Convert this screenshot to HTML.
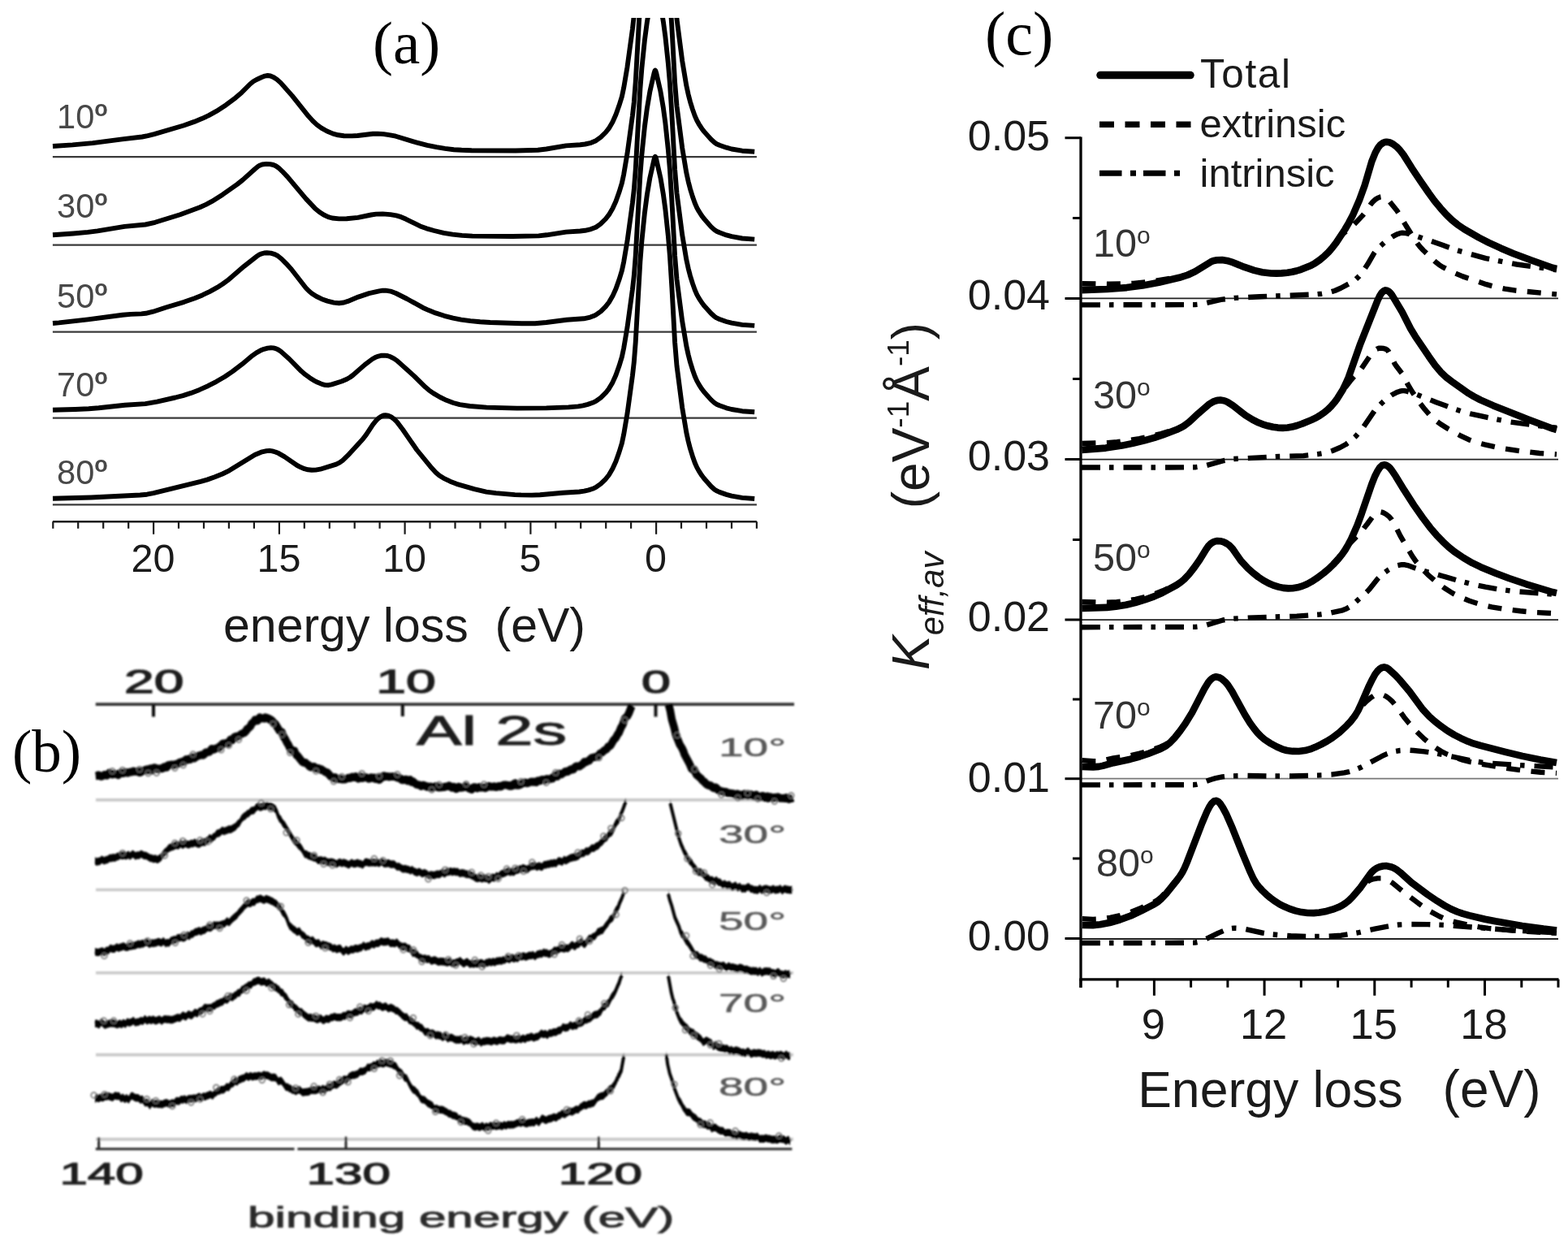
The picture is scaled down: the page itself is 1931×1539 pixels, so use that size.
<!DOCTYPE html><html><head><meta charset="utf-8"><title>Figure</title><style>html,body{margin:0;padding:0;background:#fff;overflow:hidden;}svg{display:block;}.sans{font-family:"Liberation Sans",Arial,sans-serif;}.serif{font-family:"Liberation Serif","Times New Roman",serif;}</style></head><body><svg xmlns="http://www.w3.org/2000/svg" width="1931" height="1539" viewBox="0 0 1931 1539"><rect width="1931" height="1539" fill="#fff"/><defs><clipPath id="clipA"><rect x="40" y="22" width="920" height="640"/></clipPath><filter id="blurB" x="-5%" y="-5%" width="110%" height="110%"><feGaussianBlur stdDeviation="1.1"/></filter><filter id="blurT" x="-5%" y="-5%" width="110%" height="110%"><feGaussianBlur stdDeviation="0.6"/></filter></defs><g id="panelA"><text class="serif" x="459" y="78" font-size="75" fill="#000">(a)</text><line x1="64.9" y1="193.2" x2="931.9" y2="193.2" stroke="#3a3a3a" stroke-width="2.2"/><line x1="64.9" y1="301.7" x2="931.9" y2="301.7" stroke="#3a3a3a" stroke-width="2.2"/><line x1="64.9" y1="408.6" x2="931.9" y2="408.6" stroke="#3a3a3a" stroke-width="2.2"/><line x1="64.9" y1="514.7" x2="931.9" y2="514.7" stroke="#3a3a3a" stroke-width="2.2"/><line x1="64.9" y1="621.4" x2="931.9" y2="621.4" stroke="#3a3a3a" stroke-width="2.2"/><g clip-path="url(#clipA)" fill="none" stroke="#000" stroke-width="5.9" stroke-linejoin="round" stroke-linecap="butt"><path d="M65,180 L89.3,178.4 L114.1,176.1 L150.5,171.3 L175,168.5 L182,167.1 L190,165.1 L226.2,154.5 L239.2,149.9 L248.6,146.1 L257.1,142.1 L266.5,136.9 L278.4,129.2 L290.2,120.3 L297.6,113.9 L308,103.5 L312,100.3 L316,98 L321.9,95.3 L326.2,93.6 L329.6,93 L333.1,93.5 L337.1,95.2 L341.1,97.9 L345.6,101.9 L360,118.1 L379.9,143.1 L385.3,149 L390.3,153.6 L395.8,157.6 L402.7,161.5 L410.1,164.6 L416.5,166.3 L423.5,167.2 L433.4,167.4 L440.4,167 L459.2,164.7 L465.2,164.6 L472.6,165.1 L480.5,166.3 L487.4,167.7 L512.7,175.4 L526.1,178.8 L537.5,181.2 L548,182.9 L558.9,184.2 L568.4,184.8 L580.8,185.2 L635,185.5 L662.4,184.8 L672.8,183.5 L697.1,179.4 L714.5,178.2 L720.5,177.5 L727.9,175.8 L733.9,173.2 L739.9,168.9 L745.9,163 L749.9,157.9 L754.4,150.2 L758.4,141.3 L762.4,130.1 L765.9,118.8 L768.2,107.9 L772.5,82.4 L778.9,35.8 L780.8,19 L782.7,-5.5 L788.4,-105.5 L790.4,-130.6 L793.9,-164.6 L796.9,-187.4 L800.4,-208.2 L805.6,-231 L806.5,-233.6 L806.9,-234.1 L807.3,-233.7 L808.2,-231 L813.4,-208.2 L816.9,-187.5 L819.4,-168.9 L822.9,-136 L824.9,-112.6 L827.4,-73.2 L831.1,-5.6 L833.5,23.4 L840.2,75 L845.3,105.4 L847.7,116.4 L850,125.3 L852.9,134.6 L855.7,142.6 L858.2,148.3 L860.7,152.8 L864.2,158.2 L867,161.9 L875.6,171.5 L880,175.5 L882.5,177.2 L886,178.8 L894.5,181.7 L901,183.5 L914,185.7 L929.2,186.7"/><path d="M65,289.2 L90.3,287.5 L108.2,285.9 L120.1,284.3 L153.4,278.9 L179,276.5 L191,273.8 L221.8,264.2 L246.1,255.3 L253.6,251.9 L261,247.9 L274.4,239.4 L292.2,226.9 L299.1,221.4 L314,208 L317.9,204.8 L320.4,203.4 L322.8,202.5 L328.1,201.9 L332.6,202.1 L336.6,203 L339.6,204.3 L343.1,206.7 L347.5,210.8 L354,217.6 L376.9,244.9 L387.8,256.4 L393.3,261 L398.7,264.5 L404.2,267.1 L409.1,268.5 L417.5,269.4 L426.9,269.3 L440.8,267.9 L457.2,264.5 L463.2,263.6 L471.2,263.4 L480.6,264.1 L488,265.4 L494,267.2 L500,269.8 L517.4,278.4 L525.3,281.3 L534.7,284 L546.5,286.8 L557.4,288.6 L568.9,289.9 L581.8,290.6 L631.5,291 L663.4,290.4 L673.3,289.3 L697.1,285.6 L714.5,284.5 L720.5,283.8 L727.9,282.1 L733.9,279.7 L739.4,275.9 L745.9,269.5 L749.9,264.4 L754.4,256.8 L758.4,248 L762.4,236.8 L765.9,225.4 L768.2,214.6 L772.5,189.1 L778.9,142.6 L780.8,125.8 L782.7,101.3 L788.4,1.4 L790.4,-23.7 L793.9,-57.7 L796.9,-80.5 L800.4,-101.2 L805.6,-124 L806.5,-126.7 L806.9,-127.1 L807.3,-126.7 L808.2,-124 L813.4,-101.2 L816.9,-80.4 L819.4,-61.9 L822.9,-28.9 L824.9,-5.4 L827.4,33.9 L831.1,101.6 L833.5,130.6 L840.2,182.2 L845.3,212.7 L847.7,223.7 L850,232.6 L852.9,242 L855.7,250 L858.2,255.7 L860.7,260.2 L864.2,265.6 L867,269.3 L875.6,279.1 L880,283.1 L882.5,284.7 L886,286.3 L894.5,289.4 L901,291.2 L914,293.5 L929.2,294.6"/><path d="M65,398 L72.5,397.4 L108.2,393.4 L151,387.8 L160.9,386.9 L174.1,386.4 L179.5,385.8 L188.5,383.7 L204.4,378.5 L226.7,371.8 L239.7,367.2 L249.1,363.4 L258.1,359.1 L267.5,353.9 L274.4,349.5 L280.4,345.2 L300.6,327.8 L316.5,315.4 L319.4,313.5 L322.4,312.3 L325.3,311.5 L328.7,311.2 L333.5,311.6 L338.4,313.1 L342.3,315.2 L346.7,318.7 L352.5,324.6 L359,331.8 L376.9,354.7 L380.4,358.3 L383.9,361.2 L389.8,365 L396.3,368.2 L403.2,370.6 L411.1,372.6 L417.5,373.2 L423.5,372.5 L428.4,370.9 L441.3,365.6 L454.6,361.1 L467,358.3 L471.4,357.7 L474.9,357.7 L480.9,358.6 L487.4,361 L501.3,368 L520.6,378.7 L528.1,382.1 L536.5,385.4 L547,388.8 L557.9,391.6 L567.9,393.6 L579.3,395.1 L591.2,396.3 L603.6,397 L642.4,398.3 L658.9,398.2 L672.8,397 L698.1,393.8 L719,392.3 L726.9,390.6 L730.9,389.1 L733.9,387.6 L739.9,383.4 L745.9,377.4 L749.9,372.3 L754.4,364.6 L758.4,355.8 L762.4,344.6 L765.9,333.2 L768.2,322.3 L772.5,296.8 L778.9,250.2 L780.8,233.4 L782.7,208.9 L788.4,108.9 L790.4,83.8 L793.9,49.7 L796.9,26.9 L800.4,6.2 L805.6,-16.7 L806.5,-19.3 L806.9,-19.7 L807.3,-19.3 L808.2,-16.7 L813.4,6.1 L816.9,26.9 L819.4,45.4 L822.9,78.4 L824.9,101.8 L827.4,141.1 L831.1,208.7 L833.5,237.8 L840.2,289.3 L845.3,319.7 L847.7,330.7 L850,339.6 L852.9,348.9 L855.7,356.9 L858.2,362.6 L860.7,367.1 L864.2,372.5 L867,376.2 L875.6,385.8 L880,389.8 L882.5,391.4 L886,393 L894.5,396 L901,397.7 L914,399.9 L929.2,400.9"/><path d="M65,504.8 L92.8,504 L109.2,503.2 L121.6,502.2 L153.9,498.7 L179,497.1 L193.4,494.6 L215.8,489.5 L225.2,487.1 L235.2,483.9 L245.6,479.9 L256.1,475.2 L266.5,469.8 L276.9,463.8 L286.3,457.4 L298.1,448.4 L310.8,437.8 L315.7,434.3 L320.7,431.6 L325.1,429.8 L329.6,428.6 L333.6,428.2 L336.6,428.4 L339.6,429.1 L342.6,430.5 L346.1,432.9 L356,441.7 L371.1,457.1 L376,461.2 L381.5,465.2 L386.4,468.3 L391.3,470.8 L396.8,473.1 L400.7,474.1 L404.7,474.2 L408.5,473.4 L420.8,469.5 L427.2,466.8 L431.1,464.5 L434.5,462 L449.2,449.1 L458.6,442 L462.1,440.1 L466.1,438.6 L470.1,437.7 L473.6,437.6 L477.1,438 L481,439.3 L485,441.4 L489,444.1 L510.4,463.4 L523.8,476.6 L528.2,480.3 L533.6,484.1 L541.9,489 L549.8,492.8 L558.2,496 L566.1,498.2 L578.5,500 L599.3,501.6 L636.5,502.6 L672.8,502.4 L700.1,501.4 L712,500.4 L718,499.4 L723.9,497.9 L729.9,495.8 L733.9,493.9 L739.9,489.6 L745.9,483.7 L749.9,478.6 L754.4,470.9 L758.4,462 L762.4,450.8 L765.9,439.4 L768.2,428.5 L772.5,403.1 L778.9,356.4 L780.8,339.7 L782.7,315.2 L788.4,215.2 L790.4,190.1 L793.9,156 L796.9,133.2 L800.4,112.5 L805.6,89.6 L806.5,87 L806.9,86.6 L807.3,87 L808.2,89.6 L813.4,112.4 L816.9,133.1 L819.4,151.7 L822.9,184.6 L824.9,208.1 L827.4,247.4 L831.1,315 L833.5,344.1 L840.2,395.6 L845.3,426 L847.7,437 L850,445.9 L852.9,455.2 L855.7,463.2 L858.2,468.9 L860.7,473.4 L864.2,478.8 L867,482.5 L875.6,492.1 L880,496.1 L882.5,497.7 L886,499.3 L894.5,502.3 L901,504 L914,506.2 L929.2,507.2"/><path d="M65,613.8 L112.2,612.5 L172.6,609.5 L181,608.7 L189,607.2 L247.1,592.9 L255.1,590.6 L264.5,587.3 L273.9,583.5 L282.4,579.3 L313.8,560 L321.6,556.7 L328.5,555.1 L331.9,554.9 L335.3,555.4 L339.2,556.5 L343.1,558.1 L350.5,562.4 L365.9,573 L370.4,575.3 L374.9,577.2 L379.4,578.3 L383.9,578.8 L388.8,578.6 L394.3,577.7 L414.1,571.6 L418.1,569.6 L422,566.8 L428.4,560.7 L446.7,540.8 L451.2,534.9 L459.1,522.8 L463.1,517.9 L466.1,515 L469.1,512.9 L472.1,511.5 L474.6,511.1 L478.1,511.6 L481.5,513.1 L485.5,516.1 L489,519.6 L495.9,528.7 L513.4,554 L531.7,576.3 L536.7,581.7 L541.1,585.5 L546,588.6 L554.4,592.7 L562.3,595.8 L584,602.2 L598.9,605.6 L610.8,607.1 L634.1,609.1 L641.5,609.4 L655,609.6 L665,609.3 L693,606.7 L713.4,605.5 L719.4,604.7 L724.9,603.4 L729.9,601.8 L733.9,599.9 L739.9,595.7 L745.9,589.8 L749.9,584.7 L754.4,577 L758.4,568.2 L762.4,557 L765.9,545.6 L768.2,534.7 L772.5,509.3 L778.9,462.7 L780.8,445.9 L782.7,421.4 L788.4,321.4 L790.4,296.4 L793.9,262.3 L796.9,239.5 L800.4,218.8 L805.6,195.9 L806.5,193.3 L806.9,192.9 L807.3,193.3 L808.2,195.9 L813.4,218.8 L816.9,239.5 L819.4,258 L822.9,291 L824.9,314.5 L827.4,353.8 L831.1,421.4 L833.5,450.5 L840.2,502 L845.3,532.5 L847.7,543.5 L850,552.4 L852.9,561.7 L855.7,569.7 L858.2,575.4 L860.7,579.9 L864.2,585.3 L867,589 L875.6,598.7 L880,602.7 L882.5,604.3 L886,605.9 L894.5,608.9 L901,610.7 L914,612.9 L929.2,614"/></g><text class="sans" x="70" y="158.3" font-size="41.6" fill="#484848">10<tspan font-size="27" font-weight="bold" dy="-15">o</tspan></text><text class="sans" x="70" y="268.3" font-size="41.6" fill="#484848">30<tspan font-size="27" font-weight="bold" dy="-15">o</tspan></text><text class="sans" x="70" y="379.3" font-size="41.6" fill="#484848">50<tspan font-size="27" font-weight="bold" dy="-15">o</tspan></text><text class="sans" x="70" y="488.3" font-size="41.6" fill="#484848">70<tspan font-size="27" font-weight="bold" dy="-15">o</tspan></text><text class="sans" x="70" y="595.8" font-size="41.6" fill="#484848">80<tspan font-size="27" font-weight="bold" dy="-15">o</tspan></text><line x1="64.9" y1="642.3" x2="931.9" y2="642.3" stroke="#1a1a1a" stroke-width="2.4"/><path d="M65.3,642.3 v8.5 M96.2,642.3 v8.5 M127.2,642.3 v8.5 M158.2,642.3 v8.5 M189.1,642.3 v15.5 M220,642.3 v8.5 M251,642.3 v8.5 M281.9,642.3 v8.5 M312.9,642.3 v8.5 M343.9,642.3 v15.5 M374.8,642.3 v8.5 M405.8,642.3 v8.5 M436.7,642.3 v8.5 M467.6,642.3 v8.5 M498.6,642.3 v15.5 M529.5,642.3 v8.5 M560.5,642.3 v8.5 M591.4,642.3 v8.5 M622.4,642.3 v8.5 M653.4,642.3 v15.5 M684.3,642.3 v8.5 M715.2,642.3 v8.5 M746.2,642.3 v8.5 M777.1,642.3 v8.5 M808.1,642.3 v15.5 M839,642.3 v8.5 M870,642.3 v8.5 M901,642.3 v8.5 M931.9,642.3 v8.5" stroke="#1a1a1a" stroke-width="2.2" fill="none"/><text class="sans" x="188.6" y="704.3" font-size="48.5" text-anchor="middle" fill="#1a1a1a">20</text><text class="sans" x="343.4" y="704.3" font-size="48.5" text-anchor="middle" fill="#1a1a1a">15</text><text class="sans" x="498.1" y="704.3" font-size="48.5" text-anchor="middle" fill="#1a1a1a">10</text><text class="sans" x="652.9" y="704.3" font-size="48.5" text-anchor="middle" fill="#1a1a1a">5</text><text class="sans" x="807.6" y="704.3" font-size="48.5" text-anchor="middle" fill="#1a1a1a">0</text><text class="sans" x="275" y="790" font-size="59" fill="#1a1a1a" xml:space="preserve">energy loss  (eV)</text></g><g id="panelB"><text class="serif" x="15" y="950" font-size="73" fill="#000">(b)</text><g filter="url(#blurB)"><line x1="118" y1="984.9" x2="977" y2="984.9" stroke="#c8c8c8" stroke-width="3.6"/><line x1="118" y1="1095.5" x2="977" y2="1095.5" stroke="#c8c8c8" stroke-width="3.6"/><line x1="118" y1="1197.7" x2="977" y2="1197.7" stroke="#c8c8c8" stroke-width="3.6"/><line x1="118" y1="1298.6" x2="977" y2="1298.6" stroke="#c8c8c8" stroke-width="3.6"/><line x1="118" y1="1402.6" x2="977" y2="1402.6" stroke="#c8c8c8" stroke-width="3.6"/><line x1="117.8" y1="867.2" x2="978" y2="867.2" stroke="#333" stroke-width="3.8"/><path d="M189,867 v15.5 M495.8,867 v15 M807.5,867 v15.5" stroke="#111" stroke-width="4"/><line x1="117.8" y1="1414.6" x2="362.5" y2="1414.6" stroke="#3a3a3a" stroke-width="3.4"/><line x1="366.4" y1="1414.6" x2="975.4" y2="1414.6" stroke="#3a3a3a" stroke-width="3.4"/><path d="M121.7,1414.6 v-14 M426,1414.6 v-15 M737.3,1414.6 v-15" stroke="#222" stroke-width="3"/><path d="M117.8,955.4 L119.8,955.2 L120.8,954.4 L121.8,954.3 L124.7,956 L127.7,954.8 L128.7,953.8 L130.7,954 L131.7,954.9 L134.6,951.6 L136.6,953 L138.6,953.7 L139.6,953.1 L142.5,952.9 L143.5,953.5 L144.5,953.5 L145.5,954.3 L148.5,951.4 L151.4,952.3 L154.4,950.7 L155.4,951.4 L157.4,951.6 L159.4,950.6 L160.4,950.4 L161.4,950.8 L163.4,950.1 L164.4,949.3 L166.3,950.1 L169.3,949.6 L170.3,949.9 L171.3,951 L172.3,951.2 L174.3,950.4 L175.3,948.9 L177.3,948.4 L178.3,948.7 L179.3,947.7 L181.3,947.2 L182.3,948.3 L185.2,946.3 L187.2,948.8 L189.2,945.4 L190.2,945.1 L193.2,946.1 L195.2,947.2 L197.2,946 L198.2,946.5 L200.2,946.3 L202.2,944.1 L204.1,944.2 L205.1,945 L207.1,942 L212.1,941.3 L213.1,941.9 L214.1,941.4 L215.1,941.7 L216.1,940.7 L219.1,940.4 L220.1,939.4 L222.1,938.4 L223.1,938.4 L225,937.4 L227,937.7 L229,935 L230,934.8 L232,935.4 L233,934.6 L234,935.1 L235,933.4 L237,932.4 L239,933.7 L242,931.6 L246,930.1 L249,929.2 L250,929.8 L252,928.3 L253,926.7 L254,926.1 L255,926.3 L258,925.7 L261,921.7 L262,922.7 L263,922.9 L266.9,920.9 L267.9,921.3 L269.9,920.4 L270.9,918.6 L272.9,917.6 L273.9,915.8 L274.9,915.2 L276.9,915.4 L278.8,914.6 L280.8,915.3 L283.8,910.7 L285.8,911.4 L286.8,909.6 L287.7,909.3 L288.7,907.4 L289.7,908.5 L290.6,906.5 L293.6,906.4 L297.5,903.5 L301.4,902 L302.4,900.1 L303.3,899.8 L304.3,897.4 L305.3,897.1 L308.2,894.5 L310.2,890.5 L313.2,888.2 L314.1,886.2 L316.1,886.7 L317.1,887.5 L320,883.2 L322,884.4 L324,884.8 L325,884.5 L326,884.9 L327,883.2 L329,883.9 L330,884.8 L331,884.6 L332,885.3 L333,886.7 L334,886.4 L336,888.2 L337,890.5 L339,891.3 L344,899.6 L347,901.3 L348,904.3 L349.9,908.2 L350.9,909.3 L353.8,915.2 L354.8,916.3 L357.7,922.3 L359.6,924 L360.6,923.6 L361.5,924.6 L362.5,924.4 L363.5,927.1 L364.4,928.1 L365.4,930.1 L366.4,930.5 L372.2,937.9 L374.1,938.9 L376.1,938.7 L377,940 L380,941.8 L381,943.5 L382,944.3 L384,944.8 L385,944.7 L386,943.9 L387,943.8 L389,946.1 L390,946.3 L392,945.7 L393,946.4 L394,946.6 L395,948 L396,947.3 L397,948.5 L397.9,948.5 L400.8,950.7 L401.8,951.1 L402.7,950.8 L407.6,956.3 L411.4,958.2 L412.4,956.9 L414.3,958.1 L415.3,959.2 L416.3,958.7 L417.3,959.2 L418.3,958.5 L421.3,959.8 L423.3,959.5 L424.3,959.8 L425.3,959.6 L429.2,957.6 L430.2,958.3 L431.2,958.1 L432.2,957.7 L433.2,956.7 L434.2,956.4 L436.2,957.2 L437.2,956.9 L438.2,956 L441.2,958.9 L442.2,956.3 L444.2,956.1 L445.2,958.3 L447.1,958.1 L449.1,956.5 L453.1,958.1 L454.1,958.9 L455.1,958.7 L457.1,957.1 L458.1,957.9 L459.1,958.1 L460,957.5 L462,959.2 L463,959.1 L464,957.4 L465,957.7 L467,960.2 L470,957.5 L471,955.8 L473,955.2 L474,956.4 L477,955.8 L479,956.6 L481,956.1 L484,956.2 L485,955.7 L490,957.9 L492,957.8 L493,958.3 L495,960.4 L497,960.5 L499,959.5 L500,959.6 L501,959.9 L502,961.5 L504.9,960 L506.9,963.1 L507.8,963.2 L508.8,962.3 L512.7,965.8 L514.7,966.3 L515.7,966.1 L518.6,968 L519.6,966.9 L521.6,966.5 L525.5,968.7 L526.5,968.1 L527.4,969.2 L528.4,969.5 L529.4,969.6 L530.4,968.5 L531.4,969.2 L533.3,969.7 L534.3,968.9 L535.3,969.2 L536.3,968.2 L537.3,967.9 L538.2,968.1 L539.2,969.3 L540.2,969.6 L544.1,969.5 L546.1,968.8 L547.1,969.1 L550,968.2 L552,968.2 L553,967.2 L555,968.3 L556,969.6 L556.9,970 L558.9,968.7 L560.9,970.2 L561.9,971.5 L562.9,970.2 L563.9,969.9 L564.9,968.5 L566.9,970 L567.9,970 L570.8,969.6 L572.8,967.9 L576.8,969.8 L577.8,970.9 L580.7,972.1 L583.7,969 L585.7,969.3 L587.7,970.6 L590.7,968.8 L592.7,969.9 L594.7,969.5 L597.7,970.4 L599.6,969.3 L600.6,967.9 L601.6,967.7 L602.6,967.7 L604.6,968.8 L606.6,968.7 L608.6,968 L609.6,968.9 L611.6,969.2 L613.6,968 L614.6,967.8 L615.6,968.5 L616.6,968.6 L617.6,968.2 L618.6,967 L620.6,966.4 L623.6,966.4 L624.6,966.9 L626.5,966.9 L627.5,967.9 L628.5,967.3 L629.5,968 L630.5,966.7 L631.5,967.3 L632.5,965.4 L634.5,964.2 L636.5,966.9 L638.5,967 L639.5,966 L640.5,966.2 L643.5,964.6 L644.5,963.7 L645.5,964.2 L646.5,963.3 L649.5,964.4 L651.5,963.5 L652.4,963.4 L654.4,962.3 L656.4,963 L657.4,962.3 L660.4,963.3 L662.4,961.1 L663.4,961.6 L664.4,961 L665.4,961.3 L666.4,960.2 L668.4,959.8 L669.4,960.5 L670.4,960.6 L671.4,959.7 L673.4,958.9 L676.4,959.6 L677.4,958.9 L678.3,959 L679.3,958.2 L680.3,958.6 L681.3,956.8 L682.3,956.5 L683.3,954.9 L684.3,955.8 L686.3,956.1 L688.3,952.2 L689.3,953 L691.3,953.5 L692.3,952.4 L695.2,950.9 L696.2,949.8 L698.1,949.6 L699.1,950.1 L703,947.2 L704,947.9 L706,947.4 L707.9,944.7 L709.9,943.3 L713.8,943.7 L715.7,941.8 L716.7,941.6 L718.7,939.7 L719.7,937.8 L720.6,938.4 L721.6,938.3 L724.5,936.6 L725.5,936.6 L726.5,935 L728.5,933.2 L732.4,932 L733.3,932.3 L736.3,931 L739.2,927.4 L741.2,926.6 L744.1,924 L747.1,922.3 L749.1,919.1 L750.1,919.2 L752,917.7 L756,910.7 L758,909.1 L761,903.5 L761.9,902.8 L764.8,895.8 L766.7,892.8 L769.5,884.6 L772.5,881.8 L774.5,878 L777.5,870.3 L778.5,868.9" fill="none" stroke="#000" stroke-width="9.6" stroke-linejoin="round"/><g fill="none" stroke="#666" stroke-width="1.5"><circle cx="138.3" cy="949.4" r="3.4"/><circle cx="150.8" cy="948.1" r="3.4"/><circle cx="171.8" cy="947.2" r="3.4"/><circle cx="182.5" cy="952" r="3.4"/><circle cx="192.8" cy="951.5" r="3.4"/><circle cx="215.3" cy="945.6" r="3.4"/><circle cx="225.6" cy="942.1" r="3.4"/><circle cx="237.7" cy="928.7" r="3.4"/><circle cx="272.3" cy="923.2" r="3.4"/><circle cx="281.7" cy="917.9" r="3.4"/><circle cx="294" cy="910.6" r="3.4"/><circle cx="336.3" cy="891.3" r="3.4"/><circle cx="347.3" cy="904.4" r="3.4"/><circle cx="357.3" cy="926.7" r="3.4"/><circle cx="389.1" cy="949.4" r="3.4"/><circle cx="411" cy="962.1" r="3.4"/><circle cx="421" cy="956.1" r="3.4"/><circle cx="445.6" cy="952.3" r="3.4"/><circle cx="466.9" cy="955.6" r="3.4"/><circle cx="489.3" cy="953.5" r="3.4"/><circle cx="531.7" cy="972.3" r="3.4"/><circle cx="540.8" cy="965.9" r="3.4"/><circle cx="574.1" cy="965.3" r="3.4"/><circle cx="596" cy="965.7" r="3.4"/><circle cx="641.5" cy="962.2" r="3.4"/><circle cx="672.6" cy="963.6" r="3.4"/><circle cx="684.3" cy="951.2" r="3.4"/><circle cx="737.7" cy="933" r="3.4"/><circle cx="769.5" cy="886.5" r="3.4"/></g><path d="M823.4,867.2 L825.4,875 L827.3,885.7 L830.3,895.9 L832.3,904.7 L837.1,916.6 L840,921.2 L841.9,925.5 L842.9,928.8 L848.8,939.7 L851.8,946.6 L853.8,948 L854.7,947.3 L857.7,953.8 L863.6,958.9 L864.5,960.4 L866.5,962.2 L867.5,962.4 L868.5,964.3 L869.4,964.7 L870.4,965.9 L872.4,966.9 L873.3,966.6 L874.3,967.6 L875.3,967.2 L878.2,969.9 L879.2,970.4 L880.2,969.4 L881.2,969.2 L882.1,969.9 L884.1,972.5 L885.1,973.1 L886.1,973.1 L887.1,974 L890.1,974.2 L892.1,975.3 L893.1,974.8 L894.1,975 L896.1,976.4 L897.1,976.2 L902.1,976.9 L904.1,977.6 L905.1,978.5 L907,978.3 L908,977.3 L909,978.9 L910,978.5 L911,979.7 L912,978.3 L914,979.6 L917,977.3 L918,978.6 L919,978.6 L920,979.4 L921,979.6 L924,977.8 L925,979.3 L926,978.7 L927,979.7 L929,980.4 L930,979.7 L931,978.4 L934,980.8 L935.9,980.7 L936.9,981.5 L937.9,980.1 L938.9,979.8 L939.9,980 L940.9,981.6 L941.9,982.3 L942.9,980.7 L944.9,980.4 L945.9,983 L947.8,982.1 L948.8,981 L949.8,982 L950.8,982 L951.8,982.6 L952.8,981.8 L953.8,982.3 L954.8,981.5 L955.8,982 L957.8,981.2 L960.7,982.9 L961.7,982.5 L962.7,982.9 L965.7,982.5 L966.7,983.3 L967.7,983.3 L968.7,982 L970.6,982.9 L971.6,984 L972.6,983.3 L974.6,983.2 L976.6,982.4" fill="none" stroke="#000" stroke-width="9.6" stroke-linejoin="round"/><g fill="none" stroke="#666" stroke-width="1.5"><circle cx="834" cy="905.2" r="3.4"/><circle cx="855.5" cy="947" r="3.4"/><circle cx="888.4" cy="978.6" r="3.4"/><circle cx="908.7" cy="982.4" r="3.4"/><circle cx="920.8" cy="976.5" r="3.4"/><circle cx="933.2" cy="983.6" r="3.4"/><circle cx="953.8" cy="986.6" r="3.4"/><circle cx="974.3" cy="979.5" r="3.4"/></g><path d="M117,1055.5 L118,1055.6 L119,1056.9 L120,1055.8 L121,1056.1 L122,1055.5 L123,1055.8 L125,1053.5 L127,1054.2 L128,1055.4 L129,1054.4 L130,1054.5 L131,1053.7 L132,1054.1 L135,1051.8 L138,1051.8 L139,1051.1 L141,1051.6 L143,1050.9 L144,1049.8 L145,1050 L148.9,1047.8 L149.9,1049.2 L150.9,1048.5 L151.8,1048.8 L152.8,1048.1 L154.8,1049.2 L158.7,1047.6 L159.7,1049.7 L160.6,1048.7 L161.6,1048.5 L162.6,1046.9 L163.6,1046.7 L165.5,1047.9 L166.5,1049.3 L169.4,1048.2 L171.4,1048.6 L173.3,1046.7 L175.3,1047.3 L177.3,1048.8 L178.3,1048.6 L180.3,1048.9 L185.3,1052.1 L186.2,1051.7 L189.2,1053.1 L190.2,1052.6 L192.2,1052.6 L193.2,1053.7 L194.2,1053.6 L198.1,1051.1 L202.1,1045.4 L203,1044.4 L204,1044 L205.9,1042 L207.9,1039.3 L208.9,1039.6 L209.8,1038.4 L210.8,1038.6 L211.8,1037.5 L212.8,1037.8 L216.6,1035.9 L217.6,1035.8 L218.6,1036.3 L220.5,1036 L221.5,1034.6 L222.5,1034.1 L223.4,1034.3 L224.4,1035.7 L225.4,1035.5 L228.3,1033.5 L231.2,1035.2 L233.1,1035.1 L236.1,1033.4 L237,1034.4 L239.9,1032.5 L241.9,1033.7 L244.8,1034.5 L246.7,1033.9 L247.7,1032.5 L248.7,1032.7 L249.6,1031.8 L250.6,1032.3 L253.5,1031.8 L254.5,1030.3 L255.5,1030.6 L257.5,1027.5 L258.5,1027 L260.5,1028.6 L262.5,1025.8 L264.5,1025.2 L266.5,1022 L268.5,1021 L269.5,1021.3 L272.4,1019.1 L273.4,1017.5 L274.4,1018.3 L275.4,1018.3 L276.3,1019.2 L277.3,1017.9 L278.3,1018.2 L279.3,1017.2 L280.2,1017.5 L281.2,1016.3 L284.2,1016.6 L290.1,1013.1 L293.1,1009.3 L294.1,1009.1 L295.1,1008.1 L297.1,1004 L298.1,1002.7 L301.1,1000.1 L302.1,999.8 L305,996.7 L306,997.4 L307,995.7 L308,995.2 L308.9,993.6 L309.9,993.7 L310.9,993 L311.9,993.3 L313.8,992.2 L314.8,990 L315.8,989.6 L316.8,988.2 L317.7,988.4 L318.7,987.9 L319.7,989 L320.7,989.3 L325.5,987.4 L326.4,988 L327.4,987.9 L329.3,986.8 L330.2,988.2 L331.2,987.9 L332.2,988.6 L333.1,987.6 L334.1,988.7 L335,988.5 L339.8,991.9 L343.5,1002.3 L346.4,1005.1 L347.3,1007.4 L349.3,1010.3 L350.2,1010.5 L361,1028.6 L363,1031.1 L364,1031.6 L368,1036.8 L369,1037.1 L372,1040.9 L374.9,1046.4 L375.9,1047 L377.9,1047 L378.9,1048.5 L379.9,1048.6 L380.8,1049.3 L381.8,1049.1 L382.8,1050 L383.8,1049.9 L385.8,1051.1 L388.7,1051.5 L391.6,1054.7 L395.5,1054.2 L397.5,1054.9 L398.4,1055.7 L399.4,1054.5 L401.4,1055.3 L402.3,1056.8 L403.3,1056.3 L404.3,1057.1 L406.2,1057 L407.2,1056.6 L411.1,1057.2 L412,1057.9 L413,1058 L414,1059.2 L414.9,1058.9 L416.9,1057.3 L417.9,1057.4 L418.8,1056.7 L419.8,1057.6 L421.7,1058.4 L422.7,1057.2 L423.7,1057.2 L424.6,1058 L426.6,1058.3 L428.5,1059.8 L429.5,1059.8 L430.5,1059.6 L432.4,1057.7 L433.4,1057.6 L435.3,1058.9 L438.3,1058.5 L440.3,1057.5 L441.3,1057.8 L442.3,1058.9 L444.3,1058.6 L446.3,1060.4 L448.3,1058.5 L449.3,1056.8 L450.3,1057 L451.3,1056.6 L455.2,1057.9 L456.2,1056.9 L457.2,1057.4 L459.2,1057.3 L460.2,1056.8 L461.2,1057.5 L463.2,1057.6 L464.2,1056.5 L465.2,1057.5 L467.2,1058.2 L469.2,1056.4 L470.2,1056.2 L473.1,1058.8 L474.1,1058.3 L476.1,1058.7 L477,1058.1 L479,1058.1 L479.9,1059 L482.9,1059.6 L484.8,1059.2 L485.8,1059.6 L488.7,1062.4 L489.6,1062.6 L490.6,1062.1 L492.6,1062.7 L493.5,1063.9 L494.5,1064.1 L495.5,1065 L497.5,1065.2 L499.4,1064.8 L500.4,1065.4 L503.4,1065.9 L505.4,1067.4 L507.4,1066.1 L508.3,1066.4 L509.3,1068.1 L512.3,1069 L513.3,1069.9 L516.2,1068.4 L520.2,1071 L521.2,1070.7 L522.2,1069.7 L526.1,1071.5 L528.1,1073.7 L529.1,1072.5 L530.1,1072.7 L531.1,1072 L532.1,1073.1 L533.1,1072.4 L534.1,1073 L536,1072.6 L538,1071.5 L540,1071.8 L542,1071.5 L544.9,1069.2 L545.9,1070.3 L547.8,1071.1 L549.8,1069.1 L550.8,1069 L551.7,1068 L552.7,1069.1 L553.7,1068.2 L554.7,1068.3 L555.7,1067.9 L556.6,1069.1 L559.6,1068.2 L561.5,1069.1 L563.5,1068.6 L566.4,1070.9 L567.4,1070.3 L569.3,1069.9 L570.3,1070.7 L571.2,1069.7 L572.2,1071.2 L573.2,1070.8 L574.2,1072 L575.1,1071.3 L576.1,1071.9 L577.1,1071.5 L578.1,1072 L579,1071.9 L580,1073.2 L581,1073 L581.9,1073.8 L582.9,1074 L585.7,1076.3 L588.6,1076.8 L589.5,1076.3 L591.5,1076 L593.4,1077.3 L596.2,1076.1 L598.1,1077.2 L599.1,1076.4 L600.1,1076.8 L602,1079.1 L605.9,1075.5 L607.8,1075.8 L608.8,1076.5 L611.7,1073.6 L613.7,1074.9 L615.6,1072.5 L619.5,1070.5 L621.4,1070.4 L622.4,1069.5 L623.4,1069.4 L624.3,1068.5 L625.3,1068.4 L626.3,1067.7 L627.3,1069.2 L628.3,1068.8 L629.3,1069.2 L630.3,1067.9 L631.2,1068.8 L632.2,1069 L634.2,1068 L635.2,1066.7 L637.2,1066.5 L640.2,1065.2 L642.2,1065.5 L643.1,1064.3 L644.1,1064.1 L645.1,1064.1 L646.1,1064.9 L648.1,1065.2 L649.1,1066.1 L652.1,1063.3 L655,1061.5 L656,1061.8 L659,1061.1 L661,1062.8 L664,1061.3 L666,1062.5 L667.9,1062.5 L669.9,1060.1 L672.9,1060.1 L673.9,1059.2 L676.9,1059.3 L677.9,1058 L678.9,1058.5 L679.8,1058.2 L680.8,1058.6 L682.8,1057.5 L684.8,1058.5 L687.8,1054.9 L688.8,1055.7 L689.8,1055.4 L690.8,1055.7 L691.7,1056.7 L692.7,1056.3 L694.7,1053.6 L696.7,1055 L702.7,1051.5 L705.7,1051.1 L706.7,1050.3 L707.7,1050.8 L712.6,1049 L714.6,1046.6 L715.6,1046.6 L716.6,1045.4 L717.6,1046.3 L718.6,1045.7 L719.6,1045.7 L720.6,1044.1 L722.6,1043.1 L723.6,1044 L724.6,1043 L725.6,1042.8 L728.6,1039.4 L731.6,1039.7 L732.6,1038.5 L734.6,1037 L735.6,1037.1 L737.6,1035.5 L739.6,1032.9 L741.5,1031.8 L745.3,1027.1 L747.2,1026.7 L750.1,1021.7 L751,1021.6 L752,1020.4 L752.9,1020.5 L754.9,1017.6 L757.7,1010 L762.4,1004.3 L765.2,995.9 L766.1,994.6 L770.6,982.3 L770.6,991.7 L766.1,1004 L765.2,1005.3 L762.4,1013.7 L757.7,1019.4 L754.9,1027 L752.9,1029.9 L752,1029.8 L751,1031 L750.1,1031.1 L747.2,1036.1 L745.3,1036.5 L741.5,1041.2 L739.6,1042.3 L737.6,1044.9 L735.6,1046.5 L734.6,1046.4 L732.6,1047.9 L731.6,1049.1 L728.6,1048.8 L725.6,1052.2 L724.6,1052.4 L723.6,1053.4 L722.6,1052.5 L720.6,1053.5 L719.6,1055.1 L718.6,1055.1 L717.6,1055.7 L716.6,1054.8 L715.6,1056 L714.6,1056 L712.6,1058.4 L707.7,1060.2 L706.7,1059.7 L705.7,1060.5 L702.7,1060.9 L696.7,1064.4 L694.7,1063 L692.7,1065.7 L691.7,1066.1 L690.8,1065.1 L689.8,1064.8 L688.8,1065.1 L687.8,1064.3 L684.8,1067.9 L682.8,1066.9 L680.8,1068 L679.8,1067.6 L678.9,1067.9 L677.9,1067.4 L676.9,1068.7 L673.9,1068.6 L672.9,1069.5 L669.9,1069.5 L667.9,1071.9 L666,1071.9 L664,1070.7 L661,1072.2 L659,1070.5 L656,1071.2 L655,1070.9 L652.1,1072.7 L649.1,1075.5 L648.1,1074.6 L646.1,1074.3 L645.1,1073.5 L644.1,1073.5 L643.1,1073.7 L642.2,1074.9 L640.2,1074.6 L637.2,1075.9 L635.2,1076.1 L634.2,1077.4 L632.2,1078.4 L631.2,1078.2 L630.3,1077.3 L629.3,1078.6 L628.3,1078.2 L627.3,1078.6 L626.3,1077.1 L625.3,1077.8 L624.3,1077.9 L623.4,1078.8 L622.4,1078.9 L621.4,1079.8 L619.5,1079.9 L615.6,1081.9 L613.7,1084.3 L611.7,1083 L608.8,1085.9 L607.8,1085.2 L605.9,1084.9 L602,1088.5 L600.1,1086.2 L599.1,1085.8 L598.1,1086.6 L596.2,1085.5 L593.4,1086.7 L591.5,1085.4 L589.5,1085.7 L588.6,1086.2 L585.7,1085.7 L582.9,1083.4 L581.9,1083.2 L581,1082.4 L580,1082.6 L579,1081.3 L578.1,1081.4 L577.1,1080.9 L576.1,1081.3 L575.1,1080.7 L574.2,1081.4 L573.2,1080.2 L572.2,1080.6 L571.2,1079.1 L570.3,1080.1 L569.3,1079.3 L567.4,1079.7 L566.4,1080.3 L563.5,1078 L561.5,1078.5 L559.6,1077.6 L556.6,1078.5 L555.7,1077.3 L554.7,1077.7 L553.7,1077.6 L552.7,1078.5 L551.7,1077.4 L550.8,1078.4 L549.8,1078.5 L547.8,1080.5 L545.9,1079.7 L544.9,1078.6 L542,1080.9 L540,1081.2 L538,1080.9 L536,1082 L534.1,1082.4 L533.1,1081.8 L532.1,1082.5 L531.1,1081.4 L530.1,1082.1 L529.1,1081.9 L528.1,1083.1 L526.1,1080.9 L522.2,1079.1 L521.2,1080.1 L520.2,1080.4 L516.2,1077.8 L513.3,1079.3 L512.3,1078.4 L509.3,1077.5 L508.3,1075.8 L507.4,1075.5 L505.4,1076.8 L503.4,1075.3 L500.4,1074.8 L499.4,1074.2 L497.5,1074.6 L495.5,1074.4 L494.5,1073.5 L493.5,1073.3 L492.6,1072.1 L490.6,1071.5 L489.6,1072 L488.7,1071.8 L485.8,1069 L484.8,1068.6 L482.9,1069 L479.9,1068.4 L479,1067.5 L477,1067.5 L476.1,1068.1 L474.1,1067.7 L473.1,1068.2 L470.2,1065.6 L469.2,1065.8 L467.2,1067.6 L465.2,1066.9 L464.2,1065.9 L463.2,1067 L461.2,1066.9 L460.2,1066.2 L459.2,1066.7 L457.2,1066.8 L456.2,1066.3 L455.2,1067.3 L451.3,1066 L450.3,1066.4 L449.3,1066.2 L448.3,1067.9 L446.3,1069.8 L444.3,1068 L442.3,1068.3 L441.3,1067.2 L440.3,1066.9 L438.3,1067.9 L435.3,1068.3 L433.4,1067 L432.4,1067.1 L430.5,1069 L429.5,1069.2 L428.5,1069.2 L426.6,1067.7 L424.6,1067.4 L423.7,1066.6 L422.7,1066.6 L421.7,1067.8 L419.8,1067 L418.8,1066.1 L417.9,1066.8 L416.9,1066.7 L414.9,1068.3 L414,1068.6 L413,1067.4 L412,1067.3 L411.1,1066.6 L407.2,1066 L406.2,1066.4 L404.3,1066.5 L403.3,1065.7 L402.3,1066.2 L401.4,1064.7 L399.4,1063.9 L398.4,1065.1 L397.5,1064.3 L395.5,1063.6 L391.6,1064.1 L388.7,1060.9 L385.8,1060.5 L383.8,1059.3 L382.8,1059.4 L381.8,1058.5 L380.8,1058.7 L379.9,1058 L378.9,1057.9 L377.9,1056.4 L375.9,1056.4 L374.9,1055.8 L372,1050.3 L369,1046.5 L368,1046.2 L364,1041 L363,1040.5 L361,1038 L350.2,1019.9 L349.3,1019.7 L347.3,1016.8 L346.4,1014.5 L343.5,1011.7 L339.8,1001.3 L335,997.9 L334.1,998.1 L333.1,997 L332.2,998 L331.2,997.3 L330.2,997.6 L329.3,996.2 L327.4,997.3 L326.4,997.4 L325.5,996.8 L320.7,998.7 L319.7,998.4 L318.7,997.3 L317.7,997.8 L316.8,997.6 L315.8,999 L314.8,999.4 L313.8,1001.6 L311.9,1002.7 L310.9,1002.4 L309.9,1003.1 L308.9,1003 L308,1004.6 L307,1005.1 L306,1006.8 L305,1006.1 L302.1,1009.2 L301.1,1009.5 L298.1,1012.1 L297.1,1013.4 L295.1,1017.5 L294.1,1018.5 L293.1,1018.7 L290.1,1022.5 L284.2,1026 L281.2,1025.7 L280.2,1026.9 L279.3,1026.6 L278.3,1027.6 L277.3,1027.3 L276.3,1028.6 L275.4,1027.7 L274.4,1027.7 L273.4,1026.9 L272.4,1028.5 L269.5,1030.7 L268.5,1030.4 L266.5,1031.4 L264.5,1034.6 L262.5,1035.2 L260.5,1038 L258.5,1036.4 L257.5,1036.9 L255.5,1040 L254.5,1039.7 L253.5,1041.2 L250.6,1041.7 L249.6,1041.2 L248.7,1042.1 L247.7,1041.9 L246.7,1043.3 L244.8,1043.9 L241.9,1043.1 L239.9,1041.9 L237,1043.8 L236.1,1042.8 L233.1,1044.5 L231.2,1044.6 L228.3,1042.9 L225.4,1044.9 L224.4,1045.1 L223.4,1043.7 L222.5,1043.5 L221.5,1044 L220.5,1045.4 L218.6,1045.7 L217.6,1045.2 L216.6,1045.3 L212.8,1047.2 L211.8,1046.9 L210.8,1048 L209.8,1047.8 L208.9,1049 L207.9,1048.7 L205.9,1051.4 L204,1053.4 L203,1053.8 L202.1,1054.8 L198.1,1060.5 L194.2,1063 L193.2,1063.1 L192.2,1062 L190.2,1062 L189.2,1062.5 L186.2,1061.1 L185.3,1061.5 L180.3,1058.3 L178.3,1058 L177.3,1058.2 L175.3,1056.7 L173.3,1056.1 L171.4,1058 L169.4,1057.6 L166.5,1058.7 L165.5,1057.3 L163.6,1056.1 L162.6,1056.3 L161.6,1057.9 L160.6,1058.1 L159.7,1059.1 L158.7,1057 L154.8,1058.6 L152.8,1057.5 L151.8,1058.2 L150.9,1057.9 L149.9,1058.6 L148.9,1057.2 L145,1059.4 L144,1059.2 L143,1060.3 L141,1061 L139,1060.5 L138,1061.2 L135,1061.2 L132,1063.5 L131,1063.1 L130,1063.9 L129,1063.8 L128,1064.8 L127,1063.6 L125,1062.9 L123,1065.2 L122,1064.9 L121,1065.5 L120,1065.2 L119,1066.3 L118,1065 L117,1064.9Z" fill="#000"/><path d="M117,1060.2 L118,1060.3 L119,1061.6 L120,1060.5 L121,1060.8 L122,1060.2 L123,1060.5 L125,1058.2 L127,1058.9 L128,1060.1 L129,1059.1 L130,1059.2 L131,1058.4 L132,1058.8 L135,1056.5 L138,1056.5 L139,1055.8 L141,1056.3 L143,1055.6 L144,1054.5 L145,1054.7 L148.9,1052.5 L149.9,1053.9 L150.9,1053.2 L151.8,1053.5 L152.8,1052.8 L154.8,1053.9 L158.7,1052.3 L159.7,1054.4 L160.6,1053.4 L161.6,1053.2 L162.6,1051.6 L163.6,1051.4 L165.5,1052.6 L166.5,1054 L169.4,1052.9 L171.4,1053.3 L173.3,1051.4 L175.3,1052 L177.3,1053.5 L178.3,1053.3 L180.3,1053.6 L185.3,1056.8 L186.2,1056.4 L189.2,1057.8 L190.2,1057.3 L192.2,1057.3 L193.2,1058.4 L194.2,1058.3 L198.1,1055.8 L202.1,1050.1 L203,1049.1 L204,1048.7 L205.9,1046.7 L207.9,1044 L208.9,1044.3 L209.8,1043.1 L210.8,1043.3 L211.8,1042.2 L212.8,1042.5 L216.6,1040.6 L217.6,1040.5 L218.6,1041 L220.5,1040.7 L221.5,1039.3 L222.5,1038.8 L223.4,1039 L224.4,1040.4 L225.4,1040.2 L228.3,1038.2 L231.2,1039.9 L233.1,1039.8 L236.1,1038.1 L237,1039.1 L239.9,1037.2 L241.9,1038.4 L244.8,1039.2 L246.7,1038.6 L247.7,1037.2 L248.7,1037.4 L249.6,1036.5 L250.6,1037 L253.5,1036.5 L254.5,1035 L255.5,1035.3 L257.5,1032.2 L258.5,1031.7 L260.5,1033.3 L262.5,1030.5 L264.5,1029.9 L266.5,1026.7 L268.5,1025.7 L269.5,1026 L272.4,1023.8 L273.4,1022.2 L274.4,1023 L275.4,1023 L276.3,1023.9 L277.3,1022.6 L278.3,1022.9 L279.3,1021.9 L280.2,1022.2 L281.2,1021 L284.2,1021.3 L290.1,1017.8 L293.1,1014 L294.1,1013.8 L295.1,1012.8 L297.1,1008.7 L298.1,1007.4 L301.1,1004.8 L302.1,1004.5 L305,1001.4 L306,1002.1 L307,1000.4 L308,999.9 L308.9,998.3 L309.9,998.4 L310.9,997.7 L311.9,998 L313.8,996.9 L314.8,994.7 L315.8,994.3 L316.8,992.9 L317.7,993.1 L318.7,992.6 L319.7,993.7 L320.7,994 L325.5,992.1 L326.4,992.7 L327.4,992.6 L329.3,991.5 L330.2,992.9 L331.2,992.6 L332.2,993.3 L333.1,992.3 L334.1,993.4 L335,993.2 L339.8,996.6 L343.5,1007 L346.4,1009.8 L347.3,1012.1 L349.3,1015 L350.2,1015.2 L361,1033.3 L363,1035.8 L364,1036.3 L368,1041.5 L369,1041.8 L372,1045.6 L374.9,1051.1 L375.9,1051.7 L377.9,1051.7 L378.9,1053.2 L379.9,1053.3 L380.8,1054 L381.8,1053.8 L382.8,1054.7 L383.8,1054.6 L385.8,1055.8 L388.7,1056.2 L391.6,1059.4 L395.5,1058.9 L397.5,1059.6 L398.4,1060.4 L399.4,1059.2 L401.4,1060 L402.3,1061.5 L403.3,1061 L404.3,1061.8 L406.2,1061.7 L407.2,1061.3 L411.1,1061.9 L412,1062.6 L413,1062.7 L414,1063.9 L414.9,1063.6 L416.9,1062 L417.9,1062.1 L418.8,1061.4 L419.8,1062.3 L421.7,1063.1 L422.7,1061.9 L423.7,1061.9 L424.6,1062.7 L426.6,1063 L428.5,1064.5 L429.5,1064.5 L430.5,1064.3 L432.4,1062.4 L433.4,1062.3 L435.3,1063.6 L438.3,1063.2 L440.3,1062.2 L441.3,1062.5 L442.3,1063.6 L444.3,1063.3 L446.3,1065.1 L448.3,1063.2 L449.3,1061.5 L450.3,1061.7 L451.3,1061.3 L455.2,1062.6 L456.2,1061.6 L457.2,1062.1 L459.2,1062 L460.2,1061.5 L461.2,1062.2 L463.2,1062.3 L464.2,1061.2 L465.2,1062.2 L467.2,1062.9 L469.2,1061.1 L470.2,1060.9 L473.1,1063.5 L474.1,1063 L476.1,1063.4 L477,1062.8 L479,1062.8 L479.9,1063.7 L482.9,1064.3 L484.8,1063.9 L485.8,1064.3 L488.7,1067.1 L489.6,1067.3 L490.6,1066.8 L492.6,1067.4 L493.5,1068.6 L494.5,1068.8 L495.5,1069.7 L497.5,1069.9 L499.4,1069.5 L500.4,1070.1 L503.4,1070.6 L505.4,1072.1 L507.4,1070.8 L508.3,1071.1 L509.3,1072.8 L512.3,1073.7 L513.3,1074.6 L516.2,1073.1 L520.2,1075.7 L521.2,1075.4 L522.2,1074.4 L526.1,1076.2 L528.1,1078.4 L529.1,1077.2 L530.1,1077.4 L531.1,1076.7 L532.1,1077.8 L533.1,1077.1 L534.1,1077.7 L536,1077.3 L538,1076.2 L540,1076.5 L542,1076.2 L544.9,1073.9 L545.9,1075 L547.8,1075.8 L549.8,1073.8 L550.8,1073.7 L551.7,1072.7 L552.7,1073.8 L553.7,1072.9 L554.7,1073 L555.7,1072.6 L556.6,1073.8 L559.6,1072.9 L561.5,1073.8 L563.5,1073.3 L566.4,1075.6 L567.4,1075 L569.3,1074.6 L570.3,1075.4 L571.2,1074.4 L572.2,1075.9 L573.2,1075.5 L574.2,1076.7 L575.1,1076 L576.1,1076.6 L577.1,1076.2 L578.1,1076.7 L579,1076.6 L580,1077.9 L581,1077.7 L581.9,1078.5 L582.9,1078.7 L585.7,1081 L588.6,1081.5 L589.5,1081 L591.5,1080.7 L593.4,1082 L596.2,1080.8 L598.1,1081.9 L599.1,1081.1 L600.1,1081.5 L602,1083.8 L605.9,1080.2 L607.8,1080.5 L608.8,1081.2 L611.7,1078.3 L613.7,1079.6 L615.6,1077.2 L619.5,1075.2 L621.4,1075.1 L622.4,1074.2 L623.4,1074.1 L624.3,1073.2 L625.3,1073.1 L626.3,1072.4 L627.3,1073.9 L628.3,1073.5 L629.3,1073.9 L630.3,1072.6 L631.2,1073.5 L632.2,1073.7 L634.2,1072.7 L635.2,1071.4 L637.2,1071.2 L640.2,1069.9 L642.2,1070.2 L643.1,1069 L644.1,1068.8 L645.1,1068.8 L646.1,1069.6 L648.1,1069.9 L649.1,1070.8 L652.1,1068 L655,1066.2 L656,1066.5 L659,1065.8 L661,1067.5 L664,1066 L666,1067.2 L667.9,1067.2 L669.9,1064.8 L672.9,1064.8 L673.9,1063.9 L676.9,1064 L677.9,1062.7 L678.9,1063.2 L679.8,1062.9 L680.8,1063.3 L682.8,1062.2 L684.8,1063.2 L687.8,1059.6 L688.8,1060.4 L689.8,1060.1 L690.8,1060.4 L691.7,1061.4 L692.7,1061 L694.7,1058.3 L696.7,1059.7 L702.7,1056.2 L705.7,1055.8 L706.7,1055 L707.7,1055.5 L712.6,1053.7 L714.6,1051.3 L715.6,1051.3 L716.6,1050.1 L717.6,1051 L718.6,1050.4 L719.6,1050.4 L720.6,1048.8 L722.6,1047.8 L723.6,1048.7 L724.6,1047.7 L725.6,1047.5 L728.6,1044.1 L731.6,1044.4 L732.6,1043.2 L734.6,1041.7 L735.6,1041.8 L737.6,1040.2 L739.6,1037.6 L741.5,1036.5 L745.3,1031.8 L747.2,1031.4 L750.1,1026.4 L751,1026.3 L752,1025.1 L752.9,1025.2 L754.9,1022.3 L757.7,1014.7 L762.4,1009 L765.2,1000.6 L766.1,999.3 L770.6,987" fill="none" stroke="#000" stroke-width="4" stroke-linejoin="round"/><g fill="none" stroke="#666" stroke-width="1.5"><circle cx="150.9" cy="1050.3" r="3.4"/><circle cx="202.8" cy="1053.3" r="3.4"/><circle cx="215.4" cy="1037.9" r="3.4"/><circle cx="225.1" cy="1035.3" r="3.4"/><circle cx="246.4" cy="1034.5" r="3.4"/><circle cx="256.2" cy="1036.4" r="3.4"/><circle cx="321.7" cy="988.7" r="3.4"/><circle cx="333.4" cy="996.1" r="3.4"/><circle cx="352.7" cy="1025.2" r="3.4"/><circle cx="365.4" cy="1034.4" r="3.4"/><circle cx="386.8" cy="1052.9" r="3.4"/><circle cx="398.6" cy="1063.8" r="3.4"/><circle cx="409.4" cy="1065.3" r="3.4"/><circle cx="460.8" cy="1057.2" r="3.4"/><circle cx="471.7" cy="1059.4" r="3.4"/><circle cx="527.4" cy="1082.3" r="3.4"/><circle cx="548.3" cy="1070.8" r="3.4"/><circle cx="580.8" cy="1074" r="3.4"/><circle cx="592.1" cy="1077.6" r="3.4"/><circle cx="601.6" cy="1079.1" r="3.4"/><circle cx="613.5" cy="1081.9" r="3.4"/><circle cx="624.1" cy="1069.7" r="3.4"/><circle cx="634.5" cy="1068.8" r="3.4"/><circle cx="644.8" cy="1072.7" r="3.4"/><circle cx="655.3" cy="1061.7" r="3.4"/><circle cx="711.6" cy="1049.6" r="3.4"/><circle cx="743.3" cy="1029.4" r="3.4"/><circle cx="752.5" cy="1019.8" r="3.4"/><circle cx="765.3" cy="1007.1" r="3.4"/></g><path d="M825.4,984.3 L835.5,1025.2 L839.2,1036.5 L840.1,1037.5 L843,1045.2 L844.9,1047.2 L847.8,1053.7 L848.8,1054.5 L849.7,1056.3 L850.7,1056.3 L851.7,1057.5 L854.7,1063.1 L855.6,1063.6 L857.6,1065.9 L858.6,1068 L859.6,1068.8 L863.5,1069.2 L864.5,1070.4 L865.5,1070.8 L868.5,1074.9 L871.4,1075.8 L873.4,1077.4 L874.4,1079.1 L877.4,1078.8 L879.4,1081 L882.3,1078.8 L883.3,1080.2 L885.3,1081.8 L886.3,1081.4 L887.3,1081.7 L889.3,1084.5 L890.3,1084.8 L892.3,1083.2 L894.2,1084.9 L896.2,1085.2 L898.2,1084.6 L899.2,1084.9 L901.2,1087.4 L904.2,1086.5 L905.1,1085.6 L906.1,1085.4 L908.1,1088.3 L909.1,1088.2 L911.1,1086.4 L912.1,1088.3 L914.1,1089.8 L915.1,1088.8 L917,1089.7 L918,1089.1 L919,1089 L920,1087.6 L921,1087.7 L922,1087.1 L924,1089.3 L925,1089.8 L926,1089.4 L928.9,1091.2 L929.9,1090.7 L931.9,1091.3 L933.9,1091.1 L934.9,1089.6 L935.9,1089 L937.8,1091.1 L938.8,1091.6 L939.8,1090.1 L940.8,1090.3 L941.8,1089.8 L943.8,1089.5 L947.7,1091.1 L948.7,1090.8 L949.7,1091.2 L950.7,1090.3 L952.7,1089.6 L954.6,1091.4 L955.6,1090.8 L958.6,1090.7 L959.6,1090.2 L960.6,1088.9 L963.5,1092.1 L965.5,1089.9 L966.5,1089.7 L967.5,1089.8 L968.5,1090.6 L970.5,1090.5 L972.4,1091.2 L975.4,1090.8 L975.4,1100.2 L972.4,1100.6 L970.5,1099.9 L968.5,1100 L967.5,1099.2 L966.5,1099.1 L965.5,1099.3 L963.5,1101.5 L960.6,1098.3 L959.6,1099.6 L958.6,1100.1 L955.6,1100.2 L954.6,1100.8 L952.7,1099 L950.7,1099.7 L949.7,1100.6 L948.7,1100.2 L947.7,1100.5 L943.8,1098.9 L941.8,1099.2 L940.8,1099.7 L939.8,1099.5 L938.8,1101 L937.8,1100.5 L935.9,1098.4 L934.9,1099 L933.9,1100.5 L931.9,1100.7 L929.9,1100.1 L928.9,1100.6 L926,1098.8 L925,1099.2 L924,1098.7 L922,1096.5 L921,1097.1 L920,1097 L919,1098.4 L918,1098.5 L917,1099.1 L915.1,1098.2 L914.1,1099.2 L912.1,1097.7 L911.1,1095.8 L909.1,1097.6 L908.1,1097.7 L906.1,1094.8 L905.1,1095 L904.2,1095.9 L901.2,1096.8 L899.2,1094.3 L898.2,1094 L896.2,1094.6 L894.2,1094.3 L892.3,1092.6 L890.3,1094.2 L889.3,1093.9 L887.3,1091.1 L886.3,1090.8 L885.3,1091.2 L883.3,1089.6 L882.3,1088.2 L879.4,1090.4 L877.4,1088.2 L874.4,1088.5 L873.4,1086.8 L871.4,1085.2 L868.5,1084.3 L865.5,1080.2 L864.5,1079.8 L863.5,1078.6 L859.6,1078.2 L858.6,1077.4 L857.6,1075.3 L855.6,1073 L854.7,1072.5 L851.7,1066.9 L850.7,1065.7 L849.7,1065.7 L848.8,1063.9 L847.8,1063.1 L844.9,1056.6 L843,1054.6 L840.1,1046.9 L839.2,1045.9 L835.5,1034.6 L825.4,993.7Z" fill="#000"/><path d="M825.4,989 L835.5,1029.9 L839.2,1041.2 L840.1,1042.2 L843,1049.9 L844.9,1051.9 L847.8,1058.4 L848.8,1059.2 L849.7,1061 L850.7,1061 L851.7,1062.2 L854.7,1067.8 L855.6,1068.3 L857.6,1070.6 L858.6,1072.7 L859.6,1073.5 L863.5,1073.9 L864.5,1075.1 L865.5,1075.5 L868.5,1079.6 L871.4,1080.5 L873.4,1082.1 L874.4,1083.8 L877.4,1083.5 L879.4,1085.7 L882.3,1083.5 L883.3,1084.9 L885.3,1086.5 L886.3,1086.1 L887.3,1086.4 L889.3,1089.2 L890.3,1089.5 L892.3,1087.9 L894.2,1089.6 L896.2,1089.9 L898.2,1089.3 L899.2,1089.6 L901.2,1092.1 L904.2,1091.2 L905.1,1090.3 L906.1,1090.1 L908.1,1093 L909.1,1092.9 L911.1,1091.1 L912.1,1093 L914.1,1094.5 L915.1,1093.5 L917,1094.4 L918,1093.8 L919,1093.7 L920,1092.3 L921,1092.4 L922,1091.8 L924,1094 L925,1094.5 L926,1094.1 L928.9,1095.9 L929.9,1095.4 L931.9,1096 L933.9,1095.8 L934.9,1094.3 L935.9,1093.7 L937.8,1095.8 L938.8,1096.3 L939.8,1094.8 L940.8,1095 L941.8,1094.5 L943.8,1094.2 L947.7,1095.8 L948.7,1095.5 L949.7,1095.9 L950.7,1095 L952.7,1094.3 L954.6,1096.1 L955.6,1095.5 L958.6,1095.4 L959.6,1094.9 L960.6,1093.6 L963.5,1096.8 L965.5,1094.6 L966.5,1094.4 L967.5,1094.5 L968.5,1095.3 L970.5,1095.2 L972.4,1095.9 L975.4,1095.5" fill="none" stroke="#000" stroke-width="4" stroke-linejoin="round"/><g fill="none" stroke="#666" stroke-width="1.5"><circle cx="835.2" cy="1026.3" r="3.4"/><circle cx="846.4" cy="1057.3" r="3.4"/><circle cx="857" cy="1072.8" r="3.4"/><circle cx="866.9" cy="1074.3" r="3.4"/><circle cx="877.3" cy="1089.4" r="3.4"/><circle cx="944.2" cy="1099.1" r="3.4"/></g><path d="M117,1167 L119,1167.7 L121,1167.9 L126,1166.2 L127,1167.1 L129,1168 L130,1166.1 L131,1166 L132,1165.2 L133,1166 L136,1162.6 L138,1163.7 L141,1163.6 L142,1163.1 L143,1161.4 L145,1161.8 L146,1162.8 L147,1162 L149,1161.3 L150,1161.3 L152,1160 L154,1161.4 L157,1161.7 L160,1160 L161,1160.4 L163.9,1159.5 L165.9,1159.6 L170.9,1157.3 L171.9,1158.5 L172.9,1157.6 L173.9,1157.8 L174.9,1156.6 L175.9,1158.1 L176.9,1156.6 L177.9,1156.7 L178.9,1155.4 L179.9,1155.7 L180.9,1155.2 L183.9,1157.9 L185.9,1156.5 L187.9,1156.3 L188.9,1157.2 L189.9,1156.1 L190.9,1156.6 L191.9,1155.8 L192.9,1156.1 L193.9,1155.1 L194.9,1154.9 L195.9,1154.8 L196.9,1155.6 L198.9,1156.1 L199.9,1155.5 L200.9,1153.8 L202.9,1155.4 L203.9,1157.3 L204.9,1156.1 L206.9,1155.9 L207.9,1156.5 L210.9,1153 L211.9,1153.3 L214.9,1152.1 L215.9,1152.4 L216.9,1152.2 L217.9,1150.5 L218.8,1149.9 L220.8,1150.2 L221.8,1149.9 L222.8,1148.9 L223.8,1149.6 L224.7,1149.5 L225.7,1150.5 L226.7,1149.3 L227.7,1150 L228.7,1148.4 L229.7,1148.4 L230.7,1146.2 L232.6,1148.1 L233.6,1147.6 L235.6,1145.1 L236.6,1145.8 L240.5,1142.7 L242.5,1142.5 L245.5,1140.9 L246.5,1142.1 L247.5,1142.4 L249.5,1140.8 L251.5,1140.5 L253.5,1139.4 L254.5,1138.2 L256.5,1137 L258.5,1137.8 L260.5,1137 L263.5,1134 L264.5,1134.7 L267.5,1134.4 L269.5,1134.8 L275.5,1132.7 L276.5,1132.7 L279.4,1129.6 L280.4,1129.6 L281.4,1131.2 L282.4,1130.7 L283.4,1130 L284.4,1128.3 L285.4,1127.7 L286.4,1126.4 L292.3,1121.6 L293.3,1119.7 L300.1,1112.3 L301.1,1110.4 L302.1,1110.2 L303.1,1108.6 L304.1,1108.3 L305.1,1106.9 L307.1,1107.7 L308.1,1107.6 L309.1,1107.4 L311.1,1105.5 L313.1,1106.1 L314.1,1105.3 L316.1,1102.3 L317.1,1103 L318,1102.2 L319,1102.2 L320,1101.4 L321,1101.5 L323.9,1103.2 L325.9,1103.7 L326.8,1102.1 L327.8,1102.3 L328.8,1101.8 L329.8,1102.9 L331.7,1103 L332.7,1104 L335.6,1105.1 L338.6,1107.2 L340.5,1108.1 L342.5,1110.8 L344.4,1111.8 L345.4,1112.9 L346.4,1115.8 L348.3,1119.2 L349.3,1119.6 L351.2,1122.2 L353.1,1126.2 L356,1134.4 L357,1135.6 L358,1136.1 L361,1139.1 L364,1140.9 L365,1142.3 L366,1142.9 L368,1141.8 L369,1141.8 L372,1146.5 L373,1146.2 L373.9,1147.4 L374.9,1147.8 L377.8,1151.5 L379.8,1151.8 L381.8,1153.5 L382.7,1153.8 L383.7,1153.5 L384.7,1152.5 L386.6,1154 L387.6,1155.8 L389.6,1157 L392.5,1155.9 L395.4,1159.8 L397.4,1158 L398.4,1158 L399.3,1158.9 L402.3,1158.9 L403.3,1160.5 L404.3,1159.9 L406.3,1161.1 L407.3,1160.9 L410.3,1163.7 L411.3,1162.3 L413.3,1163.2 L414.3,1164.3 L417.3,1163 L419.3,1163.1 L422.3,1166.9 L423.3,1167.1 L424.3,1166.5 L425.3,1164.8 L426.3,1164.6 L427.3,1165.1 L428.3,1166.3 L429.3,1166.3 L432.3,1164 L433.3,1164.5 L434.3,1164.2 L435.3,1164.8 L436.3,1163.3 L438.2,1163.1 L441.2,1163.4 L443.1,1162.2 L445,1162.2 L448,1158.7 L448.9,1161.1 L449.9,1160.6 L450.9,1161.4 L451.8,1160.3 L453.8,1159.9 L454.7,1160.4 L455.7,1158.8 L456.7,1158.8 L457.7,1157 L458.6,1157.7 L459.6,1157.5 L460.6,1158.8 L462.5,1156.7 L466.3,1156.5 L469.2,1154 L473,1155.4 L474,1154.4 L474.9,1155.3 L475.9,1154.7 L476.9,1154.8 L477.9,1153.7 L478.9,1155.1 L480.8,1156.8 L481.8,1156.4 L482.8,1156.8 L483.8,1156.2 L484.8,1156.8 L485.7,1156.7 L486.7,1157.4 L487.7,1155.6 L489.7,1156.1 L490.7,1157.8 L493.6,1160.2 L496.6,1161 L498.5,1160.4 L499.5,1160.8 L501.5,1162.5 L502.5,1162.9 L503.4,1162.7 L505.4,1164 L508.3,1169 L510.2,1168.1 L512.2,1170 L514.1,1170.3 L515.1,1172.2 L517,1174.4 L518,1174.3 L520.9,1176 L521.9,1175.5 L523.8,1175.3 L524.8,1176.2 L525.8,1176.3 L528.6,1175.9 L530.6,1178.2 L531.5,1178.6 L533.5,1177.5 L534.4,1177.7 L535.4,1177 L539.2,1179.3 L541.2,1179.5 L542.1,1178.8 L544,1179.3 L545,1179 L549.9,1180.1 L550.9,1180.7 L552.9,1179.6 L554.9,1179.6 L555.8,1180.8 L557.8,1181.6 L560.8,1180.9 L561.8,1179.9 L562.7,1180 L564.7,1179.4 L566.7,1178 L569.7,1181 L571.7,1181.8 L573.7,1179.9 L575.7,1179.5 L578.7,1182.6 L579.7,1181.9 L581.7,1181.7 L582.7,1182.3 L583.7,1181.8 L584.7,1182 L585.7,1181 L586.7,1181.8 L589.7,1181.8 L590.7,1180.7 L591.7,1181.5 L592.7,1180.6 L593.7,1181.3 L594.7,1181.5 L595.7,1182.5 L596.7,1182.4 L598.7,1180.6 L599.7,1180.4 L600.7,1181 L601.6,1179.6 L602.6,1179.9 L603.6,1179.4 L604.6,1180.7 L606.6,1179.4 L607.6,1179.3 L609.5,1180.3 L611.5,1178.5 L613.5,1178.7 L615.5,1177.9 L616.5,1178.4 L618.4,1178.3 L619.4,1177.2 L621.4,1177.4 L624.4,1175.2 L627.3,1176.5 L628.3,1176.1 L629.3,1174.7 L630.3,1174.5 L631.3,1174.6 L632.3,1175.8 L634.2,1175.2 L635.2,1174.3 L636.2,1175.1 L638.2,1175.1 L639.2,1173.4 L640.2,1172.7 L643.2,1173.2 L644.1,1172.3 L646.1,1172.7 L647.1,1173.7 L652.1,1171.5 L655,1171.9 L656,1170.6 L659,1173.2 L660,1171.8 L662,1170.1 L664,1170.3 L665,1169.1 L667,1170 L669.9,1167.5 L670.9,1168.8 L673.9,1168.5 L674.9,1169.9 L675.9,1169.8 L676.8,1170.2 L677.8,1168.9 L678.8,1169.4 L682.8,1165.3 L683.7,1165.4 L684.7,1166.1 L685.7,1165.8 L690.7,1162.4 L691.6,1162.8 L692.6,1162.6 L694.6,1163.7 L696.6,1162.6 L697.6,1162.5 L699.5,1163.2 L702.5,1160.5 L703.5,1159 L705.5,1158.7 L706.5,1160.2 L707.5,1160.6 L708.5,1160.4 L710.5,1158 L713.5,1157.3 L714.5,1155.6 L715.5,1154.9 L716.5,1154.9 L717.5,1156.4 L719.5,1157.9 L720.5,1157.5 L725.5,1150.8 L727.5,1151.1 L730.5,1148.4 L731.5,1148.4 L732.5,1147.9 L734.5,1145.7 L735.4,1143.3 L736.4,1143 L737.4,1142 L738.4,1142.4 L739.4,1141.2 L742.3,1140.5 L745.3,1135.9 L749.2,1131.2 L750.2,1128.8 L752.2,1126.5 L753.2,1126.3 L755.2,1124.3 L758.1,1116.4 L761.1,1113.2 L762.9,1107.1 L764.7,1103.9 L768.2,1094.7 L768.2,1104.1 L764.7,1113.3 L762.9,1116.5 L761.1,1122.6 L758.1,1125.8 L755.2,1133.7 L753.2,1135.7 L752.2,1135.9 L750.2,1138.2 L749.2,1140.6 L745.3,1145.3 L742.3,1149.9 L739.4,1150.6 L738.4,1151.8 L737.4,1151.4 L736.4,1152.4 L735.4,1152.7 L734.5,1155.1 L732.5,1157.3 L731.5,1157.8 L730.5,1157.8 L727.5,1160.5 L725.5,1160.2 L720.5,1166.9 L719.5,1167.3 L717.5,1165.8 L716.5,1164.3 L715.5,1164.3 L714.5,1165 L713.5,1166.7 L710.5,1167.4 L708.5,1169.8 L707.5,1170 L706.5,1169.6 L705.5,1168.1 L703.5,1168.4 L702.5,1169.9 L699.5,1172.6 L697.6,1171.9 L696.6,1172 L694.6,1173.1 L692.6,1172 L691.6,1172.2 L690.7,1171.8 L685.7,1175.2 L684.7,1175.5 L683.7,1174.8 L682.8,1174.7 L678.8,1178.8 L677.8,1178.3 L676.8,1179.6 L675.9,1179.2 L674.9,1179.3 L673.9,1177.9 L670.9,1178.2 L669.9,1176.9 L667,1179.4 L665,1178.5 L664,1179.7 L662,1179.5 L660,1181.2 L659,1182.6 L656,1180 L655,1181.3 L652.1,1180.9 L647.1,1183.1 L646.1,1182.1 L644.1,1181.7 L643.2,1182.6 L640.2,1182.1 L639.2,1182.8 L638.2,1184.5 L636.2,1184.5 L635.2,1183.7 L634.2,1184.6 L632.3,1185.2 L631.3,1184 L630.3,1183.9 L629.3,1184.1 L628.3,1185.5 L627.3,1185.9 L624.4,1184.6 L621.4,1186.8 L619.4,1186.6 L618.4,1187.7 L616.5,1187.8 L615.5,1187.3 L613.5,1188.1 L611.5,1187.9 L609.5,1189.7 L607.6,1188.7 L606.6,1188.8 L604.6,1190.1 L603.6,1188.8 L602.6,1189.3 L601.6,1189 L600.7,1190.4 L599.7,1189.8 L598.7,1190 L596.7,1191.8 L595.7,1191.9 L594.7,1190.9 L593.7,1190.7 L592.7,1190 L591.7,1190.9 L590.7,1190.1 L589.7,1191.2 L586.7,1191.2 L585.7,1190.4 L584.7,1191.4 L583.7,1191.2 L582.7,1191.7 L581.7,1191.1 L579.7,1191.3 L578.7,1192 L575.7,1188.9 L573.7,1189.3 L571.7,1191.2 L569.7,1190.4 L566.7,1187.4 L564.7,1188.8 L562.7,1189.4 L561.8,1189.3 L560.8,1190.3 L557.8,1191 L555.8,1190.2 L554.9,1189 L552.9,1189 L550.9,1190.1 L549.9,1189.5 L545,1188.4 L544,1188.7 L542.1,1188.2 L541.2,1188.9 L539.2,1188.7 L535.4,1186.4 L534.4,1187.1 L533.5,1186.9 L531.5,1188 L530.6,1187.6 L528.6,1185.3 L525.8,1185.7 L524.8,1185.6 L523.8,1184.7 L521.9,1184.9 L520.9,1185.4 L518,1183.7 L517,1183.8 L515.1,1181.6 L514.1,1179.7 L512.2,1179.4 L510.2,1177.5 L508.3,1178.4 L505.4,1173.4 L503.4,1172.1 L502.5,1172.3 L501.5,1171.9 L499.5,1170.2 L498.5,1169.8 L496.6,1170.4 L493.6,1169.6 L490.7,1167.2 L489.7,1165.5 L487.7,1165 L486.7,1166.8 L485.7,1166.1 L484.8,1166.2 L483.8,1165.6 L482.8,1166.2 L481.8,1165.8 L480.8,1166.2 L478.9,1164.5 L477.9,1163.1 L476.9,1164.2 L475.9,1164.1 L474.9,1164.7 L474,1163.8 L473,1164.8 L469.2,1163.4 L466.3,1165.9 L462.5,1166.1 L460.6,1168.2 L459.6,1166.9 L458.6,1167.1 L457.7,1166.4 L456.7,1168.2 L455.7,1168.2 L454.7,1169.8 L453.8,1169.3 L451.8,1169.7 L450.9,1170.8 L449.9,1170 L448.9,1170.5 L448,1168.1 L445,1171.6 L443.1,1171.6 L441.2,1172.8 L438.2,1172.5 L436.3,1172.7 L435.3,1174.2 L434.3,1173.6 L433.3,1173.9 L432.3,1173.4 L429.3,1175.7 L428.3,1175.7 L427.3,1174.5 L426.3,1174 L425.3,1174.2 L424.3,1175.9 L423.3,1176.5 L422.3,1176.3 L419.3,1172.5 L417.3,1172.4 L414.3,1173.7 L413.3,1172.6 L411.3,1171.7 L410.3,1173.1 L407.3,1170.3 L406.3,1170.5 L404.3,1169.3 L403.3,1169.9 L402.3,1168.3 L399.3,1168.3 L398.4,1167.4 L397.4,1167.4 L395.4,1169.2 L392.5,1165.3 L389.6,1166.4 L387.6,1165.2 L386.6,1163.4 L384.7,1161.9 L383.7,1162.9 L382.7,1163.2 L381.8,1162.9 L379.8,1161.2 L377.8,1160.9 L374.9,1157.2 L373.9,1156.8 L373,1155.6 L372,1155.9 L369,1151.2 L368,1151.2 L366,1152.3 L365,1151.7 L364,1150.3 L361,1148.5 L358,1145.5 L357,1145 L356,1143.8 L353.1,1135.6 L351.2,1131.6 L349.3,1129 L348.3,1128.6 L346.4,1125.2 L345.4,1122.3 L344.4,1121.2 L342.5,1120.2 L340.5,1117.5 L338.6,1116.6 L335.6,1114.5 L332.7,1113.4 L331.7,1112.4 L329.8,1112.3 L328.8,1111.2 L327.8,1111.7 L326.8,1111.5 L325.9,1113.1 L323.9,1112.6 L321,1110.9 L320,1110.8 L319,1111.6 L318,1111.6 L317.1,1112.4 L316.1,1111.7 L314.1,1114.7 L313.1,1115.5 L311.1,1114.9 L309.1,1116.8 L308.1,1117 L307.1,1117.1 L305.1,1116.3 L304.1,1117.7 L303.1,1118 L302.1,1119.6 L301.1,1119.8 L300.1,1121.7 L293.3,1129.1 L292.3,1131 L286.4,1135.8 L285.4,1137.1 L284.4,1137.7 L283.4,1139.4 L282.4,1140.1 L281.4,1140.6 L280.4,1139 L279.4,1139 L276.5,1142.1 L275.5,1142.1 L269.5,1144.2 L267.5,1143.8 L264.5,1144.1 L263.5,1143.4 L260.5,1146.4 L258.5,1147.2 L256.5,1146.4 L254.5,1147.6 L253.5,1148.8 L251.5,1149.9 L249.5,1150.2 L247.5,1151.8 L246.5,1151.5 L245.5,1150.3 L242.5,1151.9 L240.5,1152.1 L236.6,1155.2 L235.6,1154.5 L233.6,1157 L232.6,1157.5 L230.7,1155.6 L229.7,1157.8 L228.7,1157.8 L227.7,1159.4 L226.7,1158.7 L225.7,1159.9 L224.7,1158.9 L223.8,1159 L222.8,1158.3 L221.8,1159.3 L220.8,1159.6 L218.8,1159.3 L217.9,1159.9 L216.9,1161.6 L215.9,1161.8 L214.9,1161.5 L211.9,1162.7 L210.9,1162.4 L207.9,1165.9 L206.9,1165.3 L204.9,1165.5 L203.9,1166.7 L202.9,1164.8 L200.9,1163.2 L199.9,1164.9 L198.9,1165.5 L196.9,1165 L195.9,1164.2 L194.9,1164.3 L193.9,1164.5 L192.9,1165.5 L191.9,1165.2 L190.9,1166 L189.9,1165.5 L188.9,1166.6 L187.9,1165.7 L185.9,1165.9 L183.9,1167.3 L180.9,1164.6 L179.9,1165.1 L178.9,1164.8 L177.9,1166.1 L176.9,1166 L175.9,1167.5 L174.9,1166 L173.9,1167.2 L172.9,1167 L171.9,1167.9 L170.9,1166.7 L165.9,1169 L163.9,1168.9 L161,1169.8 L160,1169.4 L157,1171.1 L154,1170.8 L152,1169.4 L150,1170.7 L149,1170.7 L147,1171.4 L146,1172.2 L145,1171.2 L143,1170.8 L142,1172.5 L141,1173 L138,1173.1 L136,1172 L133,1175.4 L132,1174.6 L131,1175.4 L130,1175.5 L129,1177.4 L127,1176.5 L126,1175.6 L121,1177.3 L119,1177.1 L117,1176.4Z" fill="#000"/><path d="M117,1171.7 L119,1172.4 L121,1172.6 L126,1170.9 L127,1171.8 L129,1172.7 L130,1170.8 L131,1170.7 L132,1169.9 L133,1170.7 L136,1167.3 L138,1168.4 L141,1168.3 L142,1167.8 L143,1166.1 L145,1166.5 L146,1167.5 L147,1166.7 L149,1166 L150,1166 L152,1164.7 L154,1166.1 L157,1166.4 L160,1164.7 L161,1165.1 L163.9,1164.2 L165.9,1164.3 L170.9,1162 L171.9,1163.2 L172.9,1162.3 L173.9,1162.5 L174.9,1161.3 L175.9,1162.8 L176.9,1161.3 L177.9,1161.4 L178.9,1160.1 L179.9,1160.4 L180.9,1159.9 L183.9,1162.6 L185.9,1161.2 L187.9,1161 L188.9,1161.9 L189.9,1160.8 L190.9,1161.3 L191.9,1160.5 L192.9,1160.8 L193.9,1159.8 L194.9,1159.6 L195.9,1159.5 L196.9,1160.3 L198.9,1160.8 L199.9,1160.2 L200.9,1158.5 L202.9,1160.1 L203.9,1162 L204.9,1160.8 L206.9,1160.6 L207.9,1161.2 L210.9,1157.7 L211.9,1158 L214.9,1156.8 L215.9,1157.1 L216.9,1156.9 L217.9,1155.2 L218.8,1154.6 L220.8,1154.9 L221.8,1154.6 L222.8,1153.6 L223.8,1154.3 L224.7,1154.2 L225.7,1155.2 L226.7,1154 L227.7,1154.7 L228.7,1153.1 L229.7,1153.1 L230.7,1150.9 L232.6,1152.8 L233.6,1152.3 L235.6,1149.8 L236.6,1150.5 L240.5,1147.4 L242.5,1147.2 L245.5,1145.6 L246.5,1146.8 L247.5,1147.1 L249.5,1145.5 L251.5,1145.2 L253.5,1144.1 L254.5,1142.9 L256.5,1141.7 L258.5,1142.5 L260.5,1141.7 L263.5,1138.7 L264.5,1139.4 L267.5,1139.1 L269.5,1139.5 L275.5,1137.4 L276.5,1137.4 L279.4,1134.3 L280.4,1134.3 L281.4,1135.9 L282.4,1135.4 L283.4,1134.7 L284.4,1133 L285.4,1132.4 L286.4,1131.1 L292.3,1126.3 L293.3,1124.4 L300.1,1117 L301.1,1115.1 L302.1,1114.9 L303.1,1113.3 L304.1,1113 L305.1,1111.6 L307.1,1112.4 L308.1,1112.3 L309.1,1112.1 L311.1,1110.2 L313.1,1110.8 L314.1,1110 L316.1,1107 L317.1,1107.7 L318,1106.9 L319,1106.9 L320,1106.1 L321,1106.2 L323.9,1107.9 L325.9,1108.4 L326.8,1106.8 L327.8,1107 L328.8,1106.5 L329.8,1107.6 L331.7,1107.7 L332.7,1108.7 L335.6,1109.8 L338.6,1111.9 L340.5,1112.8 L342.5,1115.5 L344.4,1116.5 L345.4,1117.6 L346.4,1120.5 L348.3,1123.9 L349.3,1124.3 L351.2,1126.9 L353.1,1130.9 L356,1139.1 L357,1140.3 L358,1140.8 L361,1143.8 L364,1145.6 L365,1147 L366,1147.6 L368,1146.5 L369,1146.5 L372,1151.2 L373,1150.9 L373.9,1152.1 L374.9,1152.5 L377.8,1156.2 L379.8,1156.5 L381.8,1158.2 L382.7,1158.5 L383.7,1158.2 L384.7,1157.2 L386.6,1158.7 L387.6,1160.5 L389.6,1161.7 L392.5,1160.6 L395.4,1164.5 L397.4,1162.7 L398.4,1162.7 L399.3,1163.6 L402.3,1163.6 L403.3,1165.2 L404.3,1164.6 L406.3,1165.8 L407.3,1165.6 L410.3,1168.4 L411.3,1167 L413.3,1167.9 L414.3,1169 L417.3,1167.7 L419.3,1167.8 L422.3,1171.6 L423.3,1171.8 L424.3,1171.2 L425.3,1169.5 L426.3,1169.3 L427.3,1169.8 L428.3,1171 L429.3,1171 L432.3,1168.7 L433.3,1169.2 L434.3,1168.9 L435.3,1169.5 L436.3,1168 L438.2,1167.8 L441.2,1168.1 L443.1,1166.9 L445,1166.9 L448,1163.4 L448.9,1165.8 L449.9,1165.3 L450.9,1166.1 L451.8,1165 L453.8,1164.6 L454.7,1165.1 L455.7,1163.5 L456.7,1163.5 L457.7,1161.7 L458.6,1162.4 L459.6,1162.2 L460.6,1163.5 L462.5,1161.4 L466.3,1161.2 L469.2,1158.7 L473,1160.1 L474,1159.1 L474.9,1160 L475.9,1159.4 L476.9,1159.5 L477.9,1158.4 L478.9,1159.8 L480.8,1161.5 L481.8,1161.1 L482.8,1161.5 L483.8,1160.9 L484.8,1161.5 L485.7,1161.4 L486.7,1162.1 L487.7,1160.3 L489.7,1160.8 L490.7,1162.5 L493.6,1164.9 L496.6,1165.7 L498.5,1165.1 L499.5,1165.5 L501.5,1167.2 L502.5,1167.6 L503.4,1167.4 L505.4,1168.7 L508.3,1173.7 L510.2,1172.8 L512.2,1174.7 L514.1,1175 L515.1,1176.9 L517,1179.1 L518,1179 L520.9,1180.7 L521.9,1180.2 L523.8,1180 L524.8,1180.9 L525.8,1181 L528.6,1180.6 L530.6,1182.9 L531.5,1183.3 L533.5,1182.2 L534.4,1182.4 L535.4,1181.7 L539.2,1184 L541.2,1184.2 L542.1,1183.5 L544,1184 L545,1183.7 L549.9,1184.8 L550.9,1185.4 L552.9,1184.3 L554.9,1184.3 L555.8,1185.5 L557.8,1186.3 L560.8,1185.6 L561.8,1184.6 L562.7,1184.7 L564.7,1184.1 L566.7,1182.7 L569.7,1185.7 L571.7,1186.5 L573.7,1184.6 L575.7,1184.2 L578.7,1187.3 L579.7,1186.6 L581.7,1186.4 L582.7,1187 L583.7,1186.5 L584.7,1186.7 L585.7,1185.7 L586.7,1186.5 L589.7,1186.5 L590.7,1185.4 L591.7,1186.2 L592.7,1185.3 L593.7,1186 L594.7,1186.2 L595.7,1187.2 L596.7,1187.1 L598.7,1185.3 L599.7,1185.1 L600.7,1185.7 L601.6,1184.3 L602.6,1184.6 L603.6,1184.1 L604.6,1185.4 L606.6,1184.1 L607.6,1184 L609.5,1185 L611.5,1183.2 L613.5,1183.4 L615.5,1182.6 L616.5,1183.1 L618.4,1183 L619.4,1181.9 L621.4,1182.1 L624.4,1179.9 L627.3,1181.2 L628.3,1180.8 L629.3,1179.4 L630.3,1179.2 L631.3,1179.3 L632.3,1180.5 L634.2,1179.9 L635.2,1179 L636.2,1179.8 L638.2,1179.8 L639.2,1178.1 L640.2,1177.4 L643.2,1177.9 L644.1,1177 L646.1,1177.4 L647.1,1178.4 L652.1,1176.2 L655,1176.6 L656,1175.3 L659,1177.9 L660,1176.5 L662,1174.8 L664,1175 L665,1173.8 L667,1174.7 L669.9,1172.2 L670.9,1173.5 L673.9,1173.2 L674.9,1174.6 L675.9,1174.5 L676.8,1174.9 L677.8,1173.6 L678.8,1174.1 L682.8,1170 L683.7,1170.1 L684.7,1170.8 L685.7,1170.5 L690.7,1167.1 L691.6,1167.5 L692.6,1167.3 L694.6,1168.4 L696.6,1167.3 L697.6,1167.2 L699.5,1167.9 L702.5,1165.2 L703.5,1163.7 L705.5,1163.4 L706.5,1164.9 L707.5,1165.3 L708.5,1165.1 L710.5,1162.7 L713.5,1162 L714.5,1160.3 L715.5,1159.6 L716.5,1159.6 L717.5,1161.1 L719.5,1162.6 L720.5,1162.2 L725.5,1155.5 L727.5,1155.8 L730.5,1153.1 L731.5,1153.1 L732.5,1152.6 L734.5,1150.4 L735.4,1148 L736.4,1147.7 L737.4,1146.7 L738.4,1147.1 L739.4,1145.9 L742.3,1145.2 L745.3,1140.6 L749.2,1135.9 L750.2,1133.5 L752.2,1131.2 L753.2,1131 L755.2,1129 L758.1,1121.1 L761.1,1117.9 L762.9,1111.8 L764.7,1108.6 L768.2,1099.4" fill="none" stroke="#000" stroke-width="4" stroke-linejoin="round"/><g fill="none" stroke="#666" stroke-width="1.5"><circle cx="128.4" cy="1176.9" r="3.4"/><circle cx="160.1" cy="1161.4" r="3.4"/><circle cx="181.8" cy="1158.4" r="3.4"/><circle cx="215.8" cy="1160.8" r="3.4"/><circle cx="226.7" cy="1151" r="3.4"/><circle cx="258.4" cy="1138.7" r="3.4"/><circle cx="270.5" cy="1142.8" r="3.4"/><circle cx="303.7" cy="1108.6" r="3.4"/><circle cx="345.7" cy="1115.8" r="3.4"/><circle cx="379.6" cy="1160.6" r="3.4"/><circle cx="400.5" cy="1167.2" r="3.4"/><circle cx="496.7" cy="1169.4" r="3.4"/><circle cx="509.1" cy="1169.5" r="3.4"/><circle cx="519.6" cy="1184.1" r="3.4"/><circle cx="552.2" cy="1181.3" r="3.4"/><circle cx="561.3" cy="1188.3" r="3.4"/><circle cx="584.8" cy="1181.9" r="3.4"/><circle cx="593.7" cy="1190.3" r="3.4"/><circle cx="625.9" cy="1177.4" r="3.4"/><circle cx="638.5" cy="1176.4" r="3.4"/><circle cx="682.7" cy="1175.1" r="3.4"/><circle cx="691.9" cy="1163.1" r="3.4"/><circle cx="714" cy="1156" r="3.4"/><circle cx="726" cy="1158.9" r="3.4"/><circle cx="758.5" cy="1126.1" r="3.4"/><circle cx="769.5" cy="1096.3" r="3.4"/></g><path d="M823,1096.1 L824.8,1103.3 L827.4,1111 L831.1,1124.9 L835.9,1135.5 L838.7,1144.5 L839.7,1145.6 L840.7,1145.8 L844.7,1153.5 L846.6,1155.3 L852.6,1164.7 L855.6,1170.3 L856.6,1171 L859.5,1171.2 L860.5,1173.1 L862.5,1174.8 L863.5,1174.1 L867.5,1176.4 L869.5,1176.2 L870.4,1177.9 L871.4,1178.4 L872.4,1179.9 L873.4,1178.9 L874.4,1179.5 L875.4,1179.4 L876.4,1180.4 L879.4,1181.8 L880.4,1183.6 L881.4,1183.1 L882.3,1183.5 L883.3,1183.1 L884.3,1183.9 L887.3,1184.4 L888.3,1185.1 L889.3,1184.3 L890.3,1184.3 L891.3,1183.7 L894.2,1186.7 L895.2,1186.5 L897.2,1184.4 L900.2,1186.4 L902.2,1185.9 L905.1,1187.1 L907.1,1187.3 L908.1,1188.2 L911.1,1186.6 L915.1,1187.7 L916.1,1189.1 L920.1,1188.8 L922.1,1190 L925.1,1190.8 L926.1,1191.5 L927.1,1190.1 L928.1,1190.8 L930.1,1191 L931.1,1190.5 L932.1,1191.1 L933.1,1192.6 L934.1,1192.1 L935.1,1190.7 L936.1,1190.5 L938.1,1193.1 L939.1,1192.9 L940.1,1191.6 L944.1,1190.9 L947.1,1191.5 L948.1,1190.9 L950.1,1192.9 L953.1,1193.3 L954.1,1194.1 L955.1,1194 L957.1,1192.3 L959.1,1192 L960.1,1193.5 L962.1,1195.3 L963.1,1194.4 L964.1,1195.5 L966.1,1195 L967.1,1193.8 L969.1,1195.2 L971.1,1194.4 L972.1,1194.5 L973.1,1195.7 L973.1,1205.1 L972.1,1203.9 L971.1,1203.8 L969.1,1204.6 L967.1,1203.2 L966.1,1204.4 L964.1,1204.9 L963.1,1203.8 L962.1,1204.7 L960.1,1202.9 L959.1,1201.4 L957.1,1201.7 L955.1,1203.4 L954.1,1203.5 L953.1,1202.7 L950.1,1202.3 L948.1,1200.3 L947.1,1200.9 L944.1,1200.3 L940.1,1201 L939.1,1202.3 L938.1,1202.5 L936.1,1199.9 L935.1,1200.1 L934.1,1201.5 L933.1,1202 L932.1,1200.5 L931.1,1199.9 L930.1,1200.4 L928.1,1200.2 L927.1,1199.5 L926.1,1200.9 L925.1,1200.2 L922.1,1199.4 L920.1,1198.2 L916.1,1198.5 L915.1,1197.1 L911.1,1196 L908.1,1197.6 L907.1,1196.7 L905.1,1196.5 L902.2,1195.3 L900.2,1195.8 L897.2,1193.8 L895.2,1195.9 L894.2,1196.1 L891.3,1193.1 L890.3,1193.7 L889.3,1193.7 L888.3,1194.5 L887.3,1193.8 L884.3,1193.3 L883.3,1192.5 L882.3,1192.9 L881.4,1192.5 L880.4,1193 L879.4,1191.2 L876.4,1189.8 L875.4,1188.8 L874.4,1188.9 L873.4,1188.3 L872.4,1189.3 L871.4,1187.8 L870.4,1187.3 L869.5,1185.6 L867.5,1185.8 L863.5,1183.5 L862.5,1184.2 L860.5,1182.5 L859.5,1180.6 L856.6,1180.4 L855.6,1179.7 L852.6,1174.1 L846.6,1164.7 L844.7,1162.9 L840.7,1155.2 L839.7,1155 L838.7,1153.9 L835.9,1144.9 L831.1,1134.3 L827.4,1120.4 L824.8,1112.7 L823,1105.5Z" fill="#000"/><path d="M823,1100.8 L824.8,1108 L827.4,1115.7 L831.1,1129.6 L835.9,1140.2 L838.7,1149.2 L839.7,1150.3 L840.7,1150.5 L844.7,1158.2 L846.6,1160 L852.6,1169.4 L855.6,1175 L856.6,1175.7 L859.5,1175.9 L860.5,1177.8 L862.5,1179.5 L863.5,1178.8 L867.5,1181.1 L869.5,1180.9 L870.4,1182.6 L871.4,1183.1 L872.4,1184.6 L873.4,1183.6 L874.4,1184.2 L875.4,1184.1 L876.4,1185.1 L879.4,1186.5 L880.4,1188.3 L881.4,1187.8 L882.3,1188.2 L883.3,1187.8 L884.3,1188.6 L887.3,1189.1 L888.3,1189.8 L889.3,1189 L890.3,1189 L891.3,1188.4 L894.2,1191.4 L895.2,1191.2 L897.2,1189.1 L900.2,1191.1 L902.2,1190.6 L905.1,1191.8 L907.1,1192 L908.1,1192.9 L911.1,1191.3 L915.1,1192.4 L916.1,1193.8 L920.1,1193.5 L922.1,1194.7 L925.1,1195.5 L926.1,1196.2 L927.1,1194.8 L928.1,1195.5 L930.1,1195.7 L931.1,1195.2 L932.1,1195.8 L933.1,1197.3 L934.1,1196.8 L935.1,1195.4 L936.1,1195.2 L938.1,1197.8 L939.1,1197.6 L940.1,1196.3 L944.1,1195.6 L947.1,1196.2 L948.1,1195.6 L950.1,1197.6 L953.1,1198 L954.1,1198.8 L955.1,1198.7 L957.1,1197 L959.1,1196.7 L960.1,1198.2 L962.1,1200 L963.1,1199.1 L964.1,1200.2 L966.1,1199.7 L967.1,1198.5 L969.1,1199.9 L971.1,1199.1 L972.1,1199.2 L973.1,1200.4" fill="none" stroke="#000" stroke-width="4" stroke-linejoin="round"/><g fill="none" stroke="#666" stroke-width="1.5"><circle cx="845.1" cy="1151.9" r="3.4"/><circle cx="853.6" cy="1177" r="3.4"/><circle cx="875" cy="1188.6" r="3.4"/><circle cx="885.9" cy="1193.2" r="3.4"/><circle cx="952.6" cy="1201.7" r="3.4"/><circle cx="964.9" cy="1204.8" r="3.4"/></g><path d="M117,1255.7 L118,1255.4 L120,1255.6 L121,1256.8 L122,1256.8 L123,1256.1 L124,1253.8 L125,1254.3 L126,1253.9 L127,1256.1 L128,1256.2 L129,1257.7 L131,1256.5 L136,1255.1 L141,1255.3 L142,1256.2 L143,1256 L144,1256.9 L148,1255.3 L149,1256.6 L150,1256.5 L152,1254.5 L154,1256 L155,1256.1 L156,1254.1 L157,1253.6 L158,1253.7 L159,1255 L160,1254 L162,1253.7 L163.9,1252 L164.9,1252 L165.9,1253.9 L166.9,1254.4 L168.9,1253.4 L169.9,1253.9 L173.9,1251.7 L174.9,1252.7 L176.9,1252 L177.9,1250 L178.9,1250 L180.9,1252.2 L181.9,1251.9 L182.9,1250.8 L184.9,1250.8 L185.9,1251.8 L188.9,1250.3 L189.9,1251.3 L191.9,1252.3 L192.9,1251.4 L193.9,1251.5 L195.9,1250.2 L196.9,1250.4 L198.9,1252.3 L199.9,1252 L200.9,1250.7 L202.9,1249.9 L206.9,1250.5 L207.9,1250.2 L209.9,1251 L210.9,1250.6 L211.9,1251.1 L218.9,1248.1 L220.9,1248.8 L222.8,1248 L223.8,1246.3 L224.8,1246 L225.8,1245 L226.8,1246.6 L227.8,1246.6 L228.8,1247.3 L231.8,1244.2 L232.8,1244.1 L233.8,1245 L235.8,1245.6 L236.8,1245.2 L239.8,1241.9 L240.8,1242 L242.7,1243 L243.7,1242.6 L244.7,1240.9 L245.7,1240.4 L247.7,1240.1 L248.7,1239.5 L251.7,1236.1 L252.6,1235.8 L254.6,1236.4 L255.6,1236.1 L256.6,1236.7 L257.6,1236.1 L258.6,1236.3 L260.6,1235.8 L262.6,1233.9 L264.5,1233.6 L266.5,1231.5 L269.5,1230.5 L271.4,1229.3 L272.4,1229.4 L273.4,1228.6 L274.3,1228.9 L276.3,1226.1 L278.2,1225.7 L279.2,1226.6 L280.1,1226.2 L282.1,1224.2 L283.1,1222.3 L285,1222.6 L286,1223.7 L288.9,1221.1 L290.8,1220.2 L292.8,1217.7 L294.7,1217.8 L295.7,1217 L297.6,1213.7 L298.6,1213.8 L300.5,1212.8 L301.5,1211.4 L302.5,1211.3 L304.4,1209.9 L305.4,1208.6 L306.4,1208.7 L307.3,1207.9 L309.3,1207.9 L312.2,1204.2 L313.2,1204.5 L317,1202.6 L319,1202.4 L319.9,1202.8 L320.9,1204.3 L321.9,1203.9 L322.8,1204.3 L323.8,1203.5 L325.7,1203.6 L326.7,1204.1 L327.7,1205.9 L329.6,1205.4 L330.5,1204.4 L331.5,1204.8 L334.4,1207.6 L335.3,1207.8 L338.2,1211.1 L339.2,1210.6 L341.1,1212 L342,1213.3 L343,1213 L346,1217.3 L348,1217.5 L349,1218.7 L350,1221 L353,1223.6 L355,1227.6 L358,1231.5 L359,1231.5 L361,1232.7 L362,1235.2 L365,1237.1 L369,1241.2 L370,1241.5 L371,1240.8 L374,1244.1 L378.9,1247.8 L380.8,1248.7 L381.8,1247.5 L382.8,1248.6 L385.8,1248.4 L390.7,1250.6 L394.6,1248.8 L396.5,1250.3 L397.5,1251.6 L398.4,1251.2 L399.4,1251.7 L400.4,1250.1 L402.3,1249.5 L404.3,1250.2 L406.2,1249.5 L407.2,1247.9 L409.1,1248.2 L412,1246.7 L413,1247.4 L415,1247.9 L420,1247.9 L423,1245.8 L425,1246.3 L426.9,1244.9 L427.9,1243.6 L428.9,1244.2 L429.9,1243.7 L430.9,1244.3 L432.9,1244.5 L436.9,1241.6 L440.9,1241 L442.9,1239.1 L445.8,1239.9 L447.8,1237.1 L448.8,1236.5 L450.7,1237.6 L451.7,1237.5 L453.7,1236.6 L456.6,1234.3 L457.6,1235.2 L459.6,1235.3 L461.6,1234.3 L463.5,1231.8 L465.5,1233.5 L466.5,1233.7 L467.4,1233 L470.4,1235.3 L472.3,1235.4 L473.3,1234.4 L475.3,1234.3 L478.2,1237.2 L481.1,1235.8 L482,1236 L485.9,1237.9 L486.8,1239.5 L487.8,1239.4 L488.7,1239.9 L489.7,1239.7 L490.7,1241 L493.5,1243.3 L494.5,1244.8 L498.4,1247.8 L501.4,1247.6 L502.4,1249.7 L504.3,1251.8 L505.3,1251.6 L506.3,1252.1 L508.3,1253.4 L509.3,1254.6 L510.2,1254.9 L513.2,1258.6 L515.1,1257.8 L517,1260.1 L519.9,1261.1 L522.8,1265.3 L524.7,1266.3 L526.6,1265.5 L527.6,1265.9 L529.5,1267.8 L530.5,1268.1 L531.4,1267.3 L532.4,1267.8 L533.4,1267.4 L537.3,1270.6 L538.2,1269.3 L539.2,1269.8 L540.2,1269.8 L541.2,1270.6 L542.1,1270.1 L545.1,1272.5 L546,1272.2 L547,1271.2 L548.9,1270.8 L549.9,1272.5 L551.9,1274.4 L552.8,1273 L554.8,1272.7 L555.8,1273.1 L556.8,1272.8 L557.8,1273.7 L558.8,1274 L559.8,1275.4 L560.8,1274.7 L561.8,1276 L562.8,1275.4 L566.7,1275.5 L567.7,1274.3 L569.7,1275.8 L570.7,1277.5 L572.7,1276.3 L574.7,1275.6 L575.7,1276.3 L576.7,1276.3 L578.7,1275.2 L579.7,1275.2 L581.6,1276.3 L582.6,1276.2 L584.6,1277.9 L585.6,1278.2 L588.6,1277.1 L589.6,1276.1 L590.6,1277.6 L591.6,1278 L592.6,1279.8 L593.6,1277.9 L594.6,1277.9 L595.5,1277 L596.5,1277.8 L598.5,1276.8 L602.5,1276.9 L605.5,1278 L606.5,1276.8 L607.5,1276.8 L608.4,1276.2 L611.4,1277.4 L613.4,1277 L614.4,1275.7 L615.4,1276.3 L616.4,1275.4 L617.4,1276.5 L619.3,1276.2 L620.3,1276.7 L622.3,1275.6 L624.3,1273.3 L625.3,1273.8 L626.3,1273.5 L627.3,1274.6 L628.3,1274.3 L629.3,1275.1 L631.2,1274.4 L633.2,1274.7 L634.2,1275.4 L635.2,1274.9 L636.2,1275.4 L638.2,1274 L639.2,1274.4 L640.2,1274.1 L641.2,1275.4 L644.1,1273.4 L646.1,1274.7 L647.1,1274.8 L648.1,1273.4 L649.1,1272.9 L652.1,1272.7 L653.1,1271.8 L654.1,1271.6 L656,1272 L657,1273.4 L658,1272.7 L659,1272.7 L660,1271.6 L661,1271.9 L663,1271.2 L666,1268.1 L667,1267.6 L668.9,1268.9 L671.9,1268 L673.9,1269.8 L674.9,1269.3 L675.9,1267.5 L676.9,1267.1 L678.9,1267.7 L679.8,1266.7 L680.8,1266.8 L681.8,1265.7 L682.8,1266.3 L683.8,1265.9 L684.8,1266.3 L685.8,1265.3 L687.8,1264.1 L688.8,1263.8 L689.8,1264 L691.7,1262.3 L692.7,1260.3 L693.7,1259.7 L694.7,1260.4 L696.7,1261 L697.7,1260.2 L698.7,1260.7 L699.7,1260.2 L701.6,1257.8 L702.6,1257.2 L703.6,1258.2 L705.6,1258.9 L707.5,1257.7 L709.5,1258.1 L710.5,1257.9 L712.5,1254.8 L714.5,1255.1 L716.4,1254.2 L717.4,1254.2 L720.4,1250.9 L723.3,1250.8 L724.3,1249.4 L725.3,1249.9 L726.3,1249 L727.2,1248.9 L732,1244.4 L732.9,1245.2 L733.9,1243.9 L734.8,1244.6 L736.8,1243.6 L738.7,1241.2 L739.6,1241.5 L742.5,1235.1 L745.4,1234.4 L746.4,1232.3 L747.4,1231.2 L748.4,1230.5 L749.4,1230.5 L752.3,1224.3 L754.3,1221.2 L755.3,1220.5 L758.2,1215.3 L761,1207.9 L762,1206.9 L763.9,1200.4 L765.8,1196.2 L765.8,1205.6 L763.9,1209.8 L762,1216.3 L761,1217.3 L758.2,1224.7 L755.3,1229.9 L754.3,1230.6 L752.3,1233.7 L749.4,1239.9 L748.4,1239.9 L747.4,1240.6 L746.4,1241.7 L745.4,1243.8 L742.5,1244.5 L739.6,1250.9 L738.7,1250.6 L736.8,1253 L734.8,1254 L733.9,1253.3 L732.9,1254.6 L732,1253.8 L727.2,1258.3 L726.3,1258.4 L725.3,1259.3 L724.3,1258.8 L723.3,1260.2 L720.4,1260.3 L717.4,1263.6 L716.4,1263.6 L714.5,1264.5 L712.5,1264.2 L710.5,1267.3 L709.5,1267.5 L707.5,1267.1 L705.6,1268.3 L703.6,1267.6 L702.6,1266.6 L701.6,1267.2 L699.7,1269.6 L698.7,1270.1 L697.7,1269.6 L696.7,1270.4 L694.7,1269.8 L693.7,1269.1 L692.7,1269.7 L691.7,1271.7 L689.8,1273.4 L688.8,1273.2 L687.8,1273.5 L685.8,1274.7 L684.8,1275.7 L683.8,1275.3 L682.8,1275.7 L681.8,1275.1 L680.8,1276.2 L679.8,1276.1 L678.9,1277.1 L676.9,1276.5 L675.9,1276.9 L674.9,1278.7 L673.9,1279.2 L671.9,1277.4 L668.9,1278.3 L667,1277 L666,1277.5 L663,1280.6 L661,1281.3 L660,1281 L659,1282.1 L658,1282.1 L657,1282.8 L656,1281.4 L654.1,1281 L653.1,1281.2 L652.1,1282.1 L649.1,1282.3 L648.1,1282.8 L647.1,1284.2 L646.1,1284.1 L644.1,1282.8 L641.2,1284.8 L640.2,1283.5 L639.2,1283.8 L638.2,1283.4 L636.2,1284.8 L635.2,1284.3 L634.2,1284.8 L633.2,1284.1 L631.2,1283.8 L629.3,1284.5 L628.3,1283.7 L627.3,1284 L626.3,1282.9 L625.3,1283.2 L624.3,1282.7 L622.3,1285 L620.3,1286.1 L619.3,1285.6 L617.4,1285.9 L616.4,1284.8 L615.4,1285.7 L614.4,1285.1 L613.4,1286.4 L611.4,1286.8 L608.4,1285.6 L607.5,1286.2 L606.5,1286.2 L605.5,1287.4 L602.5,1286.3 L598.5,1286.2 L596.5,1287.2 L595.5,1286.4 L594.6,1287.3 L593.6,1287.3 L592.6,1289.2 L591.6,1287.4 L590.6,1287 L589.6,1285.5 L588.6,1286.5 L585.6,1287.6 L584.6,1287.3 L582.6,1285.6 L581.6,1285.7 L579.7,1284.6 L578.7,1284.6 L576.7,1285.7 L575.7,1285.7 L574.7,1285 L572.7,1285.7 L570.7,1286.9 L569.7,1285.2 L567.7,1283.7 L566.7,1284.9 L562.8,1284.8 L561.8,1285.4 L560.8,1284.1 L559.8,1284.8 L558.8,1283.4 L557.8,1283.1 L556.8,1282.2 L555.8,1282.5 L554.8,1282.1 L552.8,1282.4 L551.9,1283.8 L549.9,1281.9 L548.9,1280.2 L547,1280.6 L546,1281.6 L545.1,1281.9 L542.1,1279.5 L541.2,1280 L540.2,1279.2 L539.2,1279.2 L538.2,1278.7 L537.3,1280 L533.4,1276.8 L532.4,1277.2 L531.4,1276.7 L530.5,1277.5 L529.5,1277.2 L527.6,1275.3 L526.6,1274.9 L524.7,1275.7 L522.8,1274.7 L519.9,1270.5 L517,1269.5 L515.1,1267.2 L513.2,1268 L510.2,1264.3 L509.3,1264 L508.3,1262.8 L506.3,1261.5 L505.3,1261 L504.3,1261.2 L502.4,1259.1 L501.4,1257 L498.4,1257.2 L494.5,1254.2 L493.5,1252.7 L490.7,1250.4 L489.7,1249.1 L488.7,1249.3 L487.8,1248.8 L486.8,1248.9 L485.9,1247.3 L482,1245.4 L481.1,1245.2 L478.2,1246.6 L475.3,1243.7 L473.3,1243.8 L472.3,1244.8 L470.4,1244.7 L467.4,1242.4 L466.5,1243.1 L465.5,1242.9 L463.5,1241.2 L461.6,1243.7 L459.6,1244.7 L457.6,1244.6 L456.6,1243.7 L453.7,1246 L451.7,1246.9 L450.7,1247 L448.8,1245.9 L447.8,1246.5 L445.8,1249.3 L442.9,1248.5 L440.9,1250.4 L436.9,1251 L432.9,1253.9 L430.9,1253.7 L429.9,1253.1 L428.9,1253.6 L427.9,1253 L426.9,1254.3 L425,1255.7 L423,1255.2 L420,1257.3 L415,1257.3 L413,1256.8 L412,1256.1 L409.1,1257.6 L407.2,1257.3 L406.2,1258.9 L404.3,1259.6 L402.3,1258.9 L400.4,1259.5 L399.4,1261.1 L398.4,1260.6 L397.5,1261 L396.5,1259.7 L394.6,1258.2 L390.7,1260 L385.8,1257.8 L382.8,1258 L381.8,1256.9 L380.8,1258.1 L378.9,1257.2 L374,1253.5 L371,1250.2 L370,1250.9 L369,1250.6 L365,1246.5 L362,1244.6 L361,1242.1 L359,1240.9 L358,1240.9 L355,1237 L353,1233 L350,1230.4 L349,1228.1 L348,1226.9 L346,1226.7 L343,1222.4 L342,1222.7 L341.1,1221.4 L339.2,1220 L338.2,1220.5 L335.3,1217.2 L334.4,1217 L331.5,1214.2 L330.5,1213.8 L329.6,1214.8 L327.7,1215.3 L326.7,1213.5 L325.7,1213 L323.8,1212.9 L322.8,1213.7 L321.9,1213.3 L320.9,1213.7 L319.9,1212.2 L319,1211.8 L317,1212 L313.2,1213.9 L312.2,1213.6 L309.3,1217.3 L307.3,1217.3 L306.4,1218.1 L305.4,1218 L304.4,1219.3 L302.5,1220.7 L301.5,1220.8 L300.5,1222.2 L298.6,1223.2 L297.6,1223.1 L295.7,1226.4 L294.7,1227.2 L292.8,1227.1 L290.8,1229.6 L288.9,1230.5 L286,1233.1 L285,1232 L283.1,1231.7 L282.1,1233.6 L280.1,1235.6 L279.2,1236 L278.2,1235.1 L276.3,1235.5 L274.3,1238.3 L273.4,1238 L272.4,1238.8 L271.4,1238.7 L269.5,1239.9 L266.5,1240.9 L264.5,1243 L262.6,1243.3 L260.6,1245.2 L258.6,1245.7 L257.6,1245.5 L256.6,1246.1 L255.6,1245.5 L254.6,1245.8 L252.6,1245.2 L251.7,1245.5 L248.7,1248.9 L247.7,1249.5 L245.7,1249.8 L244.7,1250.3 L243.7,1252 L242.7,1252.4 L240.8,1251.4 L239.8,1251.3 L236.8,1254.6 L235.8,1255 L233.8,1254.4 L232.8,1253.5 L231.8,1253.6 L228.8,1256.7 L227.8,1256 L226.8,1256 L225.8,1254.4 L224.8,1255.4 L223.8,1255.7 L222.8,1257.4 L220.9,1258.2 L218.9,1257.5 L211.9,1260.5 L210.9,1260 L209.9,1260.4 L207.9,1259.6 L206.9,1259.9 L202.9,1259.3 L200.9,1260.1 L199.9,1261.4 L198.9,1261.7 L196.9,1259.8 L195.9,1259.6 L193.9,1260.9 L192.9,1260.8 L191.9,1261.7 L189.9,1260.7 L188.9,1259.7 L185.9,1261.2 L184.9,1260.2 L182.9,1260.2 L181.9,1261.3 L180.9,1261.6 L178.9,1259.4 L177.9,1259.4 L176.9,1261.4 L174.9,1262.1 L173.9,1261.1 L169.9,1263.3 L168.9,1262.8 L166.9,1263.8 L165.9,1263.3 L164.9,1261.4 L163.9,1261.4 L162,1263.1 L160,1263.4 L159,1264.4 L158,1263.1 L157,1263 L156,1263.5 L155,1265.5 L154,1265.4 L152,1263.9 L150,1265.9 L149,1266 L148,1264.7 L144,1266.3 L143,1265.4 L142,1265.6 L141,1264.7 L136,1264.5 L131,1265.9 L129,1267.1 L128,1265.6 L127,1265.5 L126,1263.3 L125,1263.7 L124,1263.2 L123,1265.5 L122,1266.2 L121,1266.2 L120,1265 L118,1264.8 L117,1265.1Z" fill="#000"/><path d="M117,1260.4 L118,1260.1 L120,1260.3 L121,1261.5 L122,1261.5 L123,1260.8 L124,1258.5 L125,1259 L126,1258.6 L127,1260.8 L128,1260.9 L129,1262.4 L131,1261.2 L136,1259.8 L141,1260 L142,1260.9 L143,1260.7 L144,1261.6 L148,1260 L149,1261.3 L150,1261.2 L152,1259.2 L154,1260.7 L155,1260.8 L156,1258.8 L157,1258.3 L158,1258.4 L159,1259.7 L160,1258.7 L162,1258.4 L163.9,1256.7 L164.9,1256.7 L165.9,1258.6 L166.9,1259.1 L168.9,1258.1 L169.9,1258.6 L173.9,1256.4 L174.9,1257.4 L176.9,1256.7 L177.9,1254.7 L178.9,1254.7 L180.9,1256.9 L181.9,1256.6 L182.9,1255.5 L184.9,1255.5 L185.9,1256.5 L188.9,1255 L189.9,1256 L191.9,1257 L192.9,1256.1 L193.9,1256.2 L195.9,1254.9 L196.9,1255.1 L198.9,1257 L199.9,1256.7 L200.9,1255.4 L202.9,1254.6 L206.9,1255.2 L207.9,1254.9 L209.9,1255.7 L210.9,1255.3 L211.9,1255.8 L218.9,1252.8 L220.9,1253.5 L222.8,1252.7 L223.8,1251 L224.8,1250.7 L225.8,1249.7 L226.8,1251.3 L227.8,1251.3 L228.8,1252 L231.8,1248.9 L232.8,1248.8 L233.8,1249.7 L235.8,1250.3 L236.8,1249.9 L239.8,1246.6 L240.8,1246.7 L242.7,1247.7 L243.7,1247.3 L244.7,1245.6 L245.7,1245.1 L247.7,1244.8 L248.7,1244.2 L251.7,1240.8 L252.6,1240.5 L254.6,1241.1 L255.6,1240.8 L256.6,1241.4 L257.6,1240.8 L258.6,1241 L260.6,1240.5 L262.6,1238.6 L264.5,1238.3 L266.5,1236.2 L269.5,1235.2 L271.4,1234 L272.4,1234.1 L273.4,1233.3 L274.3,1233.6 L276.3,1230.8 L278.2,1230.4 L279.2,1231.3 L280.1,1230.9 L282.1,1228.9 L283.1,1227 L285,1227.3 L286,1228.4 L288.9,1225.8 L290.8,1224.9 L292.8,1222.4 L294.7,1222.5 L295.7,1221.7 L297.6,1218.4 L298.6,1218.5 L300.5,1217.5 L301.5,1216.1 L302.5,1216 L304.4,1214.6 L305.4,1213.3 L306.4,1213.4 L307.3,1212.6 L309.3,1212.6 L312.2,1208.9 L313.2,1209.2 L317,1207.3 L319,1207.1 L319.9,1207.5 L320.9,1209 L321.9,1208.6 L322.8,1209 L323.8,1208.2 L325.7,1208.3 L326.7,1208.8 L327.7,1210.6 L329.6,1210.1 L330.5,1209.1 L331.5,1209.5 L334.4,1212.3 L335.3,1212.5 L338.2,1215.8 L339.2,1215.3 L341.1,1216.7 L342,1218 L343,1217.7 L346,1222 L348,1222.2 L349,1223.4 L350,1225.7 L353,1228.3 L355,1232.3 L358,1236.2 L359,1236.2 L361,1237.4 L362,1239.9 L365,1241.8 L369,1245.9 L370,1246.2 L371,1245.5 L374,1248.8 L378.9,1252.5 L380.8,1253.4 L381.8,1252.2 L382.8,1253.3 L385.8,1253.1 L390.7,1255.3 L394.6,1253.5 L396.5,1255 L397.5,1256.3 L398.4,1255.9 L399.4,1256.4 L400.4,1254.8 L402.3,1254.2 L404.3,1254.9 L406.2,1254.2 L407.2,1252.6 L409.1,1252.9 L412,1251.4 L413,1252.1 L415,1252.6 L420,1252.6 L423,1250.5 L425,1251 L426.9,1249.6 L427.9,1248.3 L428.9,1248.9 L429.9,1248.4 L430.9,1249 L432.9,1249.2 L436.9,1246.3 L440.9,1245.7 L442.9,1243.8 L445.8,1244.6 L447.8,1241.8 L448.8,1241.2 L450.7,1242.3 L451.7,1242.2 L453.7,1241.3 L456.6,1239 L457.6,1239.9 L459.6,1240 L461.6,1239 L463.5,1236.5 L465.5,1238.2 L466.5,1238.4 L467.4,1237.7 L470.4,1240 L472.3,1240.1 L473.3,1239.1 L475.3,1239 L478.2,1241.9 L481.1,1240.5 L482,1240.7 L485.9,1242.6 L486.8,1244.2 L487.8,1244.1 L488.7,1244.6 L489.7,1244.4 L490.7,1245.7 L493.5,1248 L494.5,1249.5 L498.4,1252.5 L501.4,1252.3 L502.4,1254.4 L504.3,1256.5 L505.3,1256.3 L506.3,1256.8 L508.3,1258.1 L509.3,1259.3 L510.2,1259.6 L513.2,1263.3 L515.1,1262.5 L517,1264.8 L519.9,1265.8 L522.8,1270 L524.7,1271 L526.6,1270.2 L527.6,1270.6 L529.5,1272.5 L530.5,1272.8 L531.4,1272 L532.4,1272.5 L533.4,1272.1 L537.3,1275.3 L538.2,1274 L539.2,1274.5 L540.2,1274.5 L541.2,1275.3 L542.1,1274.8 L545.1,1277.2 L546,1276.9 L547,1275.9 L548.9,1275.5 L549.9,1277.2 L551.9,1279.1 L552.8,1277.7 L554.8,1277.4 L555.8,1277.8 L556.8,1277.5 L557.8,1278.4 L558.8,1278.7 L559.8,1280.1 L560.8,1279.4 L561.8,1280.7 L562.8,1280.1 L566.7,1280.2 L567.7,1279 L569.7,1280.5 L570.7,1282.2 L572.7,1281 L574.7,1280.3 L575.7,1281 L576.7,1281 L578.7,1279.9 L579.7,1279.9 L581.6,1281 L582.6,1280.9 L584.6,1282.6 L585.6,1282.9 L588.6,1281.8 L589.6,1280.8 L590.6,1282.3 L591.6,1282.7 L592.6,1284.5 L593.6,1282.6 L594.6,1282.6 L595.5,1281.7 L596.5,1282.5 L598.5,1281.5 L602.5,1281.6 L605.5,1282.7 L606.5,1281.5 L607.5,1281.5 L608.4,1280.9 L611.4,1282.1 L613.4,1281.7 L614.4,1280.4 L615.4,1281 L616.4,1280.1 L617.4,1281.2 L619.3,1280.9 L620.3,1281.4 L622.3,1280.3 L624.3,1278 L625.3,1278.5 L626.3,1278.2 L627.3,1279.3 L628.3,1279 L629.3,1279.8 L631.2,1279.1 L633.2,1279.4 L634.2,1280.1 L635.2,1279.6 L636.2,1280.1 L638.2,1278.7 L639.2,1279.1 L640.2,1278.8 L641.2,1280.1 L644.1,1278.1 L646.1,1279.4 L647.1,1279.5 L648.1,1278.1 L649.1,1277.6 L652.1,1277.4 L653.1,1276.5 L654.1,1276.3 L656,1276.7 L657,1278.1 L658,1277.4 L659,1277.4 L660,1276.3 L661,1276.6 L663,1275.9 L666,1272.8 L667,1272.3 L668.9,1273.6 L671.9,1272.7 L673.9,1274.5 L674.9,1274 L675.9,1272.2 L676.9,1271.8 L678.9,1272.4 L679.8,1271.4 L680.8,1271.5 L681.8,1270.4 L682.8,1271 L683.8,1270.6 L684.8,1271 L685.8,1270 L687.8,1268.8 L688.8,1268.5 L689.8,1268.7 L691.7,1267 L692.7,1265 L693.7,1264.4 L694.7,1265.1 L696.7,1265.7 L697.7,1264.9 L698.7,1265.4 L699.7,1264.9 L701.6,1262.5 L702.6,1261.9 L703.6,1262.9 L705.6,1263.6 L707.5,1262.4 L709.5,1262.8 L710.5,1262.6 L712.5,1259.5 L714.5,1259.8 L716.4,1258.9 L717.4,1258.9 L720.4,1255.6 L723.3,1255.5 L724.3,1254.1 L725.3,1254.6 L726.3,1253.7 L727.2,1253.6 L732,1249.1 L732.9,1249.9 L733.9,1248.6 L734.8,1249.3 L736.8,1248.3 L738.7,1245.9 L739.6,1246.2 L742.5,1239.8 L745.4,1239.1 L746.4,1237 L747.4,1235.9 L748.4,1235.2 L749.4,1235.2 L752.3,1229 L754.3,1225.9 L755.3,1225.2 L758.2,1220 L761,1212.6 L762,1211.6 L763.9,1205.1 L765.8,1200.9" fill="none" stroke="#000" stroke-width="4" stroke-linejoin="round"/><g fill="none" stroke="#666" stroke-width="1.5"><circle cx="127.8" cy="1256.7" r="3.4"/><circle cx="140" cy="1256.7" r="3.4"/><circle cx="249.3" cy="1248.4" r="3.4"/><circle cx="258.3" cy="1244.9" r="3.4"/><circle cx="280.7" cy="1226.1" r="3.4"/><circle cx="303.5" cy="1219.5" r="3.4"/><circle cx="334.4" cy="1216.4" r="3.4"/><circle cx="356.1" cy="1237.1" r="3.4"/><circle cx="367.4" cy="1248.6" r="3.4"/><circle cx="388.9" cy="1250.8" r="3.4"/><circle cx="431" cy="1253" r="3.4"/><circle cx="443.3" cy="1239.6" r="3.4"/><circle cx="453.7" cy="1244.8" r="3.4"/><circle cx="508.8" cy="1253.1" r="3.4"/><circle cx="529.9" cy="1275" r="3.4"/><circle cx="548.9" cy="1274" r="3.4"/><circle cx="572.5" cy="1277.1" r="3.4"/><circle cx="583.4" cy="1285.4" r="3.4"/><circle cx="636.3" cy="1274.8" r="3.4"/><circle cx="713" cy="1256.6" r="3.4"/><circle cx="723.9" cy="1249.4" r="3.4"/><circle cx="744.2" cy="1235.4" r="3.4"/></g><path d="M823,1197 L826.8,1217.9 L828.7,1225.3 L829.6,1227.2 L833.1,1240.5 L836.8,1250.1 L838.7,1252.9 L839.7,1253.4 L841.6,1256.8 L845.4,1260.6 L846.3,1260.7 L849.2,1265.2 L850.2,1265.3 L852.1,1266.5 L854.1,1266.7 L856,1269.5 L857.9,1270.4 L858.9,1271.6 L859.9,1271.6 L860.8,1272.8 L861.8,1273.2 L863.8,1275.2 L865.7,1278.3 L866.7,1278.4 L869.6,1276.2 L870.5,1276.4 L872.5,1277.8 L873.5,1278.1 L874.4,1279.3 L875.4,1278.8 L877.4,1281.5 L878.4,1283.9 L881.4,1281.3 L882.3,1283.3 L883.3,1283.3 L884.3,1284.6 L888.3,1285.6 L891.3,1285.8 L892.3,1287 L893.2,1286.3 L894.2,1286.4 L895.2,1285.9 L898.2,1288.8 L899.2,1289 L900.2,1287.6 L901.2,1287.9 L902.2,1289.2 L903.2,1289.4 L904.2,1289.5 L905.1,1288.4 L908.1,1288.6 L909.1,1289.4 L910.1,1289.3 L912.1,1290.7 L914.1,1291.4 L915.1,1290.6 L917.1,1291.9 L918.1,1291.8 L919.1,1291.3 L920.1,1289.7 L921.1,1290.1 L922.1,1289.8 L923.1,1291.8 L924.1,1292.1 L925.1,1293 L928.1,1291.6 L932.1,1292.2 L933.1,1291.4 L937.1,1291.9 L939.1,1293.1 L942.1,1292.6 L943.1,1294.4 L944.1,1294.4 L945.1,1293.5 L947.1,1293.5 L948.1,1294.8 L950.1,1294.5 L952.1,1293.6 L953.1,1294.8 L954.1,1295.2 L955.1,1295.2 L956.1,1294.1 L958.1,1294.3 L959.1,1294.9 L960.1,1294.1 L962.1,1293.7 L964.1,1295.3 L965.1,1295.5 L966.1,1295.4 L968.1,1293.2 L971.1,1296 L973.1,1295 L973.1,1304.4 L971.1,1305.4 L968.1,1302.6 L966.1,1304.8 L965.1,1304.9 L964.1,1304.7 L962.1,1303.1 L960.1,1303.5 L959.1,1304.3 L958.1,1303.7 L956.1,1303.5 L955.1,1304.6 L954.1,1304.6 L953.1,1304.2 L952.1,1303 L950.1,1303.9 L948.1,1304.2 L947.1,1302.9 L945.1,1302.9 L944.1,1303.8 L943.1,1303.8 L942.1,1302 L939.1,1302.5 L937.1,1301.3 L933.1,1300.8 L932.1,1301.6 L928.1,1301 L925.1,1302.4 L924.1,1301.5 L923.1,1301.2 L922.1,1299.2 L921.1,1299.5 L920.1,1299.1 L919.1,1300.7 L918.1,1301.2 L917.1,1301.3 L915.1,1300 L914.1,1300.8 L912.1,1300.1 L910.1,1298.7 L909.1,1298.8 L908.1,1298 L905.1,1297.8 L904.2,1298.9 L903.2,1298.8 L902.2,1298.6 L901.2,1297.3 L900.2,1297 L899.2,1298.4 L898.2,1298.2 L895.2,1295.3 L894.2,1295.8 L893.2,1295.7 L892.3,1296.4 L891.3,1295.2 L888.3,1295 L884.3,1294 L883.3,1292.7 L882.3,1292.7 L881.4,1290.7 L878.4,1293.3 L877.4,1290.9 L875.4,1288.2 L874.4,1288.7 L873.5,1287.5 L872.5,1287.2 L870.5,1285.8 L869.6,1285.6 L866.7,1287.8 L865.7,1287.7 L863.8,1284.6 L861.8,1282.6 L860.8,1282.2 L859.9,1281 L858.9,1281 L857.9,1279.8 L856,1278.9 L854.1,1276.1 L852.1,1275.9 L850.2,1274.7 L849.2,1274.6 L846.3,1270.1 L845.4,1270 L841.6,1266.2 L839.7,1262.8 L838.7,1262.3 L836.8,1259.5 L833.1,1249.9 L829.6,1236.6 L828.7,1234.7 L826.8,1227.3 L823,1206.4Z" fill="#000"/><path d="M823,1201.7 L826.8,1222.6 L828.7,1230 L829.6,1231.9 L833.1,1245.2 L836.8,1254.8 L838.7,1257.6 L839.7,1258.1 L841.6,1261.5 L845.4,1265.3 L846.3,1265.4 L849.2,1269.9 L850.2,1270 L852.1,1271.2 L854.1,1271.4 L856,1274.2 L857.9,1275.1 L858.9,1276.3 L859.9,1276.3 L860.8,1277.5 L861.8,1277.9 L863.8,1279.9 L865.7,1283 L866.7,1283.1 L869.6,1280.9 L870.5,1281.1 L872.5,1282.5 L873.5,1282.8 L874.4,1284 L875.4,1283.5 L877.4,1286.2 L878.4,1288.6 L881.4,1286 L882.3,1288 L883.3,1288 L884.3,1289.3 L888.3,1290.3 L891.3,1290.5 L892.3,1291.7 L893.2,1291 L894.2,1291.1 L895.2,1290.6 L898.2,1293.5 L899.2,1293.7 L900.2,1292.3 L901.2,1292.6 L902.2,1293.9 L903.2,1294.1 L904.2,1294.2 L905.1,1293.1 L908.1,1293.3 L909.1,1294.1 L910.1,1294 L912.1,1295.4 L914.1,1296.1 L915.1,1295.3 L917.1,1296.6 L918.1,1296.5 L919.1,1296 L920.1,1294.4 L921.1,1294.8 L922.1,1294.5 L923.1,1296.5 L924.1,1296.8 L925.1,1297.7 L928.1,1296.3 L932.1,1296.9 L933.1,1296.1 L937.1,1296.6 L939.1,1297.8 L942.1,1297.3 L943.1,1299.1 L944.1,1299.1 L945.1,1298.2 L947.1,1298.2 L948.1,1299.5 L950.1,1299.2 L952.1,1298.3 L953.1,1299.5 L954.1,1299.9 L955.1,1299.9 L956.1,1298.8 L958.1,1299 L959.1,1299.6 L960.1,1298.8 L962.1,1298.4 L964.1,1300 L965.1,1300.2 L966.1,1300.1 L968.1,1297.9 L971.1,1300.7 L973.1,1299.7" fill="none" stroke="#000" stroke-width="4" stroke-linejoin="round"/><g fill="none" stroke="#666" stroke-width="1.5"><circle cx="831.7" cy="1240.8" r="3.4"/><circle cx="844" cy="1268.2" r="3.4"/><circle cx="854.4" cy="1275.3" r="3.4"/><circle cx="874.8" cy="1286.5" r="3.4"/><circle cx="885.3" cy="1284.8" r="3.4"/><circle cx="962.3" cy="1303.1" r="3.4"/></g><path d="M117,1348.4 L118,1348 L118.9,1346.4 L119.9,1347.3 L121.8,1347.9 L123.7,1346.4 L126.6,1346.8 L127.5,1346.6 L129.5,1345.1 L131.4,1345.4 L133.3,1344.6 L135.2,1345.7 L136.2,1345.7 L138.2,1346.6 L139.1,1346.4 L141.1,1344.4 L143,1344.3 L144,1345.2 L144.9,1344.6 L145.9,1344.9 L146.9,1344.5 L147.9,1346.6 L148.8,1347.7 L149.8,1347.8 L150.8,1346.6 L151.7,1346.5 L152.7,1348.2 L154.7,1348.5 L155.6,1346.8 L158.6,1349.4 L160.5,1346.1 L161.5,1344.9 L162.4,1344.4 L164.4,1345.3 L165.4,1346.4 L166.4,1346.4 L167.3,1347.1 L170.2,1346.9 L173.1,1349.5 L175.1,1348.5 L176,1349.3 L178,1352.4 L178.9,1353.2 L180.9,1352.5 L181.8,1352.8 L182.8,1353.9 L183.8,1355.9 L184.8,1356.3 L186.7,1353.3 L187.7,1352.8 L189.6,1354.7 L192.5,1354.1 L195.4,1354.9 L196.4,1354.6 L200.3,1355.1 L202.2,1353.5 L203.2,1353.8 L204.2,1353.1 L206.1,1353.2 L207.1,1354.2 L208.1,1354.5 L210,1354.4 L211.9,1353.1 L212.9,1353.7 L214.8,1353.5 L215.8,1351.8 L217.8,1350.4 L218.7,1351.1 L219.7,1350.8 L220.7,1351.3 L222.6,1349.1 L224.6,1349 L225.5,1349.8 L226.5,1348.2 L227.5,1348.8 L228.5,1348.7 L229.5,1350.3 L230.5,1348.9 L231.5,1348.8 L232.5,1347.7 L233.5,1348.4 L234.5,1347.8 L235.5,1348.2 L239.5,1347.2 L240.5,1348 L241.5,1347.3 L242.5,1347.3 L243.5,1346 L244.5,1345.9 L245.5,1345.2 L247.5,1346.9 L248.5,1346.7 L250.5,1345 L252.5,1345.7 L255.5,1344 L256.5,1344.2 L257.5,1343.3 L259.5,1342.7 L261.5,1344.4 L262.5,1343.8 L264.4,1341.2 L266.4,1340.4 L267.3,1339.2 L269.3,1338.1 L270.2,1338.5 L271.2,1337.5 L272.2,1337.1 L275.1,1337 L277,1335.9 L279,1333.3 L280.9,1334.1 L281.9,1334.1 L284.8,1329.7 L286.8,1329.3 L288.7,1327.4 L289.7,1325.8 L290.7,1326.9 L292.6,1327 L293.6,1325 L297.5,1323.5 L298.5,1322.7 L299.5,1323.2 L302.4,1321 L303.4,1319.7 L304.4,1320.7 L306.4,1321.5 L307.4,1320.3 L309.4,1319.9 L310.4,1321.3 L311.4,1320.7 L312.4,1320.8 L313.4,1320.1 L315.4,1320.4 L317.4,1320 L318.4,1319.4 L322.4,1320.4 L323.4,1319.3 L325.4,1318.2 L326.4,1319.2 L329.4,1319.3 L331.4,1320.1 L332.4,1321.1 L333.3,1321.2 L334.3,1322.2 L336.2,1321.6 L337.2,1322.1 L338.2,1321.6 L339.1,1322.3 L340.1,1322.4 L341.1,1324.6 L343,1327.1 L344,1326.3 L346,1325.5 L347.9,1327.6 L351.9,1333.5 L352.8,1333.5 L353.8,1334 L354.8,1333.6 L355.8,1335.3 L357.8,1335.5 L359.7,1337.3 L361.7,1337.3 L364.6,1339.2 L366.5,1337.4 L368.4,1337.1 L370.3,1338.1 L371.3,1339.4 L373.2,1340.5 L374.2,1339.8 L375.1,1340.2 L376.1,1339.7 L378,1339.8 L379,1339.3 L379.9,1339.5 L381.9,1338.6 L382.9,1337.3 L385.8,1337.8 L386.7,1337 L387.7,1338.1 L388.7,1337.6 L389.6,1337.7 L390.6,1336.8 L391.6,1336.9 L392.6,1336.2 L395.5,1338.1 L396.4,1336.1 L398.4,1335.8 L399.4,1337.5 L404.2,1333.4 L405.2,1334.2 L406.2,1333.7 L407.1,1334 L409.1,1331.5 L410,1331.3 L411,1330.4 L414.9,1331.1 L418.8,1327.6 L419.7,1327.2 L422.7,1324.8 L424.6,1324 L425.6,1324.7 L427.5,1324.4 L429.5,1321.5 L431.4,1319.9 L432.4,1320 L433.3,1319 L435.3,1318.8 L436.2,1319.4 L437.2,1318.3 L438.2,1318.8 L439.2,1317.4 L440.1,1318.3 L441.1,1316.8 L444,1314.1 L445,1314.8 L446,1314.7 L447.9,1314.2 L448.9,1313.4 L449.9,1313.4 L452.8,1309 L453.8,1309.9 L455.8,1309.6 L458.7,1308.2 L459.7,1306.5 L461.7,1307.2 L462.7,1307.1 L463.6,1305.5 L464.6,1304.8 L466.6,1305.2 L467.6,1304.2 L469.5,1304.1 L470.4,1304.9 L471.4,1304.7 L472.4,1305 L475.2,1303.2 L476.2,1303.8 L478.1,1304.1 L481,1305.4 L481.9,1305 L484.8,1307.1 L486.8,1307.6 L488.7,1309.5 L489.7,1311.9 L491.6,1314.8 L493.5,1315.7 L495.5,1317.4 L497.4,1321.1 L499.3,1322.8 L500.3,1322.4 L501.2,1323.6 L504.1,1330.1 L507,1334.8 L508.9,1337 L510.8,1337.6 L513.8,1341 L514.7,1341.3 L517.7,1347.4 L519.7,1349 L520.6,1348.9 L521.6,1349.7 L522.6,1349 L523.6,1350.5 L524.6,1351 L525.6,1352.5 L527.5,1354.1 L528.5,1354.3 L532.4,1356.5 L533.4,1357.5 L534.4,1360.2 L536.3,1360.8 L537.3,1359.5 L538.2,1360.6 L541.2,1361.7 L544.1,1361.5 L547,1362.5 L548,1363.5 L549.9,1364.2 L552.8,1366.6 L554.8,1366.5 L557.8,1368.9 L558.8,1368.2 L559.8,1369.2 L560.8,1369 L561.8,1369.8 L562.8,1369.9 L564.8,1372.9 L565.8,1373 L566.8,1372.5 L568.8,1374.8 L569.8,1375.1 L570.8,1374.8 L571.8,1375.6 L574.8,1375.7 L576.8,1377.1 L577.8,1377.1 L580.8,1380 L581.8,1381.8 L582.8,1381.9 L583.8,1382.5 L585.8,1382.8 L586.8,1382.2 L588.8,1382.2 L589.7,1383.3 L590.7,1382.9 L591.7,1383.2 L592.7,1382 L593.7,1381.6 L594.7,1381.8 L596.7,1383.9 L598.6,1382 L601.6,1383.4 L602.6,1381.8 L604.6,1381.2 L605.5,1382 L606.5,1381.5 L609.5,1381.2 L610.5,1382 L614.4,1381.2 L615.4,1381.4 L616.4,1380.8 L617.4,1382.1 L619.4,1381.7 L620.4,1380 L623.3,1381.4 L625.3,1379.9 L626.3,1379.7 L627.3,1380.6 L628.3,1380 L629.3,1380.2 L630.3,1379.6 L631.2,1380.7 L632.2,1379.7 L633.2,1379.9 L635.2,1378.7 L639.2,1377.2 L640.2,1377.3 L641.2,1378.3 L644.1,1376.7 L645.1,1377.5 L648.1,1378.6 L649.1,1378.5 L652.1,1377.2 L653.1,1377.8 L655,1376.9 L658,1377.6 L660,1375.2 L661,1374.8 L663,1377.1 L664,1377.2 L666,1374 L667.9,1372 L668.9,1373 L669.9,1373.1 L670.9,1374.3 L671.9,1374.1 L672.9,1374.7 L674.9,1372.9 L675.9,1373.1 L676.9,1372.3 L677.9,1372.8 L678.9,1371.8 L679.8,1372.1 L681.8,1370.4 L684.8,1371.6 L686.8,1370.2 L687.8,1368.8 L688.8,1369.1 L690.8,1367.9 L691.7,1366.3 L693.7,1366.4 L694.7,1367.5 L695.7,1366.8 L696.7,1366.8 L697.7,1365.4 L698.7,1365.2 L701.6,1363.1 L702.6,1363.9 L703.6,1363.7 L704.6,1364.6 L705.6,1363.3 L706.6,1363.3 L707.5,1362.2 L708.5,1362.1 L709.5,1360.9 L711.5,1361.7 L712.5,1361.4 L714.5,1358.5 L715.4,1358.4 L718.4,1356 L720.4,1355.8 L721.4,1356.5 L723.3,1355.7 L725.3,1354.2 L726.3,1355.2 L727.2,1354.1 L728.2,1354.4 L729.1,1353.1 L730.1,1353.9 L732,1352.3 L735.8,1346.9 L739.6,1344.9 L742.5,1344.6 L743.4,1344 L745.4,1341.8 L748.2,1339.5 L750.1,1336.7 L751.1,1336.4 L752,1335.4 L753,1335.8 L753.9,1333.9 L756.8,1330.7 L758.7,1325.8 L759.6,1325.1 L760.5,1322.2 L761.4,1321.5 L762.2,1317.9 L763.1,1317.5 L764,1316.3 L764.9,1314.2 L768.2,1295.6 L768.2,1305 L764.9,1323.6 L764,1325.7 L763.1,1326.9 L762.2,1327.3 L761.4,1330.9 L760.5,1331.6 L759.6,1334.5 L758.7,1335.2 L756.8,1340.1 L753.9,1343.3 L753,1345.2 L752,1344.8 L751.1,1345.8 L750.1,1346.1 L748.2,1348.9 L745.4,1351.2 L743.4,1353.4 L742.5,1354 L739.6,1354.3 L735.8,1356.3 L732,1361.7 L730.1,1363.3 L729.1,1362.5 L728.2,1363.8 L727.2,1363.5 L726.3,1364.6 L725.3,1363.6 L723.3,1365.1 L721.4,1365.9 L720.4,1365.2 L718.4,1365.4 L715.4,1367.8 L714.5,1367.9 L712.5,1370.8 L711.5,1371.1 L709.5,1370.3 L708.5,1371.5 L707.5,1371.6 L706.6,1372.7 L705.6,1372.7 L704.6,1374 L703.6,1373.1 L702.6,1373.3 L701.6,1372.5 L698.7,1374.6 L697.7,1374.8 L696.7,1376.2 L695.7,1376.2 L694.7,1376.9 L693.7,1375.8 L691.7,1375.7 L690.8,1377.3 L688.8,1378.5 L687.8,1378.2 L686.8,1379.6 L684.8,1381 L681.8,1379.8 L679.8,1381.5 L678.9,1381.2 L677.9,1382.2 L676.9,1381.7 L675.9,1382.5 L674.9,1382.3 L672.9,1384.1 L671.9,1383.5 L670.9,1383.7 L669.9,1382.5 L668.9,1382.4 L667.9,1381.4 L666,1383.4 L664,1386.6 L663,1386.5 L661,1384.2 L660,1384.6 L658,1387 L655,1386.3 L653.1,1387.2 L652.1,1386.6 L649.1,1387.9 L648.1,1388 L645.1,1386.9 L644.1,1386.1 L641.2,1387.7 L640.2,1386.7 L639.2,1386.6 L635.2,1388.1 L633.2,1389.3 L632.2,1389.1 L631.2,1390.1 L630.3,1389 L629.3,1389.6 L628.3,1389.4 L627.3,1390 L626.3,1389.1 L625.3,1389.3 L623.3,1390.8 L620.4,1389.4 L619.4,1391.1 L617.4,1391.5 L616.4,1390.2 L615.4,1390.8 L614.4,1390.6 L610.5,1391.4 L609.5,1390.6 L606.5,1390.9 L605.5,1391.4 L604.6,1390.6 L602.6,1391.2 L601.6,1392.8 L598.6,1391.4 L596.7,1393.3 L594.7,1391.2 L593.7,1391 L592.7,1391.4 L591.7,1392.6 L590.7,1392.3 L589.7,1392.7 L588.8,1391.6 L586.8,1391.6 L585.8,1392.2 L583.8,1391.9 L582.8,1391.3 L581.8,1391.2 L580.8,1389.4 L577.8,1386.5 L576.8,1386.5 L574.8,1385.1 L571.8,1385 L570.8,1384.2 L569.8,1384.5 L568.8,1384.2 L566.8,1381.9 L565.8,1382.4 L564.8,1382.3 L562.8,1379.3 L561.8,1379.2 L560.8,1378.4 L559.8,1378.6 L558.8,1377.6 L557.8,1378.3 L554.8,1375.9 L552.8,1376 L549.9,1373.6 L548,1372.9 L547,1371.9 L544.1,1370.9 L541.2,1371.1 L538.2,1370 L537.3,1368.9 L536.3,1370.2 L534.4,1369.6 L533.4,1366.9 L532.4,1365.9 L528.5,1363.7 L527.5,1363.5 L525.6,1361.9 L524.6,1360.4 L523.6,1359.9 L522.6,1358.4 L521.6,1359.1 L520.6,1358.3 L519.7,1358.4 L517.7,1356.8 L514.7,1350.7 L513.8,1350.4 L510.8,1347 L508.9,1346.4 L507,1344.2 L504.1,1339.5 L501.2,1333 L500.3,1331.8 L499.3,1332.2 L497.4,1330.5 L495.5,1326.8 L493.5,1325.1 L491.6,1324.2 L489.7,1321.3 L488.7,1318.9 L486.8,1317 L484.8,1316.5 L481.9,1314.4 L481,1314.8 L478.1,1313.5 L476.2,1313.2 L475.2,1312.6 L472.4,1314.4 L471.4,1314.1 L470.4,1314.3 L469.5,1313.5 L467.6,1313.6 L466.6,1314.6 L464.6,1314.2 L463.6,1314.9 L462.7,1316.5 L461.7,1316.6 L459.7,1315.9 L458.7,1317.6 L455.8,1319 L453.8,1319.3 L452.8,1318.4 L449.9,1322.8 L448.9,1322.8 L447.9,1323.6 L446,1324.1 L445,1324.2 L444,1323.5 L441.1,1326.2 L440.1,1327.7 L439.2,1326.8 L438.2,1328.2 L437.2,1327.7 L436.2,1328.8 L435.3,1328.2 L433.3,1328.4 L432.4,1329.4 L431.4,1329.3 L429.5,1330.9 L427.5,1333.8 L425.6,1334.1 L424.6,1333.4 L422.7,1334.2 L419.7,1336.6 L418.8,1337 L414.9,1340.5 L411,1339.8 L410,1340.7 L409.1,1340.9 L407.1,1343.4 L406.2,1343.1 L405.2,1343.6 L404.2,1342.8 L399.4,1346.9 L398.4,1345.2 L396.4,1345.5 L395.5,1347.5 L392.6,1345.6 L391.6,1346.3 L390.6,1346.2 L389.6,1347.1 L388.7,1347 L387.7,1347.5 L386.7,1346.4 L385.8,1347.2 L382.9,1346.7 L381.9,1348 L379.9,1348.9 L379,1348.7 L378,1349.2 L376.1,1349.1 L375.1,1349.6 L374.2,1349.2 L373.2,1349.9 L371.3,1348.8 L370.3,1347.5 L368.4,1346.5 L366.5,1346.8 L364.6,1348.6 L361.7,1346.7 L359.7,1346.7 L357.8,1344.9 L355.8,1344.7 L354.8,1343 L353.8,1343.4 L352.8,1342.9 L351.9,1342.9 L347.9,1337 L346,1334.9 L344,1335.7 L343,1336.5 L341.1,1334 L340.1,1331.8 L339.1,1331.7 L338.2,1331 L337.2,1331.5 L336.2,1331 L334.3,1331.6 L333.3,1330.6 L332.4,1330.5 L331.4,1329.5 L329.4,1328.7 L326.4,1328.6 L325.4,1327.6 L323.4,1328.7 L322.4,1329.8 L318.4,1328.8 L317.4,1329.4 L315.4,1329.8 L313.4,1329.5 L312.4,1330.2 L311.4,1330.1 L310.4,1330.7 L309.4,1329.3 L307.4,1329.7 L306.4,1330.9 L304.4,1330.1 L303.4,1329.1 L302.4,1330.4 L299.5,1332.6 L298.5,1332.1 L297.5,1332.9 L293.6,1334.4 L292.6,1336.4 L290.7,1336.3 L289.7,1335.2 L288.7,1336.8 L286.8,1338.7 L284.8,1339.1 L281.9,1343.5 L280.9,1343.5 L279,1342.7 L277,1345.3 L275.1,1346.4 L272.2,1346.5 L271.2,1346.9 L270.2,1347.9 L269.3,1347.5 L267.3,1348.6 L266.4,1349.8 L264.4,1350.6 L262.5,1353.2 L261.5,1353.8 L259.5,1352.1 L257.5,1352.7 L256.5,1353.6 L255.5,1353.4 L252.5,1355.1 L250.5,1354.4 L248.5,1356.1 L247.5,1356.3 L245.5,1354.6 L244.5,1355.3 L243.5,1355.4 L242.5,1356.7 L241.5,1356.7 L240.5,1357.4 L239.5,1356.6 L235.5,1357.6 L234.5,1357.2 L233.5,1357.8 L232.5,1357.1 L231.5,1358.2 L230.5,1358.3 L229.5,1359.7 L228.5,1358.1 L227.5,1358.2 L226.5,1357.6 L225.5,1359.2 L224.6,1358.4 L222.6,1358.5 L220.7,1360.7 L219.7,1360.2 L218.7,1360.5 L217.8,1359.8 L215.8,1361.2 L214.8,1362.9 L212.9,1363.1 L211.9,1362.5 L210,1363.8 L208.1,1363.9 L207.1,1363.6 L206.1,1362.6 L204.2,1362.5 L203.2,1363.2 L202.2,1362.9 L200.3,1364.5 L196.4,1364 L195.4,1364.3 L192.5,1363.5 L189.6,1364.1 L187.7,1362.2 L186.7,1362.7 L184.8,1365.7 L183.8,1365.3 L182.8,1363.3 L181.8,1362.2 L180.9,1361.9 L178.9,1362.6 L178,1361.8 L176,1358.7 L175.1,1357.9 L173.1,1358.9 L170.2,1356.3 L167.3,1356.5 L166.4,1355.8 L165.4,1355.8 L164.4,1354.7 L162.4,1353.8 L161.5,1354.3 L160.5,1355.5 L158.6,1358.8 L155.6,1356.2 L154.7,1357.9 L152.7,1357.6 L151.7,1355.9 L150.8,1356 L149.8,1357.2 L148.8,1357.1 L147.9,1356 L146.9,1353.9 L145.9,1354.3 L144.9,1354 L144,1354.6 L143,1353.7 L141.1,1353.8 L139.1,1355.8 L138.2,1356 L136.2,1355.1 L135.2,1355.1 L133.3,1354 L131.4,1354.8 L129.5,1354.5 L127.5,1356 L126.6,1356.2 L123.7,1355.8 L121.8,1357.3 L119.9,1356.7 L118.9,1355.8 L118,1357.4 L117,1357.8Z" fill="#000"/><path d="M117,1353.1 L118,1352.7 L118.9,1351.1 L119.9,1352 L121.8,1352.6 L123.7,1351.1 L126.6,1351.5 L127.5,1351.3 L129.5,1349.8 L131.4,1350.1 L133.3,1349.3 L135.2,1350.4 L136.2,1350.4 L138.2,1351.3 L139.1,1351.1 L141.1,1349.1 L143,1349 L144,1349.9 L144.9,1349.3 L145.9,1349.6 L146.9,1349.2 L147.9,1351.3 L148.8,1352.4 L149.8,1352.5 L150.8,1351.3 L151.7,1351.2 L152.7,1352.9 L154.7,1353.2 L155.6,1351.5 L158.6,1354.1 L160.5,1350.8 L161.5,1349.6 L162.4,1349.1 L164.4,1350 L165.4,1351.1 L166.4,1351.1 L167.3,1351.8 L170.2,1351.6 L173.1,1354.2 L175.1,1353.2 L176,1354 L178,1357.1 L178.9,1357.9 L180.9,1357.2 L181.8,1357.5 L182.8,1358.6 L183.8,1360.6 L184.8,1361 L186.7,1358 L187.7,1357.5 L189.6,1359.4 L192.5,1358.8 L195.4,1359.6 L196.4,1359.3 L200.3,1359.8 L202.2,1358.2 L203.2,1358.5 L204.2,1357.8 L206.1,1357.9 L207.1,1358.9 L208.1,1359.2 L210,1359.1 L211.9,1357.8 L212.9,1358.4 L214.8,1358.2 L215.8,1356.5 L217.8,1355.1 L218.7,1355.8 L219.7,1355.5 L220.7,1356 L222.6,1353.8 L224.6,1353.7 L225.5,1354.5 L226.5,1352.9 L227.5,1353.5 L228.5,1353.4 L229.5,1355 L230.5,1353.6 L231.5,1353.5 L232.5,1352.4 L233.5,1353.1 L234.5,1352.5 L235.5,1352.9 L239.5,1351.9 L240.5,1352.7 L241.5,1352 L242.5,1352 L243.5,1350.7 L244.5,1350.6 L245.5,1349.9 L247.5,1351.6 L248.5,1351.4 L250.5,1349.7 L252.5,1350.4 L255.5,1348.7 L256.5,1348.9 L257.5,1348 L259.5,1347.4 L261.5,1349.1 L262.5,1348.5 L264.4,1345.9 L266.4,1345.1 L267.3,1343.9 L269.3,1342.8 L270.2,1343.2 L271.2,1342.2 L272.2,1341.8 L275.1,1341.7 L277,1340.6 L279,1338 L280.9,1338.8 L281.9,1338.8 L284.8,1334.4 L286.8,1334 L288.7,1332.1 L289.7,1330.5 L290.7,1331.6 L292.6,1331.7 L293.6,1329.7 L297.5,1328.2 L298.5,1327.4 L299.5,1327.9 L302.4,1325.7 L303.4,1324.4 L304.4,1325.4 L306.4,1326.2 L307.4,1325 L309.4,1324.6 L310.4,1326 L311.4,1325.4 L312.4,1325.5 L313.4,1324.8 L315.4,1325.1 L317.4,1324.7 L318.4,1324.1 L322.4,1325.1 L323.4,1324 L325.4,1322.9 L326.4,1323.9 L329.4,1324 L331.4,1324.8 L332.4,1325.8 L333.3,1325.9 L334.3,1326.9 L336.2,1326.3 L337.2,1326.8 L338.2,1326.3 L339.1,1327 L340.1,1327.1 L341.1,1329.3 L343,1331.8 L344,1331 L346,1330.2 L347.9,1332.3 L351.9,1338.2 L352.8,1338.2 L353.8,1338.7 L354.8,1338.3 L355.8,1340 L357.8,1340.2 L359.7,1342 L361.7,1342 L364.6,1343.9 L366.5,1342.1 L368.4,1341.8 L370.3,1342.8 L371.3,1344.1 L373.2,1345.2 L374.2,1344.5 L375.1,1344.9 L376.1,1344.4 L378,1344.5 L379,1344 L379.9,1344.2 L381.9,1343.3 L382.9,1342 L385.8,1342.5 L386.7,1341.7 L387.7,1342.8 L388.7,1342.3 L389.6,1342.4 L390.6,1341.5 L391.6,1341.6 L392.6,1340.9 L395.5,1342.8 L396.4,1340.8 L398.4,1340.5 L399.4,1342.2 L404.2,1338.1 L405.2,1338.9 L406.2,1338.4 L407.1,1338.7 L409.1,1336.2 L410,1336 L411,1335.1 L414.9,1335.8 L418.8,1332.3 L419.7,1331.9 L422.7,1329.5 L424.6,1328.7 L425.6,1329.4 L427.5,1329.1 L429.5,1326.2 L431.4,1324.6 L432.4,1324.7 L433.3,1323.7 L435.3,1323.5 L436.2,1324.1 L437.2,1323 L438.2,1323.5 L439.2,1322.1 L440.1,1323 L441.1,1321.5 L444,1318.8 L445,1319.5 L446,1319.4 L447.9,1318.9 L448.9,1318.1 L449.9,1318.1 L452.8,1313.7 L453.8,1314.6 L455.8,1314.3 L458.7,1312.9 L459.7,1311.2 L461.7,1311.9 L462.7,1311.8 L463.6,1310.2 L464.6,1309.5 L466.6,1309.9 L467.6,1308.9 L469.5,1308.8 L470.4,1309.6 L471.4,1309.4 L472.4,1309.7 L475.2,1307.9 L476.2,1308.5 L478.1,1308.8 L481,1310.1 L481.9,1309.7 L484.8,1311.8 L486.8,1312.3 L488.7,1314.2 L489.7,1316.6 L491.6,1319.5 L493.5,1320.4 L495.5,1322.1 L497.4,1325.8 L499.3,1327.5 L500.3,1327.1 L501.2,1328.3 L504.1,1334.8 L507,1339.5 L508.9,1341.7 L510.8,1342.3 L513.8,1345.7 L514.7,1346 L517.7,1352.1 L519.7,1353.7 L520.6,1353.6 L521.6,1354.4 L522.6,1353.7 L523.6,1355.2 L524.6,1355.7 L525.6,1357.2 L527.5,1358.8 L528.5,1359 L532.4,1361.2 L533.4,1362.2 L534.4,1364.9 L536.3,1365.5 L537.3,1364.2 L538.2,1365.3 L541.2,1366.4 L544.1,1366.2 L547,1367.2 L548,1368.2 L549.9,1368.9 L552.8,1371.3 L554.8,1371.2 L557.8,1373.6 L558.8,1372.9 L559.8,1373.9 L560.8,1373.7 L561.8,1374.5 L562.8,1374.6 L564.8,1377.6 L565.8,1377.7 L566.8,1377.2 L568.8,1379.5 L569.8,1379.8 L570.8,1379.5 L571.8,1380.3 L574.8,1380.4 L576.8,1381.8 L577.8,1381.8 L580.8,1384.7 L581.8,1386.5 L582.8,1386.6 L583.8,1387.2 L585.8,1387.5 L586.8,1386.9 L588.8,1386.9 L589.7,1388 L590.7,1387.6 L591.7,1387.9 L592.7,1386.7 L593.7,1386.3 L594.7,1386.5 L596.7,1388.6 L598.6,1386.7 L601.6,1388.1 L602.6,1386.5 L604.6,1385.9 L605.5,1386.7 L606.5,1386.2 L609.5,1385.9 L610.5,1386.7 L614.4,1385.9 L615.4,1386.1 L616.4,1385.5 L617.4,1386.8 L619.4,1386.4 L620.4,1384.7 L623.3,1386.1 L625.3,1384.6 L626.3,1384.4 L627.3,1385.3 L628.3,1384.7 L629.3,1384.9 L630.3,1384.3 L631.2,1385.4 L632.2,1384.4 L633.2,1384.6 L635.2,1383.4 L639.2,1381.9 L640.2,1382 L641.2,1383 L644.1,1381.4 L645.1,1382.2 L648.1,1383.3 L649.1,1383.2 L652.1,1381.9 L653.1,1382.5 L655,1381.6 L658,1382.3 L660,1379.9 L661,1379.5 L663,1381.8 L664,1381.9 L666,1378.7 L667.9,1376.7 L668.9,1377.7 L669.9,1377.8 L670.9,1379 L671.9,1378.8 L672.9,1379.4 L674.9,1377.6 L675.9,1377.8 L676.9,1377 L677.9,1377.5 L678.9,1376.5 L679.8,1376.8 L681.8,1375.1 L684.8,1376.3 L686.8,1374.9 L687.8,1373.5 L688.8,1373.8 L690.8,1372.6 L691.7,1371 L693.7,1371.1 L694.7,1372.2 L695.7,1371.5 L696.7,1371.5 L697.7,1370.1 L698.7,1369.9 L701.6,1367.8 L702.6,1368.6 L703.6,1368.4 L704.6,1369.3 L705.6,1368 L706.6,1368 L707.5,1366.9 L708.5,1366.8 L709.5,1365.6 L711.5,1366.4 L712.5,1366.1 L714.5,1363.2 L715.4,1363.1 L718.4,1360.7 L720.4,1360.5 L721.4,1361.2 L723.3,1360.4 L725.3,1358.9 L726.3,1359.9 L727.2,1358.8 L728.2,1359.1 L729.1,1357.8 L730.1,1358.6 L732,1357 L735.8,1351.6 L739.6,1349.6 L742.5,1349.3 L743.4,1348.7 L745.4,1346.5 L748.2,1344.2 L750.1,1341.4 L751.1,1341.1 L752,1340.1 L753,1340.5 L753.9,1338.6 L756.8,1335.4 L758.7,1330.5 L759.6,1329.8 L760.5,1326.9 L761.4,1326.2 L762.2,1322.6 L763.1,1322.2 L764,1321 L764.9,1318.9 L768.2,1300.3" fill="none" stroke="#000" stroke-width="4" stroke-linejoin="round"/><g fill="none" stroke="#666" stroke-width="1.5"><circle cx="115.6" cy="1348.4" r="3.4"/><circle cx="128.8" cy="1347.3" r="3.4"/><circle cx="180.8" cy="1353.1" r="3.4"/><circle cx="191.9" cy="1355.2" r="3.4"/><circle cx="212.2" cy="1361.8" r="3.4"/><circle cx="235.3" cy="1357.3" r="3.4"/><circle cx="246.3" cy="1353.4" r="3.4"/><circle cx="266.3" cy="1338.9" r="3.4"/><circle cx="288.6" cy="1328.6" r="3.4"/><circle cx="322.7" cy="1329.8" r="3.4"/><circle cx="364" cy="1339.6" r="3.4"/><circle cx="386.6" cy="1337.5" r="3.4"/><circle cx="397.6" cy="1345.1" r="3.4"/><circle cx="406.1" cy="1334.8" r="3.4"/><circle cx="418.1" cy="1329.2" r="3.4"/><circle cx="428.4" cy="1332.2" r="3.4"/><circle cx="460.8" cy="1315.7" r="3.4"/><circle cx="470.4" cy="1305.7" r="3.4"/><circle cx="480.7" cy="1306" r="3.4"/><circle cx="492.1" cy="1324.3" r="3.4"/><circle cx="536.2" cy="1368.8" r="3.4"/><circle cx="567.6" cy="1381.5" r="3.4"/><circle cx="601.2" cy="1392" r="3.4"/><circle cx="611" cy="1382.6" r="3.4"/><circle cx="643.2" cy="1378.1" r="3.4"/><circle cx="698" cy="1366.2" r="3.4"/><circle cx="751.7" cy="1343.2" r="3.4"/></g><path d="M820.6,1293.8 L822.2,1305.7 L824.8,1317.2 L827.4,1324.4 L831.1,1336.9 L835.9,1349.4 L838.7,1353.1 L840.7,1357.9 L843.7,1361.8 L844.7,1363.7 L845.7,1364.5 L849.7,1365.1 L852.7,1369.3 L855.7,1371.5 L856.7,1371.7 L859.7,1375.6 L861.7,1376.6 L862.6,1376 L863.6,1377.4 L864.6,1377.9 L865.6,1379.5 L868.6,1379.4 L871.5,1381.6 L873.5,1380.9 L874.5,1381.8 L876.5,1385.2 L878.4,1383.6 L881.4,1383.5 L884.3,1386.2 L885.3,1386.4 L886.3,1387.2 L887.3,1387.6 L890.3,1387.4 L893.2,1390.7 L896.2,1389.7 L897.2,1390.2 L899.2,1390 L900.2,1391.2 L901.2,1391.4 L902.2,1392.9 L903.2,1392.1 L905.1,1392 L907.1,1393.8 L910.1,1391.8 L914.1,1394.1 L915.1,1393.8 L916.1,1394.3 L918,1394.1 L919,1393.3 L921,1394.7 L923,1395.2 L924,1394.5 L925,1394.7 L925.9,1393.8 L926.9,1395.4 L927.9,1394.7 L930.9,1395.4 L932.8,1394.2 L934.8,1397.1 L935.8,1397.7 L937.7,1397.3 L940.7,1397.5 L943.6,1396.2 L944.6,1397.2 L948.5,1397.4 L949.5,1398.3 L950.5,1398 L951.5,1398.6 L954.4,1398.1 L957.4,1398.9 L959.3,1397.6 L961.3,1397.2 L962.3,1397.7 L965.2,1397.9 L968.2,1400.3 L970.2,1398.4 L971.1,1398.7 L972.1,1399.5 L973.1,1401.1 L973.1,1410.5 L972.1,1408.9 L971.1,1408.1 L970.2,1407.8 L968.2,1409.7 L965.2,1407.3 L962.3,1407.1 L961.3,1406.6 L959.3,1407 L957.4,1408.3 L954.4,1407.5 L951.5,1408 L950.5,1407.4 L949.5,1407.7 L948.5,1406.8 L944.6,1406.6 L943.6,1405.6 L940.7,1406.9 L937.7,1406.7 L935.8,1407.1 L934.8,1406.5 L932.8,1403.6 L930.9,1404.8 L927.9,1404.1 L926.9,1404.8 L925.9,1403.2 L925,1404.1 L924,1403.9 L923,1404.6 L921,1404.1 L919,1402.7 L918,1403.5 L916.1,1403.7 L915.1,1403.2 L914.1,1403.5 L910.1,1401.2 L907.1,1403.2 L905.1,1401.4 L903.2,1401.5 L902.2,1402.3 L901.2,1400.8 L900.2,1400.6 L899.2,1399.4 L897.2,1399.6 L896.2,1399.1 L893.2,1400.1 L890.3,1396.8 L887.3,1397 L886.3,1396.6 L885.3,1395.8 L884.3,1395.6 L881.4,1392.9 L878.4,1393 L876.5,1394.6 L874.5,1391.2 L873.5,1390.3 L871.5,1391 L868.6,1388.8 L865.6,1388.9 L864.6,1387.3 L863.6,1386.8 L862.6,1385.4 L861.7,1386 L859.7,1385 L856.7,1381.1 L855.7,1380.9 L852.7,1378.7 L849.7,1374.5 L845.7,1373.9 L844.7,1373.1 L843.7,1371.2 L840.7,1367.3 L838.7,1362.5 L835.9,1358.8 L831.1,1346.3 L827.4,1333.8 L824.8,1326.6 L822.2,1315.1 L820.6,1303.2Z" fill="#000"/><path d="M820.6,1298.5 L822.2,1310.4 L824.8,1321.9 L827.4,1329.1 L831.1,1341.6 L835.9,1354.1 L838.7,1357.8 L840.7,1362.6 L843.7,1366.5 L844.7,1368.4 L845.7,1369.2 L849.7,1369.8 L852.7,1374 L855.7,1376.2 L856.7,1376.4 L859.7,1380.3 L861.7,1381.3 L862.6,1380.7 L863.6,1382.1 L864.6,1382.6 L865.6,1384.2 L868.6,1384.1 L871.5,1386.3 L873.5,1385.6 L874.5,1386.5 L876.5,1389.9 L878.4,1388.3 L881.4,1388.2 L884.3,1390.9 L885.3,1391.1 L886.3,1391.9 L887.3,1392.3 L890.3,1392.1 L893.2,1395.4 L896.2,1394.4 L897.2,1394.9 L899.2,1394.7 L900.2,1395.9 L901.2,1396.1 L902.2,1397.6 L903.2,1396.8 L905.1,1396.7 L907.1,1398.5 L910.1,1396.5 L914.1,1398.8 L915.1,1398.5 L916.1,1399 L918,1398.8 L919,1398 L921,1399.4 L923,1399.9 L924,1399.2 L925,1399.4 L925.9,1398.5 L926.9,1400.1 L927.9,1399.4 L930.9,1400.1 L932.8,1398.9 L934.8,1401.8 L935.8,1402.4 L937.7,1402 L940.7,1402.2 L943.6,1400.9 L944.6,1401.9 L948.5,1402.1 L949.5,1403 L950.5,1402.7 L951.5,1403.3 L954.4,1402.8 L957.4,1403.6 L959.3,1402.3 L961.3,1401.9 L962.3,1402.4 L965.2,1402.6 L968.2,1405 L970.2,1403.1 L971.1,1403.4 L972.1,1404.2 L973.1,1405.8" fill="none" stroke="#000" stroke-width="4" stroke-linejoin="round"/><g fill="none" stroke="#666" stroke-width="1.5"><circle cx="830.4" cy="1335" r="3.4"/><circle cx="862.7" cy="1384.7" r="3.4"/><circle cx="874.5" cy="1382.2" r="3.4"/><circle cx="905.5" cy="1392.5" r="3.4"/><circle cx="959.3" cy="1398.4" r="3.4"/></g><text class="sans" transform="translate(189.7,853.1) scale(1.65,1)" font-size="40" font-weight="normal" fill="#1e1e1e" text-anchor="middle" stroke="#1e1e1e" stroke-width="1.3">20</text><text class="sans" transform="translate(500,853.1) scale(1.65,1)" font-size="40" font-weight="normal" fill="#1e1e1e" text-anchor="middle" stroke="#1e1e1e" stroke-width="1.3">10</text><text class="sans" transform="translate(808,852.5) scale(1.65,1)" font-size="39" font-weight="normal" fill="#1e1e1e" text-anchor="middle" stroke="#1e1e1e" stroke-width="1.3">0</text><text class="sans" transform="translate(513,916.8) scale(1.65,1)" font-size="50.5" font-weight="normal" fill="#1e1e1e" text-anchor="start" stroke="#1e1e1e" stroke-width="1.0">Al 2s</text><text class="sans" transform="translate(885,930.5) scale(1.72,1)" font-size="32" font-weight="normal" fill="#585858" text-anchor="start" stroke="#585858" stroke-width="0.5">10°</text><text class="sans" transform="translate(885,1037.5) scale(1.72,1)" font-size="32" font-weight="normal" fill="#585858" text-anchor="start" stroke="#585858" stroke-width="0.5">30°</text><text class="sans" transform="translate(885,1145) scale(1.72,1)" font-size="32" font-weight="normal" fill="#585858" text-anchor="start" stroke="#585858" stroke-width="0.5">50°</text><text class="sans" transform="translate(885,1246.3) scale(1.72,1)" font-size="32" font-weight="normal" fill="#585858" text-anchor="start" stroke="#585858" stroke-width="0.5">70°</text><text class="sans" transform="translate(885,1348.6) scale(1.72,1)" font-size="32" font-weight="normal" fill="#585858" text-anchor="start" stroke="#585858" stroke-width="0.5">80°</text><text class="sans" transform="translate(125,1457.9) scale(1.65,1)" font-size="37.5" font-weight="normal" fill="#1e1e1e" text-anchor="middle" stroke="#1e1e1e" stroke-width="1.2">140</text><text class="sans" transform="translate(429.2,1457.9) scale(1.65,1)" font-size="37.5" font-weight="normal" fill="#1e1e1e" text-anchor="middle" stroke="#1e1e1e" stroke-width="1.2">130</text><text class="sans" transform="translate(739.4,1457.9) scale(1.65,1)" font-size="37.5" font-weight="normal" fill="#1e1e1e" text-anchor="middle" stroke="#1e1e1e" stroke-width="1.2">120</text><text class="sans" transform="translate(567.7,1510.6) scale(1.72,1)" font-size="35" font-weight="normal" fill="#2a2a2a" text-anchor="middle" stroke="#2a2a2a" stroke-width="0.9">binding energy (eV)</text></g></g><g id="panelC"><text class="serif" x="1213" y="67" font-size="76" fill="#000">(c)</text><line x1="1355" y1="92.6" x2="1466" y2="92.6" stroke="#000" stroke-width="9.5" stroke-linecap="round"/><line x1="1354" y1="153.3" x2="1468" y2="153.3" stroke="#000" stroke-width="7.5" stroke-dasharray="18 13.5"/><line x1="1354" y1="213.2" x2="1456" y2="213.2" stroke="#000" stroke-width="7" stroke-dasharray="27.5 10.5 7 9"/><text class="sans" x="1478" y="108.2" font-size="49.5" letter-spacing="1.6" fill="#1a1a1a">Total</text><text class="sans" x="1477.5" y="169.2" font-size="49" fill="#1a1a1a">extrinsic</text><text class="sans" x="1477.5" y="230.3" font-size="49" fill="#1a1a1a">intrinsic</text><line x1="1331" y1="367.4" x2="1919" y2="367.4" stroke="#222" stroke-width="1.8"/><line x1="1331" y1="565.6" x2="1919" y2="565.6" stroke="#222" stroke-width="1.8"/><line x1="1331" y1="763.1" x2="1919" y2="763.1" stroke="#222" stroke-width="1.8"/><line x1="1331" y1="958.7" x2="1919" y2="958.7" stroke="#777" stroke-width="1.8"/><line x1="1331" y1="1156" x2="1919" y2="1156" stroke="#222" stroke-width="1.8"/><line x1="1331" y1="168.5" x2="1331" y2="1216" stroke="#000" stroke-width="3.3"/><path d="M1311.5,169.7 H1331 M1311.5,367.4 H1331 M1311.5,565.6 H1331 M1311.5,763.1 H1331 M1311.5,958.7 H1331 M1311.5,1155.5 H1331 M1321,268.5 H1331 M1321,466.5 H1331 M1321,664.4 H1331 M1321,860.9 H1331 M1321,1057.1 H1331" stroke="#000" stroke-width="3" fill="none"/><text class="sans" x="1293" y="185.4" font-size="52" text-anchor="end" fill="#1a1a1a">0.05</text><text class="sans" x="1293" y="381.3" font-size="52" text-anchor="end" fill="#1a1a1a">0.04</text><text class="sans" x="1293" y="579.2" font-size="52" text-anchor="end" fill="#1a1a1a">0.03</text><text class="sans" x="1293" y="777.1" font-size="52" text-anchor="end" fill="#1a1a1a">0.02</text><text class="sans" x="1293" y="975.1" font-size="52" text-anchor="end" fill="#1a1a1a">0.01</text><text class="sans" x="1293" y="1169.8" font-size="52" text-anchor="end" fill="#1a1a1a">0.00</text><line x1="1329.4" y1="1205.8" x2="1919.5" y2="1205.8" stroke="#000" stroke-width="3.3"/><path d="M1330.9,1205.8 v10 M1376.1,1205.8 v10 M1421.4,1205.8 v20 M1466.6,1205.8 v10 M1511.9,1205.8 v10 M1557.1,1205.8 v20 M1602.3,1205.8 v10 M1647.6,1205.8 v10 M1692.8,1205.8 v20 M1738.1,1205.8 v10 M1783.3,1205.8 v10 M1828.5,1205.8 v20 M1873.8,1205.8 v10 M1919,1205.8 v10" stroke="#000" stroke-width="3" fill="none"/><text class="sans" x="1420.4" y="1279" font-size="52.5" text-anchor="middle" fill="#1a1a1a">9</text><text class="sans" x="1556.1" y="1279" font-size="52.5" text-anchor="middle" fill="#1a1a1a">12</text><text class="sans" x="1691.8" y="1279" font-size="52.5" text-anchor="middle" fill="#1a1a1a">15</text><text class="sans" x="1827.5" y="1279" font-size="52.5" text-anchor="middle" fill="#1a1a1a">18</text><text class="sans" x="1401.2" y="1363.2" font-size="62.5" fill="#1a1a1a">Energy loss</text><text class="sans" x="1776.6" y="1363.2" font-size="64" fill="#1a1a1a">(eV)</text><text class="sans" transform="translate(1143.7,825) rotate(-90)" font-size="64" fill="#1a1a1a" xml:space="preserve"><tspan font-style="italic">K</tspan><tspan font-style="italic" font-size="42" dy="18">eff,av</tspan><tspan dy="-18">   (eV</tspan><tspan font-size="37" dy="-25">-1</tspan><tspan dy="25">Å</tspan><tspan font-size="37" dy="-25">-1</tspan><tspan dy="25">)</tspan></text><text class="sans" x="1346" y="315.8" font-size="48.6" fill="#333">10<tspan font-size="30" dy="-16">o</tspan></text><text class="sans" x="1346" y="502.6" font-size="48.6" fill="#333">30<tspan font-size="30" dy="-16">o</tspan></text><text class="sans" x="1346" y="702.6" font-size="48.6" fill="#333">50<tspan font-size="30" dy="-16">o</tspan></text><text class="sans" x="1346" y="896.8" font-size="48.6" fill="#333">70<tspan font-size="30" dy="-16">o</tspan></text><text class="sans" x="1350" y="1078.5" font-size="48.6" fill="#333">80<tspan font-size="30" dy="-16">o</tspan></text><g fill="none" stroke="#000" stroke-linejoin="round"><path d="M1332,375.4 L1471.5,375.1 L1477,374.6 L1483.5,373.5 L1503.5,368.9 L1520.5,366.9 L1551.4,365.2 L1619.5,362.5 L1627.5,361.7 L1636.3,360.1 L1643.7,358 L1651.1,354.8 L1663.5,348.1 L1669.5,344.1 L1673.9,339.9 L1678.4,334.3 L1684.3,325.3 L1692.1,311.8 L1694.6,308.4 L1697.5,305.1 L1706,297.7 L1715.2,291.2 L1721,288.2 L1724,287.2 L1727,286.7 L1731.8,287.1 L1743.5,290.4 L1777.3,302 L1795,308.4 L1829.9,318.1 L1867.9,325.5 L1917,332.3" stroke-width="6.4" stroke-dasharray="23 11 5.5 12"/><path d="M1332.4,349.2 L1366.2,349.8 L1383.1,349.5 L1396,348.9 L1418.7,346.5 L1449.9,341.3 L1459.3,339.3 L1466.7,336.7 L1473.2,333.4 L1492.2,321.9 L1495.7,320.6 L1500.6,320 L1506.5,320.1 L1512.5,321.3 L1519,323.4 L1530.5,328.2 L1541,331.9 L1549.5,334.2 L1558,335.8 L1567.9,336.6 L1578.4,336.4 L1588.8,335.2 L1598.2,333.1 L1608.2,329.6 L1616.2,325.9 L1622.7,322 L1629.6,316.5 L1634.6,311.9 L1639,307.1 L1648.9,293.5 L1652.4,289.4 L1655.3,286.7 L1665.5,278.4 L1678,265.4 L1681,261.8 L1687.5,252.2 L1690.5,248.6 L1693.5,245.8 L1696.5,243.9 L1699.5,242.6 L1702,242.2 L1705.5,242.9 L1709,245.4 L1720.3,259.3 L1723.6,264.3 L1731.3,277.5 L1741,293 L1745.4,299.6 L1748.9,304 L1752.9,308.2 L1767.9,322.5 L1772.4,326.1 L1776.8,328.9 L1791.1,336 L1801.5,340.4 L1830.4,350.2 L1842.8,353.6 L1853.3,355.7 L1866.3,357.6 L1917,362.4" stroke-width="6.4" stroke-dasharray="17 13.5"/><path d="M1332.4,357.1 L1363.2,356 L1387.5,354.1 L1406.9,351.6 L1427.1,347.7 L1452.4,341.8 L1462.8,338.5 L1471.7,334.3 L1491.7,322.1 L1494.7,320.9 L1498.6,320.2 L1505,320 L1511,320.9 L1518.5,323.2 L1532,328.7 L1544.5,332.9 L1554.5,335.2 L1565.4,336.5 L1571.9,336.6 L1578.4,336.4 L1585.3,335.7 L1591.3,334.8 L1596.7,333.5 L1602.2,331.8 L1614.2,327 L1619.7,323.9 L1625.2,320.1 L1631.1,315.2 L1636.1,310.4 L1641,304.7 L1645.5,298.9 L1656.3,282.5 L1661.2,274.1 L1665.7,265.6 L1674.1,246.3 L1680.6,228.4 L1689.3,198.9 L1693.7,188 L1697.1,181.9 L1700,178.2 L1703.5,175.7 L1705.5,175 L1707.5,174.7 L1711,175.2 L1715.5,177.4 L1719.8,180.6 L1724.1,185 L1728.6,190.9 L1738.6,206.8 L1749.3,222.9 L1759.6,237.8 L1766.5,247.2 L1774,256.3 L1781,264.1 L1788,270.9 L1794.5,276.2 L1803.4,282.2 L1821.2,292.5 L1833.1,298.6 L1848.5,305.7 L1863.9,312.2 L1885.3,320.3 L1912,329.7 L1917,330.9" stroke-width="8.6"/><path d="M1332,575.5 L1440,575.5 L1472.5,575.2 L1478,574.5 L1485,573.2 L1507.5,567 L1518,565.1 L1575.5,562 L1605.3,561.1 L1623.1,559.1 L1633.5,557.3 L1640.9,555 L1650.3,551 L1657.2,547.3 L1663.1,543 L1669.6,537.2 L1675,531.1 L1679.5,525.1 L1692.5,506.1 L1695.9,502 L1701.1,496.8 L1708,490.4 L1713.5,486.5 L1721,482.7 L1724,481.7 L1727,481.1 L1729.4,481.1 L1732.4,481.6 L1741.6,484.4 L1768.6,495.2 L1785,501.3 L1799.3,506.2 L1810.7,509.3 L1844.8,516.7 L1859.1,519.4 L1891.5,523.8 L1917,526.8" stroke-width="6.4" stroke-dasharray="23 11 5.5 12"/><path d="M1332.4,546 L1364.2,545.2 L1375.6,544.2 L1388.5,542.5 L1402.9,540.1 L1419.7,536.6 L1429.6,534 L1444.5,529.4 L1452.9,526.3 L1459.9,522.6 L1465.9,518 L1484.7,501.1 L1489.1,497.5 L1494.5,494.4 L1498,493.2 L1501,492.7 L1503.5,492.6 L1506.5,493.1 L1509.5,494 L1512.5,495.4 L1518,499 L1531.9,510 L1537.9,514.1 L1547.4,519.2 L1557.3,523.2 L1567.8,525.8 L1573.2,526.6 L1578.2,526.8 L1587.7,526.2 L1597.6,523.9 L1610,519.2 L1621.2,514.1 L1628.6,509.4 L1636.1,503.4 L1639.6,499.9 L1643.1,495.8 L1654.3,480.2 L1663.1,468.8 L1667.5,463.6 L1676.4,454.1 L1687.1,438.3 L1690.5,433.8 L1693,431.4 L1695.5,429.7 L1698,428.8 L1700.5,428.6 L1704,429 L1706.8,429.9 L1708.7,431.2 L1710.1,432.9 L1712,436.3 L1717.4,447.4 L1719.4,450.5 L1726.8,460.1 L1733.5,472.9 L1738.5,481.4 L1746.9,494 L1754.8,504.2 L1761.1,511.3 L1767.5,517.2 L1773.5,521.8 L1783,527.8 L1797.4,535.8 L1808.6,541.2 L1817.6,544.5 L1828.5,547.4 L1848.9,551.8 L1871.8,555.2 L1895.7,558 L1917,559.4" stroke-width="6.4" stroke-dasharray="17 13.5"/><path d="M1332.4,553.9 L1361.7,551.6 L1381.6,548.6 L1395,545.9 L1409.3,542.4 L1421.7,538.9 L1432,535.5 L1448.9,529.1 L1453.9,526.7 L1457.9,524.5 L1464.4,519.6 L1475.9,508.9 L1488.6,497.9 L1494,494.6 L1497,493.5 L1500,492.8 L1503,492.6 L1505.5,492.9 L1508.5,493.6 L1511.5,494.9 L1518.5,499.4 L1533.9,511.4 L1542.4,516.7 L1548.3,519.7 L1554.8,522.3 L1561.3,524.3 L1567.8,525.8 L1573.7,526.6 L1579.7,526.9 L1585.7,526.5 L1591.2,525.6 L1597.1,524 L1603.6,521.8 L1614.9,517.1 L1620.7,514.4 L1625.1,511.8 L1630.6,508 L1635.1,504.3 L1639.1,500.4 L1643.1,495.8 L1647,490.6 L1653.9,479.4 L1657.3,472.5 L1660.8,464.5 L1675.3,423.3 L1696.5,369.8 L1699,364.6 L1701.4,360.7 L1703.9,358.3 L1706.3,357.4 L1708.2,357.7 L1710.1,358.7 L1712,360.4 L1714,362.9 L1726.8,384.3 L1737.2,404.7 L1742.7,413.8 L1759.5,438.7 L1767.5,450 L1774.5,458.3 L1781.4,464.8 L1789.7,471.1 L1808.7,484.4 L1815.2,488.3 L1823.1,492.4 L1839.1,499.4 L1881.4,516.2 L1912.1,527.7 L1917,529" stroke-width="8.6"/><path d="M1332,772.2 L1472,771.9 L1477.5,771.3 L1484,770 L1506,763.5 L1515,761.9 L1537,760.6 L1597,758.6 L1625,756.6 L1638,754.8 L1653.5,751.3 L1658,749.5 L1662,747.2 L1668,742.5 L1683,729.1 L1687,724.8 L1696.3,713 L1699.7,709.6 L1704,705.8 L1709.9,701.5 L1715.3,698.5 L1721.2,696.2 L1726.5,695.1 L1730,695.3 L1733.5,696.1 L1751.3,702.4 L1768.8,707 L1797,715.2 L1813.4,719.3 L1829.3,722.7 L1846.6,725.7 L1863.5,727.9 L1917,731.9" stroke-width="6.4" stroke-dasharray="23 11 5.5 12"/><path d="M1332.4,741 L1363.7,741.7 L1375.2,741.1 L1387,739.8 L1398.4,737.8 L1410.8,734.8 L1422.2,731.2 L1432,727.3 L1449.4,718.9 L1454.4,715.8 L1458.9,712.2 L1464.9,705.9 L1471.9,697 L1477.9,688.5 L1486.1,675.1 L1489,671.3 L1491.5,669 L1494,667.5 L1496.5,666.5 L1499.5,666 L1503,666.3 L1507,667.4 L1510.8,669.3 L1514.2,671.7 L1518.5,676.5 L1527.2,689.2 L1534.7,697.6 L1540.2,702.8 L1546.7,708.3 L1552.2,712.3 L1558.1,715.9 L1563.6,718.7 L1569.1,720.9 L1575,722.8 L1580.5,723.9 L1586,724.4 L1590.9,724.3 L1595.8,723.7 L1601.2,722.4 L1609.5,719.2 L1617.4,714.8 L1628.6,706.8 L1638,698.9 L1645.3,691 L1660,671.5 L1673,658.2 L1677.5,653.2 L1683.9,645 L1691.7,634.3 L1693.6,632.4 L1695.5,631.2 L1697.5,630.5 L1699.4,630.2 L1702.8,630.9 L1706.8,633 L1710.3,635.7 L1713.8,639.6 L1717.2,645.1 L1724.4,659.6 L1739,684.4 L1744,691.6 L1750.5,699.5 L1758.5,707.6 L1768,715.8 L1778.5,723.7 L1788.5,730.1 L1799,735.5 L1809.5,739.8 L1822.5,743.9 L1837,747.3 L1854.9,750.2 L1872.2,752.3 L1893,754.1 L1917,755.3" stroke-width="6.4" stroke-dasharray="17 13.5"/><path d="M1332.4,748.9 L1363.2,747.9 L1374.2,746.7 L1386.5,744.7 L1397.9,742.1 L1409.8,738.5 L1421.2,734.4 L1431.1,730 L1448.9,720.4 L1453.9,717 L1458.4,713.3 L1464.4,706.9 L1470.9,698.5 L1477.4,689.2 L1485.2,676.5 L1488.5,671.8 L1491,669.4 L1493.5,667.7 L1496,666.6 L1499,666 L1502.5,666.2 L1506.5,667.2 L1510.3,669 L1513.7,671.3 L1518,675.8 L1528.2,690.4 L1536.7,699.6 L1543.2,705.4 L1549.7,710.5 L1555.7,714.5 L1562.1,718 L1568.1,720.6 L1574.6,722.6 L1580.5,723.9 L1586.5,724.4 L1591.9,724.2 L1597.8,723.3 L1603.7,721.6 L1609.5,719.2 L1614.9,716.3 L1621.3,712.2 L1630.1,705.6 L1636.5,700.3 L1641.9,695 L1648.3,688 L1652.7,682.6 L1656.6,677 L1660.5,670.3 L1664,663.7 L1671.5,646.8 L1676.9,632.2 L1689.2,596.4 L1693.1,586.5 L1696.1,580.6 L1699,575.9 L1702,573 L1704.5,572.3 L1707,572.8 L1709.5,574.2 L1711.5,576 L1714,579.2 L1718.9,586.4 L1729.1,603.2 L1741.3,622.1 L1752.1,637.5 L1761.3,649.7 L1769.2,658.9 L1776.6,666.6 L1783.5,673.1 L1790.9,679.1 L1802.2,686.8 L1813.2,693.2 L1823.6,698.2 L1842.5,706 L1858.4,712 L1879.8,719.3 L1912,729 L1917,730.1" stroke-width="8.6"/><path d="M1332,966.4 L1469.5,966.2 L1474,965.7 L1478.5,964.6 L1491.5,959.7 L1497,958.1 L1505.5,956.4 L1513.5,955.5 L1535,955 L1560.5,955.5 L1590,955.5 L1628.2,954.4 L1639.6,953.7 L1655.6,951.4 L1661.6,950.1 L1667.1,948.5 L1677.1,944.3 L1701.5,931.2 L1708,928.2 L1713.4,926.3 L1718.8,924.9 L1724.2,924 L1730,923.6 L1734.9,923.6 L1740.8,924 L1754.2,925.4 L1766.1,927.1 L1779.1,929.5 L1815.4,937.2 L1828.2,939.2 L1878.6,942.6 L1917,944.5" stroke-width="6.4" stroke-dasharray="23 11 5.5 12"/><path d="M1332.4,936.1 L1346.2,937.3 L1353.1,937.2 L1358,936.4 L1371.2,933.4 L1392.1,930.2 L1403.5,927.7 L1413.4,924.9 L1429.3,919.5 L1435.8,916.4 L1440.8,912.7 L1446.7,906.8 L1453.6,898.7 L1460.3,889.5 L1468.5,876.2 L1474.8,864.6 L1483.2,848 L1488.1,840.1 L1490.5,837.2 L1493,835 L1495.5,833.7 L1498,833.3 L1501.5,834.1 L1505,836.1 L1509,839.7 L1512.5,843.8 L1517.9,852.2 L1536.4,885.5 L1543.2,895.5 L1550,903.8 L1555.9,909.4 L1562.3,913.9 L1573.5,920 L1581.8,923.2 L1587.7,924.5 L1594.6,925.1 L1601.5,924.9 L1608,923.9 L1613.4,922.4 L1618.8,920.4 L1627.2,916.3 L1635.1,912 L1645,905.4 L1649.4,901.8 L1653.9,897.5 L1662.2,888.1 L1678,868.4 L1683,863.2 L1688.4,858.8 L1692.1,856.4 L1696,854.9 L1699.4,854.7 L1702.7,855.4 L1706.6,857.2 L1710.6,860 L1714.6,863.7 L1719.5,869.4 L1729.3,883.2 L1735.3,890.6 L1744.3,900.4 L1753.7,909.5 L1761.1,915.7 L1768.5,921 L1774.9,925 L1781.8,928.5 L1790.7,932 L1802.1,935.9 L1811.1,938.2 L1822,940.3 L1850.9,945.2 L1873.8,948.4 L1897.1,950.8 L1917,951.9" stroke-width="6.4" stroke-dasharray="17 13.5"/><path d="M1332.4,944 L1346.2,944.4 L1353.1,943.9 L1358,942.9 L1371.2,939.2 L1392.1,934.7 L1403.5,931.5 L1413.4,928.2 L1429.3,921.9 L1435.8,918.4 L1440.8,914.4 L1446.7,908.2 L1453.1,900.2 L1459.8,890.8 L1468.1,877.2 L1483.2,848 L1488.1,840.1 L1490.5,837.2 L1492.5,835.4 L1495,833.9 L1497.5,833.3 L1501,833.9 L1504.5,835.8 L1508.5,839.2 L1512,843.2 L1517.4,851.4 L1533,879.8 L1539.3,890 L1544.2,896.8 L1548.6,902.2 L1553,906.8 L1557.4,910.5 L1563.7,914.7 L1572.5,919.5 L1578.9,922.3 L1584.7,924 L1592.1,924.9 L1599.5,925 L1607,924.1 L1613.4,922.4 L1619.3,920.1 L1626.7,916.6 L1634.1,912.6 L1640.5,908.6 L1649.4,901.8 L1658.3,893.6 L1662.7,889.1 L1668.1,882.2 L1672.5,874.9 L1675.9,867.7 L1685.2,846.2 L1690.1,836.2 L1693.5,830 L1696.5,826.1 L1698.9,823.7 L1701.7,822 L1704.6,821.4 L1707.6,822.2 L1710.6,824.2 L1718.6,831.5 L1723.4,836.6 L1735.7,851.1 L1751.8,873 L1760.2,882.1 L1766.7,887.9 L1774.6,894.1 L1783,900 L1790.9,904.7 L1798.8,908.8 L1807.7,912.8 L1814.6,915.4 L1823.1,917.9 L1853.9,925.9 L1874.8,930.9 L1897.1,935.5 L1917,939.1" stroke-width="8.6"/><path d="M1332,1161 L1442.5,1160.9 L1471.5,1160.6 L1476,1159.7 L1482,1157.7 L1500.6,1148.6 L1509.5,1144.9 L1515,1143.3 L1520.5,1142.6 L1525,1142.8 L1530,1143.3 L1554.4,1148.5 L1567.7,1150.5 L1589.5,1152.3 L1611,1153 L1636.7,1152.8 L1651.6,1151.7 L1671.6,1148.5 L1693,1143.7 L1713.9,1139.6 L1722.9,1138.5 L1737.3,1138 L1758.2,1138.1 L1779,1138.9 L1858,1145.1 L1917,1148.4" stroke-width="6.4" stroke-dasharray="23 11 5.5 12"/><path d="M1332.8,1131.1 L1346,1131.9 L1354.8,1131.6 L1367.1,1129.9 L1379.5,1127.1 L1392.5,1123 L1405,1117.9 L1421.5,1110.4 L1425.5,1108 L1429.5,1104.9 L1436.3,1098 L1449.6,1082.3 L1453.1,1077.8 L1456.1,1073.2 L1459.1,1067.3 L1462.1,1060.5 L1480.9,1012 L1486.8,998.4 L1489.7,992.8 L1492.6,988.6 L1495.1,986.5 L1497.6,985.8 L1500.1,986.7 L1502.5,989.2 L1505.9,994.4 L1509.8,1001.6 L1517.5,1019.1 L1530.2,1050.9 L1539.8,1073.8 L1543.6,1082 L1547.1,1087.8 L1550.1,1091.7 L1554.5,1096.5 L1559.4,1101.2 L1564.7,1105.6 L1570.6,1109.9 L1576,1113.3 L1581.5,1116.1 L1587.4,1118.7 L1594.4,1121.1 L1600.9,1122.7 L1607.3,1123.7 L1614.3,1124.1 L1621.3,1123.9 L1627.8,1123.1 L1633.8,1121.8 L1641.7,1119.5 L1650.6,1115.9 L1654.6,1113.6 L1658.5,1110.8 L1663.4,1106.2 L1675.1,1092.7 L1679.1,1089.2 L1684.1,1085.5 L1687.5,1083.5 L1691,1082.3 L1696.4,1081.4 L1700.8,1081.4 L1703.8,1081.8 L1707.3,1083 L1710.8,1084.7 L1714.8,1087.1 L1727.8,1097.7 L1747,1112.3 L1760.8,1121.8 L1773.1,1128.5 L1779.5,1131.3 L1785,1133.2 L1793,1135.4 L1809.4,1139.1 L1821.8,1141.3 L1832.7,1142.9 L1869.1,1146.1 L1917,1148.9" stroke-width="6.4" stroke-dasharray="17 13.5"/><path d="M1332.8,1139 L1346,1139.1 L1354.8,1138.3 L1366.6,1136 L1379.5,1132.3 L1392.5,1127.5 L1405,1121.7 L1421.5,1113.2 L1425.5,1110.6 L1429.5,1107.3 L1436.3,1100 L1449.6,1083.5 L1453.1,1078.8 L1456.1,1074 L1458.6,1069.1 L1461.6,1062.1 L1480.4,1013.2 L1486.3,999.4 L1489.7,992.8 L1492.1,989.2 L1495.1,986.5 L1497.6,985.8 L1500.1,986.7 L1502.5,989.2 L1505.9,994.4 L1509.8,1001.6 L1517.5,1019.1 L1530.2,1050.9 L1539.8,1073.8 L1543.6,1082 L1547.1,1087.8 L1550.1,1091.7 L1554.5,1096.5 L1559.4,1101.2 L1564.7,1105.6 L1570.6,1109.9 L1576,1113.3 L1582,1116.3 L1587.9,1118.9 L1595.4,1121.4 L1602.9,1123.1 L1610.3,1124 L1617.8,1124.1 L1624.8,1123.5 L1631.8,1122.3 L1641.2,1119.7 L1648.1,1117.1 L1652.6,1114.8 L1657,1112 L1661,1108.8 L1665.4,1104.5 L1675.6,1092.6 L1686.9,1076.7 L1689.3,1073.7 L1691.8,1071.3 L1695.2,1068.9 L1699.2,1067.2 L1703.6,1066.2 L1707.6,1066.1 L1713.6,1067.5 L1716.6,1068.7 L1719.6,1070.4 L1724.6,1074.3 L1738.1,1086.5 L1757.9,1101.2 L1769.7,1109.2 L1779.1,1115 L1787,1119.3 L1794.5,1122.5 L1801.4,1124.9 L1809.4,1127.1 L1828.8,1131.7 L1841.7,1134.3 L1874.5,1139.9 L1900.8,1143.6 L1917,1145.5" stroke-width="8.6"/></g></g></svg></body></html>
